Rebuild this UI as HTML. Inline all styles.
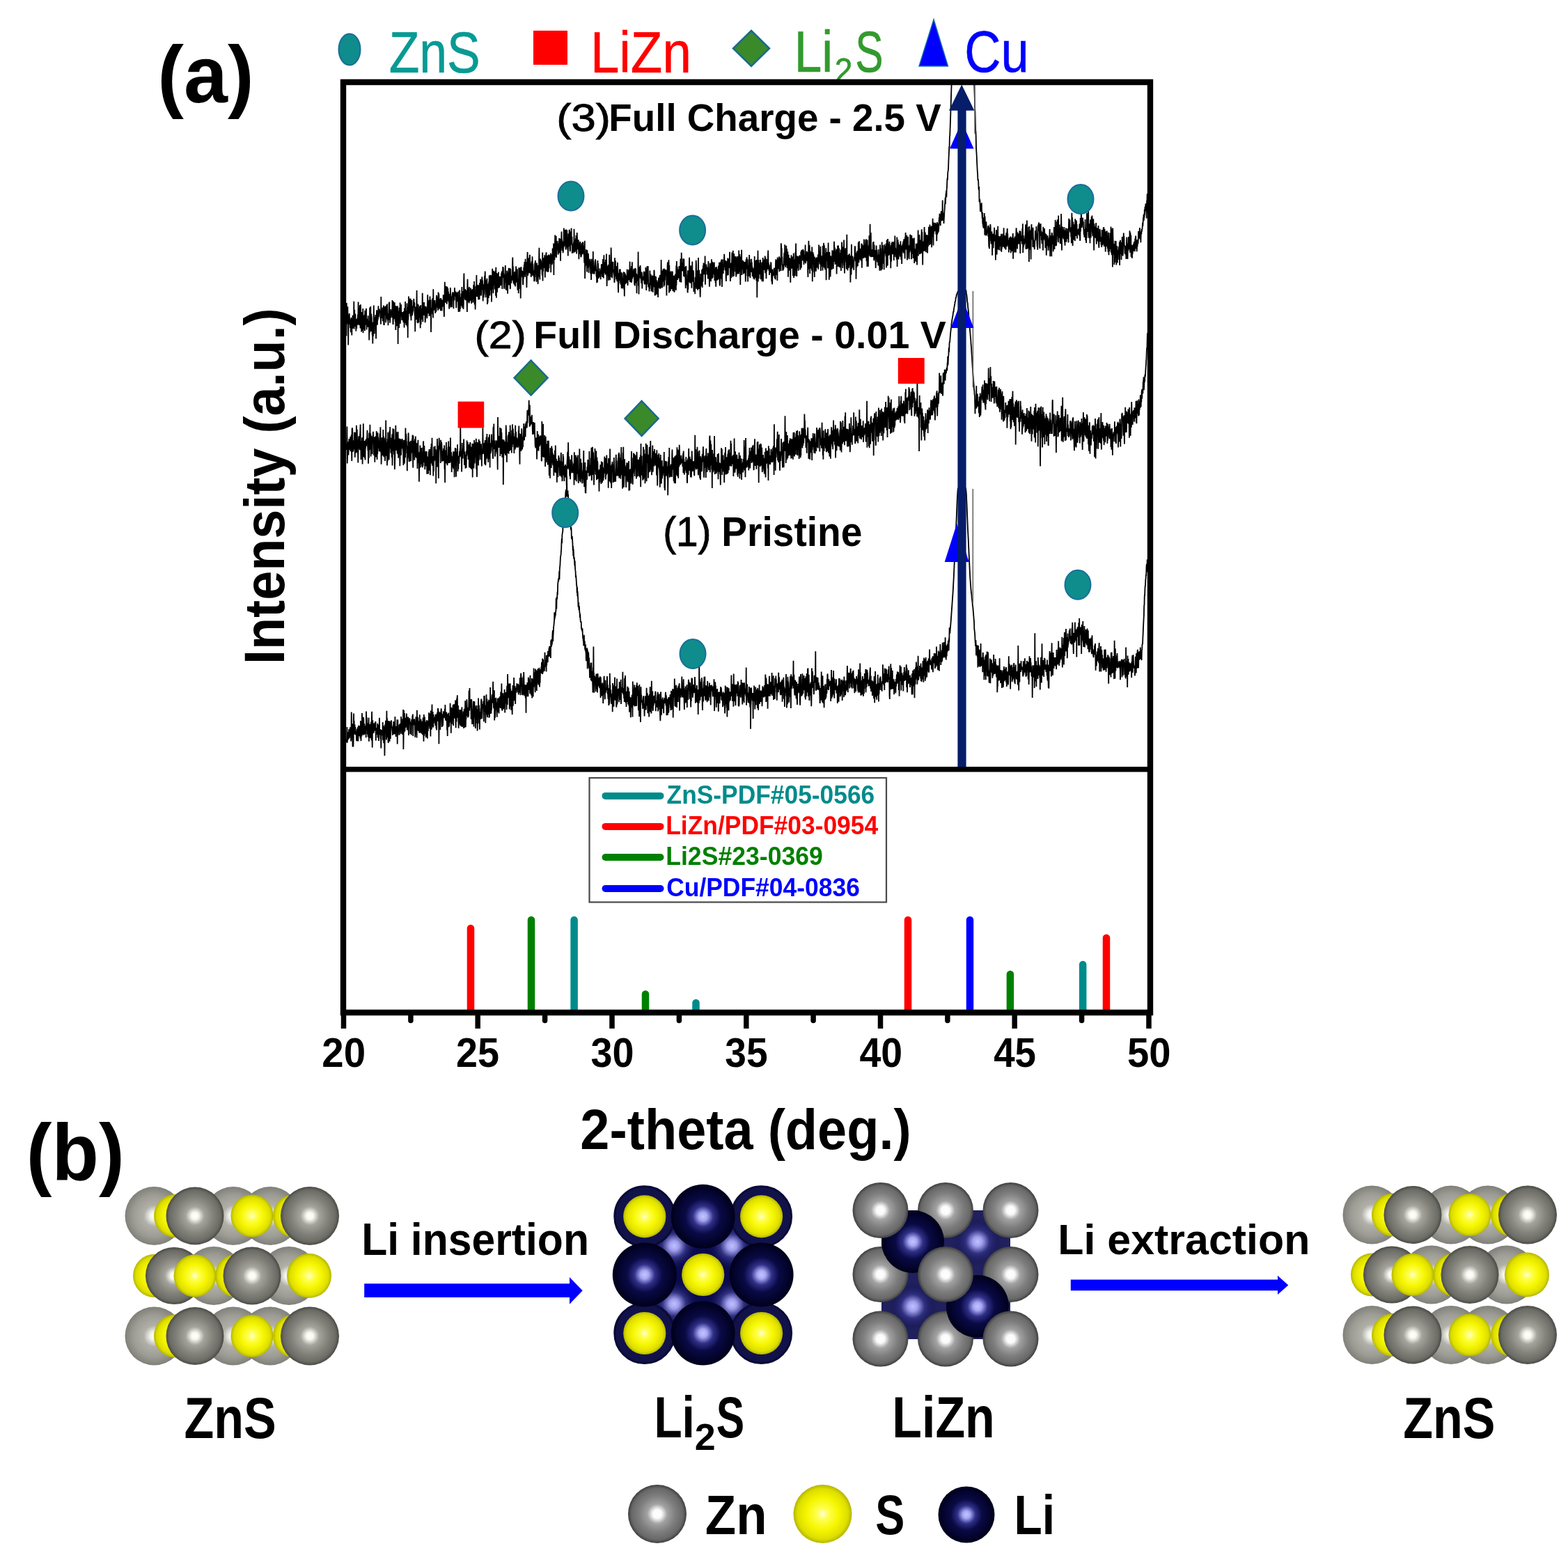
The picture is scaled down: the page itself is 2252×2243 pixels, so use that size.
<!DOCTYPE html>
<html><head><meta charset="utf-8"><title>XRD figure</title>
<style>
html,body{margin:0;padding:0;background:#fff;overflow:hidden;}
svg{display:block;}
text{font-family:'Liberation Sans', Arial, sans-serif;font-kerning:none;}
</style></head>
<body>
<svg width="2252" height="2243" viewBox="0 0 2252 2243">
<rect width="2252" height="2243" fill="#fff"/>

<defs>
 <clipPath id="plotclip"><rect x="497" y="122" width="1151" height="979"/></clipPath>
 <radialGradient id="gZnF" cx="0.5" cy="0.5" r="0.5">
   <stop offset="0" stop-color="#ffffff"/><stop offset="0.12" stop-color="#f8f8f2"/>
   <stop offset="0.32" stop-color="#a4a49c"/><stop offset="0.62" stop-color="#83837c"/><stop offset="0.88" stop-color="#6c6c66"/><stop offset="1" stop-color="#4a4a45"/>
 </radialGradient>
 <radialGradient id="gZnB" cx="0.5" cy="0.5" r="0.5">
   <stop offset="0" stop-color="#ffffff"/><stop offset="0.14" stop-color="#f2f2ec"/>
   <stop offset="0.36" stop-color="#b0b0a9"/><stop offset="0.72" stop-color="#9c9c95"/><stop offset="1" stop-color="#80807a"/>
 </radialGradient>
 <radialGradient id="gS" cx="0.5" cy="0.5" r="0.5">
   <stop offset="0" stop-color="#ffffd8"/><stop offset="0.2" stop-color="#ffff50"/>
   <stop offset="0.55" stop-color="#f6f600"/><stop offset="0.86" stop-color="#dede00"/><stop offset="1" stop-color="#b4b400"/>
 </radialGradient>
 <radialGradient id="gLi" cx="0.5" cy="0.5" r="0.5">
   <stop offset="0" stop-color="#c4c4ff"/><stop offset="0.13" stop-color="#a8a8f4"/>
   <stop offset="0.32" stop-color="#303088"/><stop offset="0.55" stop-color="#0a0a46"/><stop offset="0.85" stop-color="#03032a"/><stop offset="1" stop-color="#00001a"/>
 </radialGradient>
 <radialGradient id="gLiB" cx="0.5" cy="0.5" r="0.5">
   <stop offset="0" stop-color="#c0c0ff"/><stop offset="0.2" stop-color="#a0a0ee"/>
   <stop offset="0.5" stop-color="#303080"/><stop offset="1" stop-color="#0e0e50" stop-opacity="0"/>
 </radialGradient>
 <radialGradient id="gZnL" cx="0.5" cy="0.5" r="0.5">
   <stop offset="0" stop-color="#ffffff"/><stop offset="0.15" stop-color="#fafafa"/>
   <stop offset="0.34" stop-color="#a2a2a2"/><stop offset="0.62" stop-color="#7e7e7e"/><stop offset="0.88" stop-color="#686868"/><stop offset="1" stop-color="#3e3e3e"/>
 </radialGradient>
</defs>

<text x="226.37" y="147.00" font-size="115.00" font-weight="bold" fill="#000" textLength="138.27" lengthAdjust="spacingAndGlyphs">(a)</text>
<ellipse cx="502" cy="71" rx="15.5" ry="22.5" fill="#0f8c8c" stroke="#1a6e9a" stroke-width="2"/>
<text x="558.73" y="104.00" font-size="84.30" font-weight="normal" fill="#089a94" textLength="131.05" lengthAdjust="spacingAndGlyphs" stroke="#089a94" stroke-width="0.6">ZnS</text>
<rect x="766" y="44" width="49" height="49" fill="#ff0000"/>
<text x="847.89" y="104.00" font-size="84.30" font-weight="normal" fill="#ff0000" textLength="144.95" lengthAdjust="spacingAndGlyphs" stroke="#ff0000" stroke-width="0.6">LiZn</text>
<polygon points="1079,44 1105,69.5 1079,95 1053,69.5" fill="#3a8a2a" stroke="#1a6a8a" stroke-width="2.5"/>
<text x="1140.77" y="103.30" font-size="83.14" font-weight="normal" fill="#339a2e" textLength="55.32" lengthAdjust="spacingAndGlyphs" stroke="#339a2e" stroke-width="0.6">Li</text>
<text x="1198.87" y="119.00" font-size="50.87" font-weight="normal" fill="#339a2e" textLength="25.76" lengthAdjust="spacingAndGlyphs" stroke="#339a2e" stroke-width="0.6">2</text>
<text x="1228.25" y="103.30" font-size="83.14" font-weight="normal" fill="#339a2e" textLength="40.32" lengthAdjust="spacingAndGlyphs" stroke="#339a2e" stroke-width="0.6">S</text>
<polygon points="1341,28 1361.5,95 1320,95" fill="#0000ff" stroke="#1a6ab0" stroke-width="1.5"/>
<text x="1385.33" y="103.30" font-size="83.58" font-weight="normal" fill="#0000ff" textLength="92.48" lengthAdjust="spacingAndGlyphs" stroke="#0000ff" stroke-width="0.6">Cu</text>
<g clip-path="url(#plotclip)">
<path d="M497.5,482.4 497.8,434.9 498.1,465.5 498.4,455.3 498.7,456.5 499.0,458.9 499.3,440.3 499.6,458.7 499.9,452.2 500.2,495.4 500.5,463.4 500.8,457.4 501.1,458.1 501.4,454.1 501.7,450.1 502.0,457.0 502.3,466.0 502.6,458.6 502.9,471.0 503.2,459.1 503.5,461.4 503.8,477.2 504.1,466.9 504.4,456.1 504.7,459.5 505.0,467.1 505.3,481.5 505.6,458.8 505.9,459.2 506.2,472.1 506.5,452.7 506.8,458.9 507.1,471.1 507.4,468.0 507.7,462.9 508.0,468.9 508.3,432.8 508.6,472.6 508.9,452.1 509.2,444.7 509.5,464.7 509.8,469.0 510.1,457.1 510.4,450.4 510.7,461.7 511.0,460.7 511.3,475.6 511.6,468.7 511.9,462.8 512.2,472.1 512.5,458.3 512.8,458.2 513.1,466.1 513.4,465.9 513.7,457.5 514.0,451.5 514.3,461.8 514.6,433.6 514.9,466.4 515.2,464.3 515.5,442.3 515.8,459.8 516.1,449.3 516.4,467.1 516.7,438.3 517.0,449.9 517.3,466.8 517.6,471.5 517.9,437.3 518.2,454.6 518.5,463.2 518.8,453.6 519.1,476.5 519.4,447.9 519.7,464.0 520.0,449.6 520.3,475.0 520.6,460.3 520.9,456.8 521.2,442.9 521.5,478.1 521.8,468.5 522.1,468.6 522.4,472.6 522.7,464.4 523.0,454.2 523.3,452.6 523.6,452.5 523.9,475.0 524.2,445.7 524.5,454.6 524.8,457.5 525.1,463.1 525.4,466.7 525.7,447.9 526.0,442.9 526.3,460.8 526.6,473.4 526.9,464.0 527.2,463.2 527.5,457.7 527.8,464.1 528.1,458.7 528.4,469.7 528.7,453.2 529.0,462.9 529.3,460.5 529.6,467.4 529.9,464.3 530.2,488.5 530.5,460.7 530.8,478.0 531.1,441.6 531.4,446.1 531.7,456.8 532.0,468.8 532.3,439.9 532.6,475.8 532.9,474.9 533.2,450.6 533.5,454.1 533.8,456.1 534.1,465.0 534.4,471.3 534.7,481.4 535.0,462.7 535.3,493.4 535.6,466.4 535.9,483.0 536.2,472.4 536.5,478.8 536.8,438.5 537.1,462.3 537.4,455.7 537.7,479.5 538.0,470.5 538.3,460.2 538.6,458.4 538.9,467.7 539.2,455.0 539.5,452.2 539.8,466.4 540.1,486.5 540.4,458.0 540.7,454.3 541.0,447.4 541.3,445.2 541.6,463.9 541.9,466.7 542.2,457.5 542.5,460.2 542.8,457.4 543.1,457.1 543.4,439.3 543.7,449.7 544.0,455.0 544.3,445.2 544.6,447.8 544.9,443.6 545.2,448.0 545.5,449.7 545.8,446.1 546.1,448.1 546.4,457.6 546.7,455.3 547.0,465.6 547.3,425.9 547.6,455.9 547.9,441.6 548.2,447.6 548.5,454.5 548.8,456.7 549.1,455.9 549.4,446.5 549.7,461.3 550.0,441.6 550.3,442.9 550.6,452.6 550.9,438.6 551.2,466.7 551.5,454.9 551.8,467.0 552.1,444.3 552.4,440.8 552.7,446.8 553.0,452.9 553.3,439.5 553.6,449.8 553.9,446.0 554.2,463.3 554.5,440.1 554.8,458.1 555.1,441.0 555.4,438.1 555.7,441.1 556.0,436.5 556.3,450.6 556.6,460.1 556.9,451.4 557.2,456.5 557.5,467.2 557.8,453.4 558.1,452.9 558.4,448.3 558.7,434.7 559.0,459.4 559.3,433.5 559.6,458.6 559.9,451.9 560.2,463.8 560.5,456.1 560.8,443.9 561.1,456.2 561.4,446.8 561.7,450.8 562.0,453.2 562.3,451.4 562.6,452.5 562.9,444.3 563.2,456.2 563.5,430.9 563.8,451.4 564.1,440.7 564.4,464.6 564.7,466.1 565.0,432.8 565.3,454.5 565.6,451.6 565.9,447.8 566.2,458.3 566.5,447.9 566.8,434.3 567.1,449.7 567.4,450.8 567.7,462.0 568.0,439.2 568.3,473.9 568.6,459.1 568.9,439.5 569.2,444.3 569.5,450.0 569.8,439.9 570.1,468.3 570.4,452.2 570.7,439.3 571.0,441.3 571.3,448.6 571.6,493.9 571.9,446.7 572.2,449.6 572.5,453.3 572.8,447.3 573.1,471.0 573.4,441.8 573.7,454.7 574.0,448.6 574.3,453.2 574.6,434.6 574.9,464.8 575.2,445.4 575.5,447.0 575.8,437.1 576.1,438.7 576.4,452.8 576.7,451.2 577.0,455.1 577.3,460.0 577.6,455.2 577.9,448.4 578.2,457.0 578.5,454.8 578.8,448.0 579.1,456.9 579.4,463.0 579.7,452.5 580.0,446.7 580.3,458.1 580.6,470.5 580.9,442.4 581.2,450.5 581.5,450.2 581.8,464.3 582.1,433.0 582.4,455.7 582.7,464.1 583.0,455.0 583.3,467.1 583.6,457.2 583.9,445.9 584.2,453.5 584.5,435.4 584.8,445.1 585.1,469.3 585.4,441.1 585.7,485.1 586.0,448.8 586.3,459.4 586.6,449.3 586.9,425.6 587.2,442.3 587.5,449.7 587.8,435.6 588.1,433.2 588.4,450.4 588.7,439.6 589.0,428.6 589.3,438.6 589.6,454.2 589.9,429.2 590.2,454.4 590.5,460.3 590.8,444.8 591.1,432.8 591.4,430.9 591.7,443.9 592.0,453.1 592.3,446.9 592.6,449.7 592.9,439.6 593.2,447.4 593.5,439.6 593.8,441.3 594.1,431.5 594.4,428.9 594.7,440.2 595.0,434.1 595.3,435.9 595.6,452.8 595.9,445.1 596.2,476.2 596.5,456.2 596.8,440.5 597.1,455.2 597.4,451.1 597.7,440.6 598.0,459.1 598.3,440.1 598.6,416.9 598.9,456.4 599.2,442.0 599.5,463.5 599.8,441.8 600.1,436.4 600.4,464.2 600.7,437.4 601.0,450.4 601.3,463.1 601.6,449.4 601.9,447.3 602.2,449.0 602.5,456.5 602.8,439.6 603.1,453.9 603.4,453.5 603.7,471.3 604.0,443.9 604.3,438.0 604.6,466.1 604.9,443.1 605.2,450.0 605.5,448.3 605.8,458.8 606.1,446.8 606.4,445.9 606.7,420.8 607.0,437.7 607.3,462.3 607.6,439.7 607.9,439.4 608.2,434.1 608.5,452.3 608.8,448.1 609.1,434.1 609.4,452.9 609.7,448.6 610.0,441.9 610.3,439.7 610.6,463.2 610.9,460.5 611.2,443.9 611.5,439.7 611.8,442.2 612.1,453.3 612.4,441.6 612.7,455.0 613.0,449.7 613.3,457.3 613.6,451.6 613.9,442.4 614.2,423.3 614.5,445.5 614.8,450.1 615.1,443.5 615.4,447.1 615.7,436.4 616.0,436.9 616.3,430.9 616.6,453.9 616.9,441.4 617.2,434.4 617.5,425.5 617.8,437.1 618.1,453.0 618.4,442.7 618.7,430.4 619.0,476.9 619.3,451.7 619.6,446.9 619.9,444.7 620.2,448.3 620.5,441.9 620.8,444.1 621.1,428.2 621.4,451.2 621.7,438.3 622.0,456.5 622.3,415.2 622.6,443.1 622.9,446.0 623.2,432.6 623.5,440.7 623.8,443.9 624.1,442.2 624.4,431.0 624.7,435.1 625.0,447.0 625.3,449.8 625.6,438.0 625.9,437.8 626.2,439.2 626.5,447.8 626.8,426.7 627.1,423.9 627.4,438.7 627.7,426.3 628.0,431.6 628.3,438.5 628.6,442.5 628.9,426.7 629.2,445.7 629.5,419.5 629.8,443.0 630.1,421.4 630.4,424.3 630.7,443.6 631.0,432.9 631.3,428.7 631.6,432.1 631.9,441.1 632.2,435.6 632.5,435.6 632.8,446.3 633.1,428.0 633.4,430.2 633.7,429.3 634.0,446.0 634.3,443.9 634.6,446.4 634.9,432.6 635.2,430.9 635.5,440.7 635.8,432.6 636.1,439.6 636.4,438.1 636.7,423.3 637.0,429.1 637.3,428.3 637.6,446.6 637.9,454.9 638.2,427.4 638.5,428.2 638.8,404.7 639.1,429.6 639.4,422.6 639.7,416.1 640.0,434.7 640.3,410.8 640.6,424.3 640.9,427.7 641.2,413.6 641.5,434.8 641.8,436.7 642.1,412.1 642.4,411.9 642.7,432.1 643.0,425.7 643.3,413.8 643.6,423.0 643.9,418.5 644.2,424.5 644.5,434.2 644.8,421.8 645.1,443.6 645.4,439.6 645.7,432.5 646.0,436.4 646.3,438.7 646.6,432.4 646.9,412.9 647.2,433.6 647.5,440.9 647.8,440.9 648.1,425.5 648.4,429.6 648.7,427.5 649.0,440.9 649.3,425.8 649.6,421.2 649.9,426.9 650.2,419.4 650.5,425.4 650.8,423.7 651.1,426.6 651.4,443.2 651.7,420.0 652.0,424.6 652.3,422.4 652.6,431.4 652.9,413.1 653.2,418.3 653.5,425.2 653.8,421.4 654.1,425.8 654.4,421.7 654.7,418.4 655.0,432.6 655.3,442.3 655.6,431.5 655.9,430.5 656.2,433.4 656.5,419.9 656.8,426.6 657.1,427.3 657.4,433.2 657.7,430.2 658.0,418.6 658.3,442.2 658.6,448.0 658.9,428.6 659.2,435.3 659.5,434.0 659.8,439.2 660.1,416.6 660.4,447.4 660.7,426.5 661.0,443.7 661.3,431.8 661.6,426.9 661.9,429.2 662.2,439.3 662.5,421.5 662.8,426.1 663.1,424.7 663.4,412.1 663.7,441.8 664.0,434.3 664.3,428.0 664.6,436.7 664.9,418.0 665.2,426.4 665.5,444.0 665.8,436.2 666.1,403.9 666.4,392.5 666.7,415.0 667.0,426.6 667.3,420.0 667.6,422.2 667.9,430.2 668.2,415.0 668.5,425.7 668.8,431.3 669.1,427.8 669.4,426.9 669.7,416.8 670.0,427.8 670.3,418.4 670.6,435.5 670.9,448.1 671.2,415.1 671.5,400.8 671.8,418.2 672.1,426.2 672.4,433.0 672.7,433.3 673.0,414.8 673.3,414.8 673.6,435.4 673.9,412.0 674.2,433.8 674.5,420.8 674.8,430.8 675.1,430.3 675.4,431.1 675.7,431.6 676.0,413.6 676.3,426.5 676.6,423.7 676.9,426.6 677.2,435.9 677.5,420.8 677.8,416.4 678.1,416.1 678.4,420.2 678.7,430.6 679.0,414.9 679.3,434.4 679.6,425.6 679.9,420.2 680.2,408.9 680.5,424.5 680.8,428.7 681.1,403.9 681.4,433.2 681.7,437.5 682.0,424.1 682.3,425.4 682.6,444.4 682.9,432.3 683.2,410.7 683.5,419.3 683.8,417.6 684.1,417.5 684.4,395.1 684.7,426.0 685.0,411.8 685.3,423.7 685.6,416.3 685.9,426.1 686.2,414.2 686.5,408.9 686.8,421.9 687.1,430.4 687.4,412.8 687.7,429.4 688.0,418.0 688.3,409.7 688.6,430.1 688.9,406.2 689.2,424.3 689.5,408.8 689.8,418.1 690.1,400.9 690.4,404.5 690.7,423.4 691.0,424.4 691.3,412.5 691.6,407.5 691.9,416.2 692.2,397.4 692.5,400.0 692.8,409.6 693.1,402.6 693.4,421.4 693.7,432.4 694.0,409.3 694.3,408.4 694.6,427.3 694.9,420.7 695.2,422.9 695.5,410.3 695.8,405.5 696.1,395.9 696.4,404.5 696.7,389.6 697.0,404.8 697.3,418.5 697.6,427.2 697.9,420.6 698.2,402.2 698.5,415.9 698.8,403.0 699.1,419.3 699.4,399.8 699.7,419.7 700.0,437.0 700.3,420.2 700.6,434.4 700.9,412.6 701.2,407.4 701.5,424.1 701.8,427.9 702.1,404.7 702.4,410.9 702.7,395.5 703.0,407.8 703.3,418.6 703.6,424.4 703.9,403.5 704.2,394.8 704.5,412.6 704.8,416.8 705.1,414.6 705.4,411.0 705.7,395.3 706.0,433.4 706.3,407.4 706.6,406.4 706.9,415.2 707.2,385.7 707.5,406.9 707.8,406.1 708.1,411.2 708.4,421.1 708.7,412.1 709.0,388.7 709.3,403.8 709.6,409.3 709.9,408.7 710.2,394.2 710.5,390.3 710.8,415.5 711.1,410.5 711.4,406.7 711.7,388.4 712.0,424.8 712.3,383.8 712.6,403.0 712.9,427.8 713.2,392.0 713.5,408.7 713.8,394.2 714.1,419.8 714.4,392.7 714.7,408.3 715.0,406.9 715.3,394.6 715.6,414.1 715.9,390.5 716.2,397.7 716.5,404.1 716.8,399.9 717.1,408.6 717.4,413.0 717.7,400.3 718.0,397.5 718.3,397.4 718.6,398.7 718.9,410.3 719.2,399.5 719.5,398.6 719.8,400.2 720.1,392.3 720.4,409.4 720.7,389.8 721.0,400.1 721.3,414.9 721.6,388.5 721.9,398.8 722.2,383.1 722.5,393.8 722.8,383.7 723.1,395.1 723.4,393.3 723.7,400.0 724.0,414.8 724.3,401.6 724.6,405.5 724.9,398.4 725.2,396.5 725.5,390.7 725.8,381.0 726.1,400.2 726.4,415.6 726.7,404.7 727.0,394.7 727.3,417.1 727.6,396.2 727.9,394.5 728.2,388.7 728.5,391.4 728.8,398.9 729.1,421.8 729.4,399.7 729.7,391.4 730.0,395.9 730.3,399.8 730.6,384.8 730.9,403.5 731.2,409.4 731.5,405.5 731.8,408.3 732.1,389.2 732.4,385.0 732.7,415.1 733.0,413.0 733.3,386.2 733.6,403.7 733.9,401.7 734.2,406.8 734.5,403.2 734.8,395.8 735.1,402.6 735.4,402.0 735.7,399.7 736.0,381.2 736.3,369.4 736.6,391.4 736.9,382.6 737.2,401.3 737.5,405.7 737.8,407.1 738.1,394.3 738.4,398.5 738.7,409.3 739.0,390.0 739.3,406.4 739.6,404.1 739.9,407.9 740.2,411.4 740.5,389.5 740.8,406.2 741.1,382.4 741.4,389.0 741.7,388.4 742.0,405.1 742.3,387.7 742.6,397.9 742.9,386.2 743.2,408.6 743.5,416.6 743.8,400.7 744.1,415.3 744.4,404.7 744.7,421.2 745.0,400.7 745.3,384.2 745.6,415.1 745.9,399.1 746.2,390.1 746.5,394.1 746.8,384.4 747.1,399.0 747.4,389.8 747.7,428.4 748.0,406.9 748.3,383.3 748.6,384.4 748.9,393.4 749.2,388.6 749.5,396.9 749.8,397.0 750.1,389.0 750.4,390.6 750.7,400.3 751.0,408.7 751.3,408.7 751.6,393.2 751.9,400.6 752.2,383.9 752.5,394.6 752.8,380.1 753.1,386.4 753.4,376.0 753.7,378.0 754.0,397.7 754.3,392.1 754.6,371.7 754.9,380.3 755.2,386.6 755.5,387.2 755.8,376.2 756.1,385.3 756.4,413.1 756.7,398.1 757.0,389.5 757.3,370.7 757.6,361.9 757.9,384.9 758.2,395.7 758.5,385.7 758.8,392.8 759.1,379.2 759.4,370.5 759.7,391.7 760.0,385.3 760.3,391.2 760.6,370.7 760.9,365.7 761.2,378.4 761.5,392.8 761.8,379.1 762.1,379.0 762.4,379.3 762.7,397.8 763.0,395.3 763.3,378.0 763.6,375.6 763.9,375.5 764.2,395.9 764.5,368.2 764.8,378.0 765.1,392.9 765.4,379.2 765.7,385.5 766.0,394.9 766.3,394.9 766.6,397.3 766.9,388.2 767.2,404.2 767.5,390.2 767.8,403.5 768.1,377.6 768.4,397.9 768.7,376.3 769.0,374.0 769.3,393.8 769.6,380.8 769.9,393.4 770.2,378.4 770.5,404.8 770.8,388.9 771.1,377.6 771.4,390.4 771.7,397.2 772.0,380.7 772.3,393.2 772.6,408.0 772.9,396.1 773.2,387.1 773.5,381.2 773.8,397.8 774.1,371.1 774.4,355.7 774.7,378.7 775.0,374.1 775.3,401.5 775.6,385.2 775.9,373.7 776.2,371.4 776.5,387.3 776.8,373.7 777.1,375.7 777.4,380.1 777.7,381.4 778.0,381.1 778.3,380.8 778.6,392.1 778.9,395.6 779.2,362.4 779.5,403.5 779.8,379.2 780.1,389.8 780.4,370.2 780.7,380.3 781.0,379.0 781.3,377.8 781.6,384.7 781.9,382.4 782.2,366.3 782.5,374.7 782.8,398.6 783.1,382.1 783.4,372.1 783.7,372.4 784.0,373.5 784.3,364.2 784.6,362.3 784.9,389.7 785.2,370.7 785.5,375.2 785.8,367.0 786.1,386.6 786.4,390.8 786.7,371.7 787.0,378.7 787.3,366.4 787.6,390.4 787.9,382.3 788.2,365.4 788.5,385.2 788.8,376.6 789.1,377.1 789.4,376.5 789.7,366.6 790.0,367.8 790.3,378.6 790.6,372.2 790.9,363.6 791.2,391.3 791.5,370.2 791.8,366.7 792.1,365.3 792.4,377.7 792.7,380.1 793.0,373.1 793.3,378.4 793.6,356.5 793.9,366.3 794.2,365.0 794.5,368.8 794.8,372.7 795.1,349.4 795.4,395.1 795.7,358.8 796.0,369.0 796.3,372.7 796.6,372.2 796.9,351.5 797.2,337.4 797.5,352.9 797.8,368.6 798.1,353.0 798.4,351.1 798.7,338.8 799.0,369.9 799.3,363.0 799.6,349.8 799.9,356.0 800.2,355.7 800.5,346.1 800.8,353.2 801.1,357.4 801.4,359.7 801.7,365.8 802.0,356.2 802.3,349.6 802.6,357.2 802.9,347.7 803.2,341.9 803.5,363.6 803.8,349.6 804.1,354.1 804.4,359.0 804.7,342.7 805.0,374.7 805.3,357.1 805.6,345.9 805.9,356.5 806.2,345.8 806.5,332.4 806.8,349.9 807.1,343.9 807.4,360.0 807.7,354.2 808.0,346.6 808.3,357.3 808.6,363.2 808.9,360.9 809.2,353.5 809.5,355.8 809.8,327.6 810.1,347.6 810.4,353.9 810.7,346.8 811.0,350.4 811.3,336.6 811.6,330.8 811.9,330.1 812.2,341.8 812.5,358.6 812.8,357.0 813.1,335.3 813.4,329.5 813.7,352.7 814.0,349.4 814.3,330.6 814.6,355.5 814.9,346.4 815.2,358.5 815.5,348.3 815.8,367.6 816.1,348.3 816.4,335.3 816.7,342.9 817.0,338.5 817.3,354.1 817.6,329.7 817.9,330.7 818.2,353.2 818.5,358.0 818.8,361.2 819.1,358.0 819.4,332.5 819.7,340.8 820.0,342.6 820.3,348.1 820.6,327.5 820.9,348.8 821.2,351.8 821.5,340.1 821.8,363.8 822.1,361.5 822.4,350.6 822.7,360.6 823.0,360.4 823.3,354.8 823.6,354.7 823.9,347.5 824.2,363.2 824.5,328.7 824.8,344.7 825.1,358.3 825.4,344.6 825.7,355.6 826.0,361.6 826.3,352.5 826.6,352.8 826.9,342.3 827.2,358.9 827.5,338.1 827.8,340.4 828.1,364.4 828.4,356.1 828.7,334.1 829.0,340.9 829.3,353.3 829.6,344.7 829.9,357.7 830.2,354.5 830.5,358.4 830.8,344.2 831.1,360.2 831.4,372.2 831.7,348.4 832.0,359.6 832.3,364.6 832.6,362.0 832.9,356.1 833.2,346.8 833.5,349.7 833.8,364.5 834.1,366.7 834.4,369.3 834.7,367.3 835.0,367.2 835.3,355.6 835.6,349.0 835.9,362.0 836.2,365.1 836.5,361.6 836.8,347.2 837.1,356.8 837.4,348.3 837.7,363.7 838.0,353.1 838.3,361.7 838.6,366.7 838.9,365.5 839.2,377.4 839.5,355.1 839.8,345.7 840.1,400.0 840.4,385.6 840.7,380.9 841.0,370.9 841.3,381.4 841.6,370.7 841.9,358.2 842.2,365.6 842.5,376.1 842.8,366.8 843.1,390.5 843.4,359.1 843.7,370.0 844.0,385.0 844.3,369.6 844.6,365.3 844.9,363.8 845.2,370.2 845.5,391.7 845.8,382.0 846.1,383.5 846.4,374.3 846.7,380.2 847.0,381.1 847.3,371.9 847.6,376.7 847.9,383.3 848.2,392.9 848.5,381.7 848.8,387.3 849.1,402.1 849.4,375.7 849.7,371.8 850.0,393.3 850.3,388.4 850.6,383.5 850.9,387.3 851.2,381.8 851.5,390.2 851.8,361.0 852.1,393.5 852.4,374.6 852.7,378.2 853.0,387.5 853.3,382.0 853.6,393.6 853.9,386.5 854.2,381.8 854.5,389.4 854.8,382.2 855.1,372.2 855.4,376.5 855.7,380.0 856.0,383.4 856.3,389.2 856.6,397.4 856.9,394.0 857.2,406.3 857.5,401.4 857.8,387.0 858.1,405.3 858.4,374.1 858.7,384.6 859.0,378.0 859.3,400.0 859.6,391.6 859.9,399.3 860.2,393.1 860.5,396.1 860.8,389.7 861.1,392.8 861.4,385.3 861.7,395.6 862.0,397.6 862.3,392.1 862.6,401.1 862.9,394.3 863.2,388.2 863.5,393.7 863.8,379.7 864.1,379.8 864.4,384.5 864.7,386.5 865.0,397.6 865.3,378.9 865.6,397.9 865.9,372.0 866.2,379.9 866.5,387.4 866.8,399.4 867.1,381.6 867.4,366.2 867.7,392.0 868.0,387.5 868.3,376.9 868.6,377.3 868.9,380.8 869.2,388.8 869.5,394.5 869.8,372.8 870.1,387.5 870.4,387.3 870.7,383.9 871.0,364.5 871.3,388.6 871.6,411.1 871.9,398.5 872.2,383.6 872.5,395.5 872.8,382.0 873.1,383.5 873.4,393.6 873.7,380.1 874.0,402.8 874.3,385.5 874.6,384.7 874.9,395.6 875.2,365.7 875.5,376.2 875.8,391.7 876.1,402.2 876.4,385.2 876.7,389.3 877.0,379.0 877.3,386.3 877.6,355.5 877.9,365.9 878.2,397.8 878.5,375.4 878.8,377.7 879.1,399.3 879.4,395.9 879.7,379.9 880.0,379.9 880.3,384.7 880.6,375.9 880.9,391.5 881.2,387.5 881.5,387.6 881.8,394.3 882.1,394.2 882.4,406.0 882.7,403.0 883.0,370.3 883.3,397.3 883.6,377.0 883.9,374.2 884.2,396.4 884.5,382.3 884.8,386.6 885.1,401.2 885.4,383.9 885.7,381.9 886.0,394.7 886.3,404.3 886.6,397.6 886.9,376.7 887.2,386.3 887.5,391.8 887.8,413.4 888.1,420.2 888.4,403.2 888.7,407.2 889.0,392.1 889.3,400.5 889.6,401.0 889.9,386.4 890.2,396.6 890.5,402.9 890.8,386.4 891.1,406.1 891.4,405.9 891.7,409.0 892.0,390.8 892.3,400.1 892.6,414.1 892.9,407.6 893.2,391.7 893.5,402.2 893.8,414.6 894.1,399.4 894.4,404.2 894.7,413.0 895.0,400.2 895.3,399.5 895.6,390.3 895.9,393.9 896.2,415.8 896.5,399.2 896.8,425.4 897.1,391.1 897.4,400.6 897.7,408.4 898.0,392.9 898.3,407.8 898.6,395.4 898.9,404.0 899.2,405.6 899.5,406.4 899.8,395.7 900.1,398.2 900.4,405.0 900.7,386.5 901.0,401.3 901.3,404.7 901.6,409.9 901.9,398.7 902.2,397.0 902.5,400.1 902.8,387.6 903.1,396.1 903.4,402.2 903.7,400.7 904.0,386.9 904.3,394.0 904.6,375.5 904.9,405.1 905.2,391.3 905.5,399.0 905.8,385.1 906.1,395.3 906.4,400.6 906.7,406.0 907.0,381.9 907.3,404.4 907.6,394.0 907.9,376.2 908.2,400.4 908.5,392.5 908.8,392.5 909.1,388.4 909.4,397.8 909.7,396.0 910.0,393.8 910.3,385.9 910.6,390.4 910.9,399.8 911.2,408.9 911.5,395.5 911.8,410.4 912.1,395.8 912.4,384.7 912.7,402.4 913.0,386.0 913.3,400.0 913.6,406.8 913.9,392.7 914.2,394.9 914.5,421.2 914.8,398.3 915.1,398.5 915.4,403.8 915.7,394.8 916.0,394.9 916.3,399.8 916.6,361.4 916.9,410.4 917.2,384.9 917.5,422.4 917.8,401.6 918.1,396.4 918.4,383.3 918.7,398.4 919.0,384.6 919.3,389.2 919.6,381.0 919.9,388.1 920.2,400.8 920.5,398.2 920.8,400.2 921.1,406.6 921.4,396.8 921.7,390.6 922.0,394.6 922.3,414.6 922.6,398.1 922.9,401.2 923.2,397.0 923.5,400.6 923.8,402.6 924.1,398.2 924.4,396.8 924.7,390.5 925.0,389.9 925.3,402.9 925.6,406.5 925.9,408.4 926.2,399.6 926.5,390.6 926.8,405.7 927.1,405.7 927.4,383.9 927.7,407.9 928.0,405.7 928.3,417.1 928.6,388.4 928.9,387.0 929.2,408.6 929.5,382.1 929.8,393.3 930.1,389.9 930.4,390.9 930.7,382.0 931.0,399.5 931.3,412.4 931.6,407.1 931.9,407.5 932.2,409.0 932.5,418.5 932.8,409.3 933.1,415.1 933.4,388.4 933.7,408.4 934.0,393.3 934.3,409.0 934.6,407.7 934.9,394.2 935.2,408.0 935.5,418.4 935.8,411.7 936.1,412.9 936.4,397.9 936.7,400.0 937.0,395.6 937.3,408.7 937.6,419.7 937.9,412.0 938.2,407.5 938.5,395.9 938.8,412.1 939.1,405.0 939.4,387.7 939.7,389.5 940.0,403.9 940.3,398.1 940.6,424.6 940.9,407.7 941.2,396.5 941.5,402.2 941.8,423.8 942.1,397.3 942.4,415.1 942.7,411.6 943.0,422.3 943.3,412.4 943.6,402.6 943.9,412.2 944.2,407.3 944.5,423.6 944.8,405.7 945.1,426.9 945.4,405.0 945.7,410.5 946.0,398.8 946.3,406.7 946.6,405.4 946.9,406.5 947.2,413.8 947.5,398.4 947.8,394.8 948.1,414.7 948.4,399.7 948.7,395.2 949.0,413.6 949.3,409.1 949.6,373.0 949.9,395.9 950.2,407.4 950.5,407.3 950.8,392.7 951.1,413.6 951.4,388.6 951.7,393.8 952.0,396.9 952.3,395.0 952.6,386.3 952.9,404.6 953.2,393.1 953.5,411.8 953.8,385.6 954.1,390.2 954.4,409.7 954.7,392.8 955.0,402.5 955.3,386.9 955.6,388.5 955.9,390.1 956.2,390.8 956.5,387.6 956.8,391.3 957.1,398.1 957.4,424.6 957.7,392.7 958.0,398.4 958.3,401.4 958.6,381.3 958.9,376.6 959.2,409.5 959.5,406.9 959.8,394.4 960.1,397.8 960.4,373.3 960.7,381.0 961.0,420.6 961.3,380.9 961.6,405.9 961.9,390.1 962.2,400.5 962.5,417.7 962.8,417.7 963.1,396.2 963.4,410.3 963.7,389.4 964.0,394.3 964.3,404.4 964.6,415.1 964.9,395.6 965.2,407.2 965.5,403.0 965.8,389.5 966.1,401.2 966.4,418.0 966.7,402.0 967.0,408.2 967.3,411.6 967.6,395.8 967.9,415.9 968.2,418.6 968.5,419.6 968.8,416.7 969.1,398.6 969.4,397.2 969.7,395.0 970.0,393.6 970.3,394.5 970.6,412.4 970.9,416.8 971.2,381.4 971.5,409.5 971.8,375.0 972.1,397.1 972.4,389.8 972.7,382.9 973.0,402.0 973.3,399.1 973.6,393.6 973.9,391.8 974.2,386.6 974.5,394.6 974.8,389.2 975.1,399.4 975.4,381.9 975.7,395.7 976.0,398.0 976.3,404.8 976.6,402.3 976.9,393.1 977.2,383.7 977.5,371.6 977.8,389.6 978.1,403.6 978.4,405.6 978.7,362.7 979.0,380.5 979.3,384.4 979.6,377.2 979.9,389.4 980.2,387.8 980.5,382.1 980.8,387.0 981.1,371.3 981.4,377.7 981.7,378.6 982.0,396.9 982.3,371.6 982.6,386.2 982.9,396.5 983.2,388.5 983.5,397.7 983.8,383.3 984.1,394.7 984.4,400.0 984.7,413.9 985.0,399.2 985.3,382.1 985.6,393.0 985.9,394.4 986.2,409.8 986.5,400.3 986.8,409.3 987.1,402.6 987.4,417.4 987.7,420.5 988.0,388.2 988.3,415.9 988.6,401.8 988.9,402.5 989.2,396.8 989.5,405.5 989.8,387.1 990.1,369.8 990.4,391.0 990.7,401.8 991.0,394.2 991.3,406.6 991.6,402.9 991.9,393.2 992.2,381.3 992.5,403.4 992.8,400.7 993.1,402.9 993.4,413.8 993.7,397.3 994.0,397.1 994.3,375.5 994.6,404.8 994.9,398.5 995.2,391.5 995.5,403.0 995.8,388.3 996.1,393.4 996.4,419.0 996.7,406.6 997.0,408.4 997.3,406.6 997.6,405.5 997.9,410.8 998.2,422.3 998.5,398.1 998.8,406.4 999.1,412.3 999.4,395.2 999.7,373.8 1000.0,379.1 1000.3,414.7 1000.6,414.1 1000.9,394.3 1001.2,398.4 1001.5,405.0 1001.8,388.4 1002.1,416.8 1002.4,387.8 1002.7,391.0 1003.0,369.9 1003.3,413.9 1003.6,398.8 1003.9,414.9 1004.2,387.7 1004.5,413.5 1004.8,398.6 1005.1,399.8 1005.4,419.1 1005.7,426.8 1006.0,411.7 1006.3,393.1 1006.6,406.5 1006.9,411.0 1007.2,402.8 1007.5,402.8 1007.8,401.7 1008.1,387.2 1008.4,399.0 1008.7,413.0 1009.0,385.8 1009.3,396.8 1009.6,404.5 1009.9,381.3 1010.2,393.9 1010.5,377.4 1010.8,388.4 1011.1,379.8 1011.4,394.3 1011.7,388.7 1012.0,390.5 1012.3,390.9 1012.6,367.5 1012.9,408.7 1013.2,388.9 1013.5,379.9 1013.8,384.3 1014.1,384.6 1014.4,379.6 1014.7,385.3 1015.0,384.4 1015.3,394.5 1015.6,383.6 1015.9,393.0 1016.2,391.7 1016.5,386.2 1016.8,400.6 1017.1,387.7 1017.4,375.1 1017.7,385.9 1018.0,388.5 1018.3,386.8 1018.6,389.7 1018.9,411.8 1019.2,389.8 1019.5,392.3 1019.8,377.8 1020.1,401.5 1020.4,387.4 1020.7,379.8 1021.0,404.2 1021.3,394.0 1021.6,396.5 1021.9,372.3 1022.2,381.5 1022.5,396.0 1022.8,400.2 1023.1,375.9 1023.4,385.8 1023.7,398.7 1024.0,384.6 1024.3,385.6 1024.6,384.8 1024.9,377.0 1025.2,391.2 1025.5,394.1 1025.8,376.4 1026.1,392.2 1026.4,402.9 1026.7,393.6 1027.0,401.5 1027.3,386.0 1027.6,406.2 1027.9,383.8 1028.2,411.8 1028.5,387.6 1028.8,384.9 1029.1,383.2 1029.4,388.3 1029.7,387.6 1030.0,402.7 1030.3,389.5 1030.6,399.9 1030.9,386.6 1031.2,389.6 1031.5,401.5 1031.8,382.7 1032.1,382.4 1032.4,381.3 1032.7,399.4 1033.0,376.8 1033.3,378.3 1033.6,406.1 1033.9,410.5 1034.2,406.5 1034.5,376.6 1034.8,392.1 1035.1,400.4 1035.4,392.4 1035.7,374.2 1036.0,387.2 1036.3,372.6 1036.6,377.1 1036.9,412.1 1037.2,396.2 1037.5,373.3 1037.8,372.5 1038.1,392.5 1038.4,380.9 1038.7,392.9 1039.0,379.7 1039.3,383.9 1039.6,388.1 1039.9,374.4 1040.2,364.8 1040.5,372.1 1040.8,377.0 1041.1,381.8 1041.4,383.1 1041.7,382.8 1042.0,388.8 1042.3,373.9 1042.6,397.7 1042.9,404.0 1043.2,386.8 1043.5,375.3 1043.8,396.0 1044.1,389.7 1044.4,384.8 1044.7,381.1 1045.0,375.1 1045.3,370.6 1045.6,389.8 1045.9,395.2 1046.2,371.7 1046.5,382.0 1046.8,385.0 1047.1,378.2 1047.4,374.6 1047.7,378.4 1048.0,361.8 1048.3,381.6 1048.6,379.0 1048.9,404.1 1049.2,391.6 1049.5,378.0 1049.8,381.3 1050.1,399.1 1050.4,397.8 1050.7,376.4 1051.0,379.2 1051.3,362.4 1051.6,376.7 1051.9,378.2 1052.2,372.0 1052.5,397.6 1052.8,359.8 1053.1,377.9 1053.4,383.4 1053.7,383.6 1054.0,396.5 1054.3,364.2 1054.6,371.0 1054.9,379.8 1055.2,380.2 1055.5,374.8 1055.8,370.9 1056.1,390.2 1056.4,368.1 1056.7,373.2 1057.0,394.3 1057.3,397.5 1057.6,388.6 1057.9,370.7 1058.2,370.9 1058.5,370.6 1058.8,368.2 1059.1,375.9 1059.4,393.6 1059.7,387.9 1060.0,372.6 1060.3,372.5 1060.6,368.4 1060.9,393.3 1061.2,359.6 1061.5,383.5 1061.8,365.6 1062.1,369.6 1062.4,365.0 1062.7,390.5 1063.0,379.5 1063.3,408.9 1063.6,369.4 1063.9,368.7 1064.2,386.2 1064.5,385.8 1064.8,377.0 1065.1,358.8 1065.4,394.9 1065.7,385.7 1066.0,384.0 1066.3,373.7 1066.6,386.6 1066.9,374.1 1067.2,380.5 1067.5,378.2 1067.8,393.5 1068.1,375.6 1068.4,377.1 1068.7,392.5 1069.0,383.6 1069.3,381.4 1069.6,379.4 1069.9,392.2 1070.2,375.9 1070.5,387.9 1070.8,404.6 1071.1,388.0 1071.4,376.1 1071.7,372.2 1072.0,386.7 1072.3,372.8 1072.6,369.4 1072.9,378.6 1073.2,375.5 1073.5,396.4 1073.8,372.6 1074.1,404.5 1074.4,380.6 1074.7,389.9 1075.0,395.9 1075.3,391.5 1075.6,396.8 1075.9,379.2 1076.2,365.9 1076.5,387.5 1076.8,372.1 1077.1,383.5 1077.4,399.3 1077.7,387.3 1078.0,383.0 1078.3,377.3 1078.6,385.8 1078.9,386.8 1079.2,371.8 1079.5,391.1 1079.8,376.5 1080.1,389.7 1080.4,382.4 1080.7,397.1 1081.0,395.5 1081.3,386.4 1081.6,384.9 1081.9,390.4 1082.2,400.0 1082.5,396.5 1082.8,387.0 1083.1,388.5 1083.4,401.6 1083.7,368.1 1084.0,390.7 1084.3,375.7 1084.6,399.2 1084.9,380.1 1085.2,385.5 1085.5,374.1 1085.8,385.7 1086.1,394.0 1086.4,403.3 1086.7,373.0 1087.0,381.8 1087.3,427.2 1087.6,396.6 1087.9,386.9 1088.2,392.7 1088.5,359.7 1088.8,404.4 1089.1,389.4 1089.4,373.0 1089.7,400.2 1090.0,381.6 1090.3,377.5 1090.6,393.7 1090.9,392.4 1091.2,383.5 1091.5,387.4 1091.8,374.1 1092.1,373.0 1092.4,397.2 1092.7,401.3 1093.0,391.9 1093.3,391.1 1093.6,382.8 1093.9,385.2 1094.2,376.5 1094.5,404.2 1094.8,379.7 1095.1,389.5 1095.4,384.9 1095.7,370.0 1096.0,404.3 1096.3,379.9 1096.6,375.5 1096.9,376.5 1097.2,373.6 1097.5,382.9 1097.8,372.3 1098.1,387.9 1098.4,382.4 1098.7,367.4 1099.0,392.2 1099.3,383.3 1099.6,369.7 1099.9,384.8 1100.2,385.4 1100.5,400.2 1100.8,371.9 1101.1,389.8 1101.4,379.9 1101.7,387.4 1102.0,378.3 1102.3,380.5 1102.6,386.4 1102.9,369.0 1103.2,359.6 1103.5,381.5 1103.8,377.2 1104.1,382.9 1104.4,388.9 1104.7,380.1 1105.0,395.0 1105.3,382.4 1105.6,384.2 1105.9,391.9 1106.2,389.6 1106.5,382.9 1106.8,385.3 1107.1,376.4 1107.4,378.1 1107.7,385.8 1108.0,393.5 1108.3,404.6 1108.6,394.2 1108.9,405.9 1109.2,408.3 1109.5,386.5 1109.8,397.4 1110.1,392.9 1110.4,394.9 1110.7,395.6 1111.0,392.4 1111.3,395.7 1111.6,389.1 1111.9,384.5 1112.2,389.8 1112.5,392.2 1112.8,399.7 1113.1,390.8 1113.4,394.5 1113.7,401.4 1114.0,376.6 1114.3,372.4 1114.6,391.3 1114.9,385.6 1115.2,374.5 1115.5,394.9 1115.8,383.4 1116.1,373.3 1116.4,402.9 1116.7,369.4 1117.0,382.0 1117.3,374.7 1117.6,382.3 1117.9,386.5 1118.2,371.6 1118.5,378.5 1118.8,377.8 1119.1,368.3 1119.4,390.3 1119.7,379.6 1120.0,374.4 1120.3,370.1 1120.6,373.2 1120.9,377.9 1121.2,371.3 1121.5,388.9 1121.8,349.3 1122.1,353.3 1122.4,372.8 1122.7,356.2 1123.0,374.5 1123.3,368.4 1123.6,381.2 1123.9,379.5 1124.2,388.7 1124.5,384.8 1124.8,388.3 1125.1,380.9 1125.4,386.5 1125.7,380.8 1126.0,369.6 1126.3,362.8 1126.6,363.3 1126.9,380.9 1127.2,351.3 1127.5,377.9 1127.8,368.3 1128.1,383.7 1128.4,378.3 1128.7,368.5 1129.0,376.4 1129.3,352.8 1129.6,379.0 1129.9,381.0 1130.2,357.2 1130.5,385.0 1130.8,374.8 1131.1,377.8 1131.4,361.3 1131.7,382.2 1132.0,397.7 1132.3,375.8 1132.6,365.8 1132.9,383.8 1133.2,388.8 1133.5,380.2 1133.8,386.4 1134.1,370.2 1134.4,377.9 1134.7,380.3 1135.0,378.1 1135.3,405.7 1135.6,381.2 1135.9,371.2 1136.2,385.7 1136.5,366.2 1136.8,381.3 1137.1,385.6 1137.4,372.7 1137.7,374.6 1138.0,368.4 1138.3,379.4 1138.6,371.2 1138.9,396.0 1139.2,384.8 1139.5,375.8 1139.8,363.5 1140.1,398.9 1140.4,391.3 1140.7,382.6 1141.0,379.6 1141.3,379.2 1141.6,372.4 1141.9,396.3 1142.2,371.0 1142.5,361.8 1142.8,369.6 1143.1,349.6 1143.4,382.7 1143.7,383.6 1144.0,393.8 1144.3,397.0 1144.6,367.3 1144.9,379.9 1145.2,385.4 1145.5,383.2 1145.8,369.7 1146.1,368.1 1146.4,379.9 1146.7,388.8 1147.0,374.4 1147.3,372.2 1147.6,369.4 1147.9,370.7 1148.2,366.6 1148.5,370.8 1148.8,379.3 1149.1,378.7 1149.4,387.4 1149.7,384.9 1150.0,379.8 1150.3,361.3 1150.6,378.8 1150.9,384.6 1151.2,358.9 1151.5,360.6 1151.8,361.9 1152.1,360.7 1152.4,368.1 1152.7,361.2 1153.0,374.5 1153.3,357.8 1153.6,368.7 1153.9,364.6 1154.2,359.7 1154.5,380.1 1154.8,369.7 1155.1,374.9 1155.4,365.9 1155.7,376.6 1156.0,375.7 1156.3,367.9 1156.6,351.4 1156.9,378.2 1157.2,377.1 1157.5,372.0 1157.8,372.9 1158.1,371.9 1158.4,372.9 1158.7,360.8 1159.0,370.8 1159.3,374.9 1159.6,365.6 1159.9,362.2 1160.2,391.4 1160.5,397.9 1160.8,369.6 1161.1,367.8 1161.4,345.8 1161.7,358.5 1162.0,370.6 1162.3,386.5 1162.6,352.1 1162.9,366.1 1163.2,392.9 1163.5,360.0 1163.8,363.6 1164.1,385.4 1164.4,371.8 1164.7,371.1 1165.0,380.2 1165.3,381.6 1165.6,361.7 1165.9,388.4 1166.2,354.6 1166.5,365.4 1166.8,404.2 1167.1,367.2 1167.4,379.3 1167.7,362.3 1168.0,369.4 1168.3,365.4 1168.6,368.8 1168.9,379.8 1169.2,391.3 1169.5,382.5 1169.8,398.0 1170.1,368.7 1170.4,389.4 1170.7,380.3 1171.0,389.0 1171.3,370.8 1171.6,373.0 1171.9,389.8 1172.2,382.2 1172.5,377.2 1172.8,369.3 1173.1,375.5 1173.4,381.7 1173.7,384.3 1174.0,371.2 1174.3,373.5 1174.6,381.5 1174.9,365.6 1175.2,386.7 1175.5,376.8 1175.8,375.4 1176.1,351.6 1176.4,359.9 1176.7,365.5 1177.0,370.0 1177.3,364.5 1177.6,379.4 1177.9,376.7 1178.2,372.3 1178.5,353.8 1178.8,389.1 1179.1,371.5 1179.4,380.3 1179.7,367.0 1180.0,373.7 1180.3,380.7 1180.6,375.7 1180.9,383.0 1181.2,371.0 1181.5,388.6 1181.8,352.9 1182.1,366.7 1182.4,382.5 1182.7,369.6 1183.0,348.9 1183.3,353.6 1183.6,384.4 1183.9,352.2 1184.2,377.3 1184.5,374.0 1184.8,381.2 1185.1,387.3 1185.4,364.9 1185.7,363.9 1186.0,369.2 1186.3,356.3 1186.6,402.2 1186.9,368.9 1187.2,374.9 1187.5,361.7 1187.8,373.8 1188.1,367.4 1188.4,373.3 1188.7,363.0 1189.0,385.2 1189.3,368.0 1189.6,348.4 1189.9,381.9 1190.2,372.2 1190.5,366.3 1190.8,401.8 1191.1,375.2 1191.4,361.9 1191.7,369.5 1192.0,379.8 1192.3,373.5 1192.6,397.5 1192.9,386.8 1193.2,367.4 1193.5,375.9 1193.8,382.0 1194.1,370.8 1194.4,370.0 1194.7,387.3 1195.0,378.9 1195.3,359.2 1195.6,367.8 1195.9,368.8 1196.2,371.5 1196.5,364.8 1196.8,385.9 1197.1,361.4 1197.4,359.7 1197.7,372.8 1198.0,346.7 1198.3,359.1 1198.6,376.0 1198.9,355.2 1199.2,359.9 1199.5,379.8 1199.8,373.0 1200.1,368.6 1200.4,378.8 1200.7,360.5 1201.0,370.7 1201.3,357.4 1201.6,393.4 1201.9,372.8 1202.2,363.6 1202.5,366.5 1202.8,367.6 1203.1,352.6 1203.4,358.4 1203.7,383.0 1204.0,352.4 1204.3,375.0 1204.6,377.7 1204.9,382.8 1205.2,356.4 1205.5,382.3 1205.8,363.2 1206.1,384.3 1206.4,372.1 1206.7,363.9 1207.0,374.5 1207.3,372.6 1207.6,358.6 1207.9,389.1 1208.2,363.0 1208.5,378.1 1208.8,361.5 1209.1,347.5 1209.4,354.8 1209.7,365.6 1210.0,373.8 1210.3,385.1 1210.6,367.7 1210.9,364.0 1211.2,354.2 1211.5,366.8 1211.8,370.6 1212.1,344.6 1212.4,381.6 1212.7,380.2 1213.0,392.4 1213.3,359.4 1213.6,369.7 1213.9,369.8 1214.2,356.2 1214.5,361.6 1214.8,360.6 1215.1,376.8 1215.4,376.4 1215.7,386.5 1216.0,368.6 1216.3,336.7 1216.6,378.4 1216.9,378.2 1217.2,381.8 1217.5,388.4 1217.8,369.7 1218.1,384.6 1218.4,366.2 1218.7,366.4 1219.0,384.8 1219.3,376.8 1219.6,380.7 1219.9,364.2 1220.2,372.3 1220.5,380.9 1220.8,367.0 1221.1,370.9 1221.4,405.4 1221.7,382.8 1222.0,371.5 1222.3,369.4 1222.6,394.6 1222.9,350.7 1223.2,376.1 1223.5,385.9 1223.8,373.2 1224.1,384.3 1224.4,367.5 1224.7,378.0 1225.0,378.3 1225.3,377.6 1225.6,378.6 1225.9,377.7 1226.2,387.9 1226.5,373.0 1226.8,369.1 1227.1,371.8 1227.4,371.1 1227.7,357.8 1228.0,353.3 1228.3,358.6 1228.6,375.2 1228.9,364.8 1229.2,367.0 1229.5,400.8 1229.8,382.1 1230.1,367.8 1230.4,362.9 1230.7,383.5 1231.0,360.5 1231.3,381.2 1231.6,374.1 1231.9,382.1 1232.2,359.7 1232.5,376.4 1232.8,347.7 1233.1,364.5 1233.4,377.3 1233.7,373.1 1234.0,346.3 1234.3,372.4 1234.6,369.7 1234.9,364.0 1235.2,356.9 1235.5,361.2 1235.8,358.0 1236.1,373.6 1236.4,368.3 1236.7,374.4 1237.0,370.2 1237.3,349.4 1237.6,364.0 1237.9,384.7 1238.2,350.6 1238.5,364.9 1238.8,353.6 1239.1,352.2 1239.4,363.5 1239.7,370.7 1240.0,370.4 1240.3,365.6 1240.6,370.5 1240.9,343.5 1241.2,368.9 1241.5,364.4 1241.8,358.2 1242.1,359.9 1242.4,351.0 1242.7,370.3 1243.0,351.8 1243.3,344.2 1243.6,359.5 1243.9,353.4 1244.2,343.4 1244.5,375.1 1244.8,357.9 1245.1,360.6 1245.4,382.9 1245.7,344.6 1246.0,363.1 1246.3,371.4 1246.6,375.1 1246.9,382.7 1247.2,352.5 1247.5,365.8 1247.8,358.5 1248.1,358.9 1248.4,338.3 1248.7,344.6 1249.0,363.4 1249.3,368.0 1249.6,321.8 1249.9,368.4 1250.2,354.9 1250.5,350.4 1250.8,333.9 1251.1,364.3 1251.4,369.1 1251.7,358.7 1252.0,358.2 1252.3,368.5 1252.6,368.1 1252.9,362.4 1253.2,368.9 1253.5,365.4 1253.8,349.1 1254.1,347.8 1254.4,368.6 1254.7,346.9 1255.0,367.5 1255.3,374.3 1255.6,351.7 1255.9,372.2 1256.2,365.8 1256.5,371.0 1256.8,359.0 1257.1,365.5 1257.4,370.2 1257.7,384.9 1258.0,373.6 1258.3,371.2 1258.6,352.6 1258.9,369.6 1259.2,359.2 1259.5,365.6 1259.8,369.2 1260.1,376.5 1260.4,372.8 1260.7,368.7 1261.0,366.3 1261.3,381.1 1261.6,358.0 1261.9,367.7 1262.2,381.8 1262.5,365.7 1262.8,376.5 1263.1,377.3 1263.4,388.7 1263.7,380.1 1264.0,351.5 1264.3,368.7 1264.6,371.8 1264.9,377.5 1265.2,373.0 1265.5,388.5 1265.8,380.4 1266.1,356.8 1266.4,362.4 1266.7,347.5 1267.0,386.7 1267.3,367.3 1267.6,367.0 1267.9,351.9 1268.2,363.5 1268.5,372.2 1268.8,363.3 1269.1,378.9 1269.4,360.6 1269.7,387.2 1270.0,360.8 1270.3,351.1 1270.6,360.5 1270.9,361.4 1271.2,364.4 1271.5,362.5 1271.8,353.2 1272.1,362.5 1272.4,368.3 1272.7,349.6 1273.0,384.4 1273.3,381.3 1273.6,344.6 1273.9,373.9 1274.2,381.8 1274.5,376.6 1274.8,381.0 1275.1,343.0 1275.4,350.4 1275.7,356.4 1276.0,367.1 1276.3,350.0 1276.6,365.4 1276.9,365.3 1277.2,358.0 1277.5,346.7 1277.8,361.8 1278.1,360.3 1278.4,354.9 1278.7,372.5 1279.0,355.7 1279.3,385.2 1279.6,352.0 1279.9,375.7 1280.2,372.9 1280.5,349.1 1280.8,360.9 1281.1,360.5 1281.4,347.0 1281.7,365.2 1282.0,363.1 1282.3,347.8 1282.6,357.9 1282.9,362.8 1283.2,355.2 1283.5,349.4 1283.8,374.0 1284.1,346.8 1284.4,360.7 1284.7,369.0 1285.0,365.7 1285.3,338.6 1285.6,354.5 1285.9,356.8 1286.2,356.2 1286.5,365.2 1286.8,364.5 1287.1,370.3 1287.4,362.2 1287.7,357.9 1288.0,372.9 1288.3,340.5 1288.6,383.0 1288.9,354.8 1289.2,368.9 1289.5,344.0 1289.8,355.6 1290.1,348.0 1290.4,372.3 1290.7,370.3 1291.0,361.1 1291.3,359.2 1291.6,364.9 1291.9,351.0 1292.2,354.2 1292.5,352.4 1292.8,368.6 1293.1,360.1 1293.4,346.3 1293.7,362.8 1294.0,364.4 1294.3,373.0 1294.6,352.4 1294.9,362.0 1295.2,379.0 1295.5,353.6 1295.8,352.8 1296.1,361.5 1296.4,350.6 1296.7,355.4 1297.0,349.8 1297.3,346.5 1297.6,363.5 1297.9,350.2 1298.2,343.4 1298.5,350.6 1298.8,351.9 1299.1,356.3 1299.4,362.8 1299.7,371.4 1300.0,340.2 1300.3,350.3 1300.6,334.0 1300.9,355.2 1301.2,358.3 1301.5,346.2 1301.8,343.6 1302.1,342.9 1302.4,337.8 1302.7,360.0 1303.0,373.4 1303.3,342.0 1303.6,370.8 1303.9,352.9 1304.2,339.9 1304.5,360.3 1304.8,362.5 1305.1,358.9 1305.4,352.3 1305.7,372.3 1306.0,352.3 1306.3,361.9 1306.6,362.2 1306.9,352.4 1307.2,336.7 1307.5,338.0 1307.8,351.9 1308.1,359.8 1308.4,337.8 1308.7,348.8 1309.0,372.2 1309.3,338.0 1309.6,361.4 1309.9,360.3 1310.2,364.9 1310.5,341.8 1310.8,360.5 1311.1,342.8 1311.4,370.9 1311.7,348.3 1312.0,361.2 1312.3,369.2 1312.6,358.7 1312.9,341.5 1313.2,378.1 1313.5,363.4 1313.8,357.1 1314.1,373.7 1314.4,360.8 1314.7,365.0 1315.0,362.0 1315.3,375.8 1315.6,349.7 1315.9,353.5 1316.2,353.5 1316.5,362.1 1316.8,358.2 1317.1,380.6 1317.4,358.0 1317.7,349.4 1318.0,353.7 1318.3,358.5 1318.6,330.4 1318.9,367.5 1319.2,347.3 1319.5,349.1 1319.8,355.1 1320.1,349.5 1320.4,337.0 1320.7,349.1 1321.0,365.1 1321.3,361.3 1321.6,362.9 1321.9,344.6 1322.2,347.7 1322.5,360.2 1322.8,364.3 1323.1,349.4 1323.4,339.1 1323.7,329.2 1324.0,362.7 1324.3,333.0 1324.6,352.4 1324.9,356.9 1325.2,380.5 1325.5,349.6 1325.8,346.5 1326.1,352.1 1326.4,352.5 1326.7,360.7 1327.0,354.0 1327.3,339.4 1327.6,325.9 1327.9,349.8 1328.2,340.0 1328.5,360.6 1328.8,333.4 1329.1,348.3 1329.4,338.9 1329.7,337.2 1330.0,362.3 1330.3,347.2 1330.6,343.6 1330.9,352.4 1331.2,337.1 1331.5,340.9 1331.8,338.0 1332.1,363.5 1332.4,346.9 1332.7,349.6 1333.0,354.0 1333.3,340.8 1333.6,340.8 1333.9,325.8 1334.2,346.2 1334.5,343.6 1334.8,336.6 1335.1,352.0 1335.4,322.4 1335.7,343.4 1336.0,325.5 1336.3,327.3 1336.6,335.9 1336.9,350.5 1337.2,325.6 1337.5,327.0 1337.8,324.5 1338.1,355.3 1338.4,340.5 1338.7,338.9 1339.0,337.1 1339.3,336.7 1339.6,313.7 1339.9,328.8 1340.2,321.9 1340.5,352.5 1340.8,319.4 1341.1,335.5 1341.4,327.5 1341.7,328.0 1342.0,332.2 1342.3,330.5 1342.6,325.1 1342.9,319.8 1343.2,325.0 1343.5,321.1 1343.8,322.1 1344.1,331.3 1344.4,336.8 1344.7,334.0 1345.0,327.1 1345.3,346.3 1345.6,321.9 1345.9,319.1 1346.2,336.8 1346.5,320.9 1346.8,327.7 1347.1,334.7 1347.4,324.7 1347.7,321.8 1348.0,332.8 1348.3,326.6 1348.6,318.4 1348.9,312.0 1349.2,318.4 1349.5,306.7 1349.8,312.7 1350.1,310.1 1350.4,321.1 1350.7,324.2 1351.0,311.5 1351.3,312.5 1351.6,306.2 1351.9,303.0 1352.2,310.0 1352.5,317.2 1352.8,315.4 1353.1,315.3 1353.4,307.5 1353.7,287.4 1354.0,314.7 1354.3,316.5 1354.6,312.2 1354.9,310.9 1355.2,305.6 1355.5,321.0 1355.8,315.2 1356.1,309.9 1356.4,303.1 1356.7,300.7 1357.0,293.6 1357.3,290.6 1357.6,283.9 1357.9,293.0 1358.2,285.6 1358.5,278.6 1358.8,278.6 1359.1,273.7 1359.4,283.3 1359.7,271.3 1360.0,268.8 1360.3,259.2 1360.6,255.6 1360.9,258.7 1361.2,249.0 1361.5,245.5 1361.8,245.8 1362.1,241.1 1362.4,230.6 1362.7,224.3 1363.0,217.7 1363.3,210.1 1363.6,211.9 1363.9,195.5 1364.2,195.5 1364.5,187.5 1364.8,179.3 1365.1,170.3 1365.4,160.4 1365.7,150.3 1366.0,140.2 1366.3,130.4 1366.6,121.6 1366.9,113.9 1367.2,108.0 1367.5,103.5 1367.8,100.1 1368.1,98.2 1368.4,97.5 1368.7,99.1 1369.0,98.5 1369.3,97.1 1369.6,100.6 1369.9,98.8 1370.2,98.4 1370.5,97.7 1370.8,97.8 1371.1,100.1 1371.4,97.7 1371.7,99.1 1372.0,99.9 1372.3,99.7 1372.6,99.9 1372.9,99.1 1373.2,98.6 1373.5,100.3 1373.8,100.6 1374.1,98.7 1374.4,100.1 1374.7,99.2 1375.0,97.3 1375.3,98.1 1375.6,100.5 1375.9,101.4 1376.2,100.4 1376.5,99.3 1376.8,98.7 1377.1,100.3 1377.4,100.1 1377.7,97.6 1378.0,100.6 1378.3,98.9 1378.6,100.7 1378.9,100.6 1379.2,100.9 1379.5,101.4 1379.8,101.0 1380.1,98.7 1380.4,98.8 1380.7,101.6 1381.0,100.9 1381.3,98.2 1381.6,97.7 1381.9,101.6 1382.2,103.4 1382.5,101.6 1382.8,100.3 1383.1,101.0 1383.4,97.1 1383.7,99.4 1384.0,102.1 1384.3,102.0 1384.6,92.9 1384.9,102.5 1385.2,101.7 1385.5,102.2 1385.8,100.8 1386.1,101.1 1386.4,99.7 1386.7,101.5 1387.0,102.3 1387.3,99.9 1387.6,101.7 1387.9,100.5 1388.2,102.6 1388.5,102.5 1388.8,98.2 1389.1,101.8 1389.4,102.6 1389.7,100.5 1390.0,101.0 1390.3,101.1 1390.6,99.8 1390.9,99.7 1391.2,103.3 1391.5,101.9 1391.8,103.2 1392.1,102.5 1392.4,102.8 1392.7,101.3 1393.0,102.2 1393.3,103.8 1393.6,103.1 1393.9,101.5 1394.2,100.2 1394.5,99.9 1394.8,101.4 1395.1,101.6 1395.4,98.6 1395.7,101.3 1396.0,101.4 1396.3,101.3 1396.6,100.2 1396.9,103.9 1397.2,102.0 1397.5,99.1 1397.8,99.9 1398.1,101.4 1398.4,103.3 1398.7,108.2 1399.0,116.5 1399.3,124.8 1399.6,134.2 1399.9,143.5 1400.2,157.4 1400.5,160.1 1400.8,173.8 1401.1,186.7 1401.4,189.0 1401.7,195.6 1402.0,211.6 1402.3,217.1 1402.6,221.4 1402.9,227.3 1403.2,235.0 1403.5,240.7 1403.8,246.5 1404.1,249.3 1404.4,258.7 1404.7,258.6 1405.0,257.5 1405.3,263.5 1405.6,272.8 1405.9,271.7 1406.2,268.1 1406.5,290.3 1406.8,288.4 1407.1,285.9 1407.4,287.9 1407.7,296.3 1408.0,304.0 1408.3,292.4 1408.6,301.0 1408.9,295.4 1409.2,303.6 1409.5,294.8 1409.8,291.2 1410.1,306.3 1410.4,306.6 1410.7,313.8 1411.0,304.8 1411.3,321.4 1411.6,313.1 1411.9,325.5 1412.2,312.2 1412.5,327.8 1412.8,316.6 1413.1,319.4 1413.4,327.0 1413.7,306.1 1414.0,312.7 1414.3,337.4 1414.6,310.8 1414.9,320.0 1415.2,329.5 1415.5,338.1 1415.8,322.2 1416.1,328.4 1416.4,318.3 1416.7,325.4 1417.0,338.3 1417.3,332.9 1417.6,330.3 1417.9,335.0 1418.2,333.0 1418.5,333.9 1418.8,329.7 1419.1,324.5 1419.4,340.0 1419.7,323.8 1420.0,344.1 1420.3,354.6 1420.6,349.4 1420.9,357.2 1421.2,326.8 1421.5,339.0 1421.8,329.5 1422.1,330.6 1422.4,322.0 1422.7,326.9 1423.0,346.3 1423.3,345.2 1423.6,350.1 1423.9,349.7 1424.2,346.8 1424.5,332.4 1424.8,339.0 1425.1,366.8 1425.4,352.1 1425.7,337.2 1426.0,336.3 1426.3,337.1 1426.6,356.3 1426.9,346.9 1427.2,338.8 1427.5,334.8 1427.8,346.4 1428.1,326.7 1428.4,340.7 1428.7,337.8 1429.0,337.9 1429.3,345.7 1429.6,348.1 1429.9,373.5 1430.2,345.8 1430.5,351.9 1430.8,337.8 1431.1,330.0 1431.4,357.3 1431.7,365.6 1432.0,337.3 1432.3,346.6 1432.6,358.5 1432.9,348.8 1433.2,324.7 1433.5,358.2 1433.8,347.0 1434.1,355.8 1434.4,339.0 1434.7,357.6 1435.0,359.2 1435.3,341.5 1435.6,353.7 1435.9,342.1 1436.2,343.4 1436.5,339.1 1436.8,343.8 1437.1,341.1 1437.4,360.0 1437.7,345.3 1438.0,335.7 1438.3,361.7 1438.6,352.8 1438.9,357.4 1439.2,346.0 1439.5,354.0 1439.8,345.3 1440.1,335.9 1440.4,347.2 1440.7,347.5 1441.0,347.3 1441.3,354.8 1441.6,327.3 1441.9,348.9 1442.2,337.3 1442.5,342.7 1442.8,350.4 1443.1,356.8 1443.4,338.6 1443.7,353.6 1444.0,345.1 1444.3,355.5 1444.6,358.6 1444.9,342.0 1445.2,334.3 1445.5,346.3 1445.8,354.1 1446.1,349.0 1446.4,333.5 1446.7,328.1 1447.0,338.0 1447.3,335.7 1447.6,351.9 1447.9,346.1 1448.2,354.4 1448.5,344.5 1448.8,362.6 1449.1,345.5 1449.4,351.1 1449.7,341.2 1450.0,350.0 1450.3,356.6 1450.6,353.5 1450.9,358.7 1451.2,339.4 1451.5,350.4 1451.8,363.3 1452.1,348.5 1452.4,344.3 1452.7,343.7 1453.0,340.8 1453.3,347.8 1453.6,360.7 1453.9,351.2 1454.2,346.4 1454.5,338.5 1454.8,335.1 1455.1,371.7 1455.4,342.2 1455.7,348.1 1456.0,342.1 1456.3,348.9 1456.6,342.8 1456.9,348.3 1457.2,362.4 1457.5,339.5 1457.8,352.7 1458.1,346.4 1458.4,354.6 1458.7,339.8 1459.0,362.6 1459.3,336.3 1459.6,327.2 1459.9,332.4 1460.2,336.2 1460.5,334.2 1460.8,342.5 1461.1,357.6 1461.4,333.6 1461.7,350.4 1462.0,347.1 1462.3,337.9 1462.6,335.4 1462.9,349.8 1463.2,350.3 1463.5,341.5 1463.8,343.6 1464.1,345.1 1464.4,331.2 1464.7,346.3 1465.0,348.4 1465.3,363.9 1465.6,331.8 1465.9,336.1 1466.2,346.2 1466.5,339.2 1466.8,338.5 1467.1,345.5 1467.4,342.3 1467.7,345.0 1468.0,350.0 1468.3,328.1 1468.6,351.1 1468.9,321.2 1469.2,362.9 1469.5,354.5 1469.8,338.1 1470.1,355.1 1470.4,342.5 1470.7,348.3 1471.0,351.5 1471.3,346.9 1471.6,342.9 1471.9,349.1 1472.2,340.2 1472.5,338.0 1472.8,331.6 1473.1,322.2 1473.4,357.7 1473.7,348.9 1474.0,325.6 1474.3,344.2 1474.6,357.9 1474.9,316.4 1475.2,330.5 1475.5,338.0 1475.8,357.0 1476.1,350.3 1476.4,351.8 1476.7,341.8 1477.0,348.9 1477.3,325.9 1477.6,344.7 1477.9,376.0 1478.2,324.8 1478.5,340.7 1478.8,354.1 1479.1,358.4 1479.4,353.1 1479.7,330.8 1480.0,337.4 1480.3,333.0 1480.6,372.5 1480.9,329.9 1481.2,327.9 1481.5,322.1 1481.8,341.4 1482.1,344.2 1482.4,333.5 1482.7,332.1 1483.0,326.8 1483.3,354.8 1483.6,326.8 1483.9,340.8 1484.2,343.7 1484.5,345.7 1484.8,355.3 1485.1,351.1 1485.4,345.5 1485.7,358.2 1486.0,355.0 1486.3,346.2 1486.6,345.8 1486.9,330.9 1487.2,344.8 1487.5,335.2 1487.8,331.5 1488.1,340.5 1488.4,325.1 1488.7,333.8 1489.0,337.6 1489.3,346.3 1489.6,354.2 1489.9,346.4 1490.2,358.7 1490.5,350.4 1490.8,329.3 1491.1,322.5 1491.4,331.2 1491.7,331.2 1492.0,319.4 1492.3,321.9 1492.6,321.6 1492.9,333.1 1493.2,354.2 1493.5,356.9 1493.8,328.0 1494.1,333.7 1494.4,324.0 1494.7,321.2 1495.0,337.5 1495.3,338.7 1495.6,331.5 1495.9,344.9 1496.2,334.8 1496.5,349.9 1496.8,333.3 1497.1,347.7 1497.4,336.9 1497.7,340.6 1498.0,359.5 1498.3,325.8 1498.6,332.4 1498.9,339.8 1499.2,337.9 1499.5,344.0 1499.8,333.1 1500.1,328.1 1500.4,341.3 1500.7,345.8 1501.0,334.7 1501.3,356.1 1501.6,351.0 1501.9,352.9 1502.2,352.6 1502.5,336.0 1502.8,366.8 1503.1,338.1 1503.4,349.5 1503.7,353.3 1504.0,349.5 1504.3,348.2 1504.6,338.2 1504.9,342.5 1505.2,347.0 1505.5,359.8 1505.8,357.3 1506.1,353.6 1506.4,351.0 1506.7,346.3 1507.0,341.0 1507.3,345.0 1507.6,329.0 1507.9,347.1 1508.2,368.3 1508.5,340.6 1508.8,350.8 1509.1,348.5 1509.4,337.9 1509.7,353.2 1510.0,345.8 1510.3,368.3 1510.6,333.9 1510.9,335.8 1511.2,337.3 1511.5,345.7 1511.8,350.9 1512.1,343.7 1512.4,338.6 1512.7,361.2 1513.0,352.2 1513.3,339.0 1513.6,340.4 1513.9,326.0 1514.2,341.4 1514.5,357.9 1514.8,328.8 1515.1,326.0 1515.4,341.3 1515.7,315.7 1516.0,353.3 1516.3,323.9 1516.6,331.5 1516.9,353.1 1517.2,350.3 1517.5,341.8 1517.8,318.3 1518.1,320.1 1518.4,339.0 1518.7,315.3 1519.0,333.3 1519.3,327.6 1519.6,344.1 1519.9,348.0 1520.2,309.6 1520.5,339.7 1520.8,341.8 1521.1,327.2 1521.4,328.8 1521.7,322.6 1522.0,331.4 1522.3,339.2 1522.6,348.9 1522.9,350.0 1523.2,332.2 1523.5,326.7 1523.8,345.9 1524.1,307.0 1524.4,321.3 1524.7,342.7 1525.0,359.4 1525.3,328.4 1525.6,337.8 1525.9,325.4 1526.2,336.5 1526.5,336.7 1526.8,329.8 1527.1,342.0 1527.4,336.3 1527.7,343.5 1528.0,336.3 1528.3,326.0 1528.6,340.1 1528.9,347.6 1529.2,330.5 1529.5,352.6 1529.8,343.3 1530.1,334.7 1530.4,338.6 1530.7,333.7 1531.0,327.4 1531.3,347.2 1531.6,346.7 1531.9,332.3 1532.2,334.7 1532.5,334.1 1532.8,343.1 1533.1,330.4 1533.4,328.1 1533.7,337.8 1534.0,334.0 1534.3,339.6 1534.6,348.4 1534.9,323.9 1535.2,313.8 1535.5,330.5 1535.8,315.3 1536.1,330.8 1536.4,315.4 1536.7,328.2 1537.0,333.5 1537.3,332.9 1537.6,326.2 1537.9,330.4 1538.2,340.1 1538.5,327.0 1538.8,349.3 1539.1,333.7 1539.4,305.8 1539.7,339.2 1540.0,311.9 1540.3,333.4 1540.6,353.0 1540.9,340.9 1541.2,318.4 1541.5,321.6 1541.8,330.0 1542.1,344.4 1542.4,322.3 1542.7,340.7 1543.0,332.6 1543.3,328.4 1543.6,327.7 1543.9,346.0 1544.2,314.3 1544.5,317.9 1544.8,337.9 1545.1,338.7 1545.4,316.0 1545.7,319.7 1546.0,317.3 1546.3,334.0 1546.6,322.1 1546.9,342.6 1547.2,336.1 1547.5,331.1 1547.8,333.6 1548.1,333.8 1548.4,336.9 1548.7,328.7 1549.0,331.1 1549.3,336.5 1549.6,328.0 1549.9,338.7 1550.2,327.5 1550.5,321.3 1550.8,330.9 1551.1,345.7 1551.4,344.2 1551.7,313.1 1552.0,332.4 1552.3,324.3 1552.6,326.0 1552.9,296.3 1553.2,327.0 1553.5,324.1 1553.8,326.6 1554.1,322.9 1554.4,317.0 1554.7,316.7 1555.0,312.5 1555.3,317.8 1555.6,322.1 1555.9,318.2 1556.2,328.9 1556.5,330.5 1556.8,337.2 1557.1,330.1 1557.4,340.7 1557.7,329.3 1558.0,332.4 1558.3,337.6 1558.6,315.1 1558.9,333.8 1559.2,345.2 1559.5,331.0 1559.8,327.3 1560.1,348.9 1560.4,330.7 1560.7,342.0 1561.0,305.7 1561.3,330.4 1561.6,311.0 1561.9,333.0 1562.2,318.1 1562.5,327.5 1562.8,326.7 1563.1,300.8 1563.4,336.6 1563.7,341.8 1564.0,330.1 1564.3,323.9 1564.6,321.0 1564.9,338.8 1565.2,335.0 1565.5,349.2 1565.8,323.2 1566.1,315.4 1566.4,333.7 1566.7,341.5 1567.0,324.6 1567.3,329.3 1567.6,311.3 1567.9,317.2 1568.2,322.5 1568.5,309.6 1568.8,332.8 1569.1,334.8 1569.4,339.2 1569.7,322.5 1570.0,324.5 1570.3,314.4 1570.6,323.8 1570.9,340.1 1571.2,359.4 1571.5,321.2 1571.8,327.9 1572.1,341.2 1572.4,325.3 1572.7,338.1 1573.0,329.6 1573.3,329.9 1573.6,341.9 1573.9,330.9 1574.2,320.1 1574.5,341.9 1574.8,350.6 1575.1,329.2 1575.4,327.1 1575.7,340.8 1576.0,328.6 1576.3,337.0 1576.6,345.7 1576.9,335.4 1577.2,347.2 1577.5,323.9 1577.8,343.2 1578.1,353.5 1578.4,355.8 1578.7,338.4 1579.0,347.0 1579.3,337.2 1579.6,328.8 1579.9,330.8 1580.2,338.6 1580.5,347.0 1580.8,342.4 1581.1,340.4 1581.4,348.7 1581.7,352.1 1582.0,342.6 1582.3,354.9 1582.6,330.1 1582.9,336.5 1583.2,344.3 1583.5,352.2 1583.8,346.6 1584.1,334.7 1584.4,340.4 1584.7,326.7 1585.0,350.5 1585.3,325.9 1585.6,345.4 1585.9,353.9 1586.2,352.6 1586.5,328.7 1586.8,346.6 1587.1,341.5 1587.4,342.3 1587.7,361.5 1588.0,348.7 1588.3,332.3 1588.6,336.1 1588.9,353.9 1589.2,349.5 1589.5,336.5 1589.8,331.4 1590.1,342.8 1590.4,344.2 1590.7,357.0 1591.0,343.1 1591.3,356.1 1591.6,361.9 1591.9,333.8 1592.2,344.3 1592.5,366.2 1592.8,346.1 1593.1,350.7 1593.4,361.0 1593.7,343.4 1594.0,347.1 1594.3,334.4 1594.6,357.6 1594.9,346.9 1595.2,348.3 1595.5,325.4 1595.8,362.8 1596.1,360.2 1596.4,344.8 1596.7,366.3 1597.0,328.0 1597.3,353.3 1597.6,336.7 1597.9,383.4 1598.2,327.6 1598.5,342.6 1598.8,347.8 1599.1,364.6 1599.4,365.2 1599.7,360.9 1600.0,354.5 1600.3,380.0 1600.6,350.3 1600.9,361.5 1601.2,376.9 1601.5,345.8 1601.8,350.5 1602.1,370.9 1602.4,364.3 1602.7,345.9 1603.0,360.3 1603.3,380.4 1603.6,357.6 1603.9,368.9 1604.2,361.8 1604.5,353.2 1604.8,377.5 1605.1,370.7 1605.4,373.1 1605.7,358.8 1606.0,361.3 1606.3,362.4 1606.6,364.6 1606.9,356.1 1607.2,354.1 1607.5,373.0 1607.8,347.3 1608.1,380.9 1608.4,354.2 1608.7,352.4 1609.0,344.7 1609.3,349.0 1609.6,365.1 1609.9,352.5 1610.2,348.1 1610.5,373.1 1610.8,356.8 1611.1,365.8 1611.4,358.3 1611.7,340.1 1612.0,349.9 1612.3,349.9 1612.6,367.4 1612.9,363.3 1613.2,350.6 1613.5,341.2 1613.8,334.5 1614.1,351.8 1614.4,338.9 1614.7,351.9 1615.0,351.7 1615.3,357.9 1615.6,364.6 1615.9,355.4 1616.2,359.4 1616.5,352.8 1616.8,365.7 1617.1,363.5 1617.4,371.9 1617.7,369.8 1618.0,347.9 1618.3,340.5 1618.6,362.6 1618.9,368.0 1619.2,349.2 1619.5,372.0 1619.8,356.7 1620.1,355.8 1620.4,360.6 1620.7,342.5 1621.0,340.1 1621.3,353.7 1621.6,344.4 1621.9,357.3 1622.2,357.5 1622.5,331.2 1622.8,349.4 1623.1,363.1 1623.4,333.8 1623.7,354.2 1624.0,343.8 1624.3,337.5 1624.6,368.8 1624.9,368.3 1625.2,352.8 1625.5,351.9 1625.8,370.8 1626.1,368.6 1626.4,356.0 1626.7,364.6 1627.0,356.5 1627.3,351.9 1627.6,360.9 1627.9,349.9 1628.2,359.8 1628.5,350.9 1628.8,348.4 1629.1,346.8 1629.4,356.7 1629.7,361.1 1630.0,355.5 1630.3,342.2 1630.6,356.7 1630.9,341.1 1631.2,338.5 1631.5,347.5 1631.8,357.2 1632.1,355.7 1632.4,354.0 1632.7,361.2 1633.0,355.8 1633.3,344.2 1633.6,353.9 1633.9,344.1 1634.2,349.3 1634.5,350.3 1634.8,344.2 1635.1,332.0 1635.4,342.2 1635.7,340.2 1636.0,340.9 1636.3,337.7 1636.6,331.5 1636.9,327.0 1637.2,343.2 1637.5,343.0 1637.8,338.9 1638.1,334.7 1638.4,348.2 1638.7,337.6 1639.0,331.8 1639.3,336.4 1639.6,328.7 1639.9,333.0 1640.2,328.8 1640.5,329.3 1640.8,324.7 1641.1,319.8 1641.4,324.8 1641.7,318.1 1642.0,312.4 1642.3,312.8 1642.6,307.5 1642.9,316.8 1643.2,308.3 1643.5,312.7 1643.8,300.8 1644.1,308.7 1644.4,298.1 1644.7,297.1 1645.0,302.9 1645.3,294.9 1645.6,292.3 1645.9,302.7 1646.2,294.4 1646.5,303.9 1646.8,313.6 1647.1,287.9 1647.4,288.9 1647.7,278.4 1648.0,280.5 1648.3,306.1" fill="none" stroke="#000" stroke-width="1.8" stroke-linejoin="bevel"/>
<path d="M497.5,646.0 497.8,636.9 498.1,638.1 498.4,612.6 498.7,665.4 499.0,657.0 499.3,638.4 499.6,651.8 499.9,645.3 500.2,634.6 500.5,653.4 500.8,637.0 501.1,636.4 501.4,630.3 501.7,645.5 502.0,638.2 502.3,645.9 502.6,631.2 502.9,640.0 503.2,627.0 503.5,648.3 503.8,639.9 504.1,641.4 504.4,642.1 504.7,624.2 505.0,646.3 505.3,661.9 505.6,615.7 505.9,614.4 506.2,617.0 506.5,646.0 506.8,637.0 507.1,648.6 507.4,644.1 507.7,637.6 508.0,633.2 508.3,632.6 508.6,645.4 508.9,620.5 509.2,629.2 509.5,637.4 509.8,656.7 510.1,624.7 510.4,620.8 510.7,627.1 511.0,646.1 511.3,631.1 511.6,650.5 511.9,610.8 512.2,648.1 512.5,647.0 512.8,616.6 513.1,636.2 513.4,649.5 513.7,635.7 514.0,647.2 514.3,664.5 514.6,638.7 514.9,632.1 515.2,626.3 515.5,644.3 515.8,634.2 516.1,634.9 516.4,636.3 516.7,646.1 517.0,625.3 517.3,620.1 517.6,609.5 517.9,646.1 518.2,641.7 518.5,660.0 518.8,641.7 519.1,633.2 519.4,648.8 519.7,642.4 520.0,628.2 520.3,633.2 520.6,666.4 520.9,649.1 521.2,650.1 521.5,641.7 521.8,608.2 522.1,656.2 522.4,643.8 522.7,635.6 523.0,643.1 523.3,633.3 523.6,646.5 523.9,657.8 524.2,633.0 524.5,660.6 524.8,634.1 525.1,643.7 525.4,630.9 525.7,637.9 526.0,640.7 526.3,634.1 526.6,630.2 526.9,629.9 527.2,627.6 527.5,617.8 527.8,633.5 528.1,641.3 528.4,647.2 528.7,643.6 529.0,665.7 529.3,638.9 529.6,629.1 529.9,657.8 530.2,621.4 530.5,646.3 530.8,622.4 531.1,638.6 531.4,609.7 531.7,645.4 532.0,632.3 532.3,622.4 532.6,655.4 532.9,644.2 533.2,635.4 533.5,625.8 533.8,634.7 534.1,633.5 534.4,644.7 534.7,652.3 535.0,627.8 535.3,629.5 535.6,629.9 535.9,619.9 536.2,629.6 536.5,636.0 536.8,637.2 537.1,653.9 537.4,627.5 537.7,644.6 538.0,632.3 538.3,663.8 538.6,637.4 538.9,644.4 539.2,626.5 539.5,628.2 539.8,656.6 540.1,633.6 540.4,642.7 540.7,618.9 541.0,646.6 541.3,627.2 541.6,659.9 541.9,634.9 542.2,652.2 542.5,621.2 542.8,643.9 543.1,627.6 543.4,632.6 543.7,639.1 544.0,634.9 544.3,642.2 544.6,648.3 544.9,647.2 545.2,638.1 545.5,622.4 545.8,629.5 546.1,637.2 546.4,613.3 546.7,649.3 547.0,637.1 547.3,637.0 547.6,666.7 547.9,648.8 548.2,643.4 548.5,628.3 548.8,641.1 549.1,645.4 549.4,630.2 549.7,654.3 550.0,647.8 550.3,617.1 550.6,643.3 550.9,626.2 551.2,656.2 551.5,652.2 551.8,628.6 552.1,631.5 552.4,643.9 552.7,639.8 553.0,661.9 553.3,652.3 553.6,639.7 553.9,650.6 554.2,603.5 554.5,647.5 554.8,654.6 555.1,641.6 555.4,635.1 555.7,651.1 556.0,668.5 556.3,646.7 556.6,630.3 556.9,662.2 557.2,620.8 557.5,650.4 557.8,636.9 558.1,655.6 558.4,633.3 558.7,660.2 559.0,647.3 559.3,621.9 559.6,618.6 559.9,639.0 560.2,613.0 560.5,644.0 560.8,643.0 561.1,638.9 561.4,650.7 561.7,646.0 562.0,644.5 562.3,628.4 562.6,655.2 562.9,657.1 563.2,623.6 563.5,668.4 563.8,648.5 564.1,633.2 564.4,615.3 564.7,647.2 565.0,645.8 565.3,631.3 565.6,616.3 565.9,652.7 566.2,631.3 566.5,632.7 566.8,674.1 567.1,665.3 567.4,650.7 567.7,633.2 568.0,647.1 568.3,610.7 568.6,640.7 568.9,630.1 569.2,623.7 569.5,620.2 569.8,646.8 570.1,641.6 570.4,642.8 570.7,651.7 571.0,631.0 571.3,626.5 571.6,620.1 571.9,638.5 572.2,657.8 572.5,641.7 572.8,652.0 573.1,629.6 573.4,639.0 573.7,635.7 574.0,630.2 574.3,669.2 574.6,657.1 574.9,637.5 575.2,637.9 575.5,647.0 575.8,630.3 576.1,653.7 576.4,632.8 576.7,644.4 577.0,636.6 577.3,643.4 577.6,633.6 577.9,630.3 578.2,637.8 578.5,640.5 578.8,645.9 579.1,650.3 579.4,667.9 579.7,659.0 580.0,632.0 580.3,657.6 580.6,640.2 580.9,665.8 581.2,654.6 581.5,631.4 581.8,656.5 582.1,656.9 582.4,614.5 582.7,637.5 583.0,640.5 583.3,622.8 583.6,632.9 583.9,634.1 584.2,651.3 584.5,648.6 584.8,676.2 585.1,639.9 585.4,658.3 585.7,645.3 586.0,647.6 586.3,630.4 586.6,621.4 586.9,635.1 587.2,653.3 587.5,663.0 587.8,651.4 588.1,650.2 588.4,634.3 588.7,662.6 589.0,660.3 589.3,638.1 589.6,644.0 589.9,632.7 590.2,662.0 590.5,649.5 590.8,643.6 591.1,649.6 591.4,650.1 591.7,640.1 592.0,630.3 592.3,629.9 592.6,624.6 592.9,650.8 593.2,671.7 593.5,625.4 593.8,647.3 594.1,650.7 594.4,634.3 594.7,648.5 595.0,633.3 595.3,660.7 595.6,639.6 595.9,630.5 596.2,655.3 596.5,642.3 596.8,626.4 597.1,641.6 597.4,657.3 597.7,647.5 598.0,651.5 598.3,636.2 598.6,651.0 598.9,658.3 599.2,650.3 599.5,673.0 599.8,648.0 600.1,638.4 600.4,631.8 600.7,665.1 601.0,650.9 601.3,663.9 601.6,657.7 601.9,691.8 602.2,667.8 602.5,648.7 602.8,656.7 603.1,666.5 603.4,639.5 603.7,671.4 604.0,649.8 604.3,666.5 604.6,653.0 604.9,659.2 605.2,642.9 605.5,656.9 605.8,649.7 606.1,670.2 606.4,651.4 606.7,660.7 607.0,671.4 607.3,642.7 607.6,669.0 607.9,635.2 608.2,633.4 608.5,657.4 608.8,659.1 609.1,664.3 609.4,640.0 609.7,658.6 610.0,660.9 610.3,674.2 610.6,658.4 610.9,665.8 611.2,648.2 611.5,657.4 611.8,654.4 612.1,669.5 612.4,648.0 612.7,649.8 613.0,666.4 613.3,680.8 613.6,664.1 613.9,663.2 614.2,655.5 614.5,672.6 614.8,666.1 615.1,680.4 615.4,663.7 615.7,648.5 616.0,653.1 616.3,648.1 616.6,645.0 616.9,675.6 617.2,670.2 617.5,645.4 617.8,682.3 618.1,663.7 618.4,649.0 618.7,665.7 619.0,642.0 619.3,651.5 619.6,636.9 619.9,661.6 620.2,664.7 620.5,628.8 620.8,667.9 621.1,668.6 621.4,654.9 621.7,662.0 622.0,657.0 622.3,683.6 622.6,655.6 622.9,676.7 623.2,641.4 623.5,662.2 623.8,661.2 624.1,649.8 624.4,652.8 624.7,640.4 625.0,646.9 625.3,657.4 625.6,660.9 625.9,645.2 626.2,694.2 626.5,648.5 626.8,656.9 627.1,652.1 627.4,649.6 627.7,670.6 628.0,629.9 628.3,670.4 628.6,667.8 628.9,640.2 629.2,666.0 629.5,644.8 629.8,687.0 630.1,647.9 630.4,640.9 630.7,628.7 631.0,636.4 631.3,645.3 631.6,640.1 631.9,637.3 632.2,644.1 632.5,650.3 632.8,664.9 633.1,631.8 633.4,646.3 633.7,641.4 634.0,634.5 634.3,637.7 634.6,642.3 634.9,662.7 635.2,651.5 635.5,647.3 635.8,661.7 636.1,657.7 636.4,651.5 636.7,659.2 637.0,644.1 637.3,662.3 637.6,660.4 637.9,649.5 638.2,639.4 638.5,673.7 638.8,655.9 639.1,692.9 639.4,646.6 639.7,665.5 640.0,649.4 640.3,658.1 640.6,665.4 640.9,635.0 641.2,653.8 641.5,657.3 641.8,656.6 642.1,662.7 642.4,668.2 642.7,665.9 643.0,658.9 643.3,651.4 643.6,641.8 643.9,646.9 644.2,633.5 644.5,665.0 644.8,652.2 645.1,641.4 645.4,665.0 645.7,647.5 646.0,648.2 646.3,655.2 646.6,664.3 646.9,628.5 647.2,644.9 647.5,661.5 647.8,655.1 648.1,649.1 648.4,653.5 648.7,677.9 649.0,655.2 649.3,670.0 649.6,671.3 649.9,656.0 650.2,667.4 650.5,656.4 650.8,654.6 651.1,648.3 651.4,673.4 651.7,657.6 652.0,655.7 652.3,648.5 652.6,685.2 652.9,671.9 653.2,660.8 653.5,653.7 653.8,643.1 654.1,665.7 654.4,665.4 654.7,644.0 655.0,684.8 655.3,670.7 655.6,648.6 655.9,653.4 656.2,654.6 656.5,661.6 656.8,657.4 657.1,638.3 657.4,676.9 657.7,662.0 658.0,673.5 658.3,673.1 658.6,654.4 658.9,661.0 659.2,665.6 659.5,665.7 659.8,653.7 660.1,647.8 660.4,655.7 660.7,645.0 661.0,643.2 661.3,609.0 661.6,655.6 661.9,651.3 662.2,647.3 662.5,653.5 662.8,657.9 663.1,677.5 663.4,656.4 663.7,636.1 664.0,655.3 664.3,646.2 664.6,658.5 664.9,644.9 665.2,644.5 665.5,646.9 665.8,645.4 666.1,630.4 666.4,644.8 666.7,652.9 667.0,668.0 667.3,649.4 667.6,648.4 667.9,660.1 668.2,659.6 668.5,672.8 668.8,660.2 669.1,652.7 669.4,669.5 669.7,671.9 670.0,647.2 670.3,655.1 670.6,632.5 670.9,648.8 671.2,642.5 671.5,650.8 671.8,635.0 672.1,651.6 672.4,652.5 672.7,659.9 673.0,656.8 673.3,647.1 673.6,638.3 673.9,669.2 674.2,671.5 674.5,648.7 674.8,661.1 675.1,635.7 675.4,635.3 675.7,651.0 676.0,672.2 676.3,641.5 676.6,644.1 676.9,673.7 677.2,661.2 677.5,661.9 677.8,659.9 678.1,651.5 678.4,636.7 678.7,685.6 679.0,640.1 679.3,649.9 679.6,650.8 679.9,645.2 680.2,637.3 680.5,672.6 680.8,655.9 681.1,631.9 681.4,651.0 681.7,665.5 682.0,657.6 682.3,635.2 682.6,651.3 682.9,655.4 683.2,656.8 683.5,656.6 683.8,629.7 684.1,673.6 684.4,653.7 684.7,672.5 685.0,684.9 685.3,648.3 685.6,635.1 685.9,660.0 686.2,647.1 686.5,643.5 686.8,636.2 687.1,668.5 687.4,642.6 687.7,630.8 688.0,660.8 688.3,633.0 688.6,648.5 688.9,641.3 689.2,633.4 689.5,653.0 689.8,637.9 690.1,654.1 690.4,660.3 690.7,640.7 691.0,637.2 691.3,647.2 691.6,655.4 691.9,669.6 692.2,646.4 692.5,644.4 692.8,648.4 693.1,652.3 693.4,614.4 693.7,639.0 694.0,645.4 694.3,637.0 694.6,646.7 694.9,651.6 695.2,645.0 695.5,638.1 695.8,636.0 696.1,666.5 696.4,656.1 696.7,632.1 697.0,635.5 697.3,668.2 697.6,663.9 697.9,647.2 698.2,659.6 698.5,627.6 698.8,645.5 699.1,654.4 699.4,622.9 699.7,635.8 700.0,654.5 700.3,658.6 700.6,637.6 700.9,648.1 701.2,663.7 701.5,639.5 701.8,627.8 702.1,642.9 702.4,638.7 702.7,658.9 703.0,623.8 703.3,633.0 703.6,671.4 703.9,636.1 704.2,647.6 704.5,649.8 704.8,650.9 705.1,643.2 705.4,648.0 705.7,639.9 706.0,623.4 706.3,637.8 706.6,637.9 706.9,638.0 707.2,641.7 707.5,632.4 707.8,655.9 708.1,658.8 708.4,613.3 708.7,640.0 709.0,631.3 709.3,608.5 709.6,645.0 709.9,632.7 710.2,635.7 710.5,632.5 710.8,653.6 711.1,655.6 711.4,644.1 711.7,649.3 712.0,639.7 712.3,642.9 712.6,632.4 712.9,641.9 713.2,633.0 713.5,646.3 713.8,651.9 714.1,645.8 714.4,656.4 714.7,674.6 715.0,599.0 715.3,642.5 715.6,635.5 715.9,636.9 716.2,626.0 716.5,643.0 716.8,639.3 717.1,634.7 717.4,639.3 717.7,635.1 718.0,614.0 718.3,655.0 718.6,638.3 718.9,630.4 719.2,640.3 719.5,633.6 719.8,615.3 720.1,651.9 720.4,620.9 720.7,638.3 721.0,642.2 721.3,656.8 721.6,654.7 721.9,642.2 722.2,630.9 722.5,634.9 722.8,695.9 723.1,661.0 723.4,646.0 723.7,631.6 724.0,651.5 724.3,634.6 724.6,634.1 724.9,635.5 725.2,645.8 725.5,641.9 725.8,650.4 726.1,654.0 726.4,644.5 726.7,610.5 727.0,618.0 727.3,640.1 727.6,626.2 727.9,663.8 728.2,637.6 728.5,636.1 728.8,649.0 729.1,650.4 729.4,634.8 729.7,643.1 730.0,623.9 730.3,626.0 730.6,651.8 730.9,620.2 731.2,647.8 731.5,644.7 731.8,645.6 732.1,647.2 732.4,642.9 732.7,610.6 733.0,623.9 733.3,628.5 733.6,646.3 733.9,636.6 734.2,626.8 734.5,630.7 734.8,650.5 735.1,617.7 735.4,618.6 735.7,641.9 736.0,609.3 736.3,638.2 736.6,628.8 736.9,615.5 737.2,626.3 737.5,622.1 737.8,635.7 738.1,637.9 738.4,651.1 738.7,633.4 739.0,634.6 739.3,626.6 739.6,633.0 739.9,645.5 740.2,610.7 740.5,640.8 740.8,626.9 741.1,620.0 741.4,636.8 741.7,642.8 742.0,635.7 742.3,628.3 742.6,636.4 742.9,632.9 743.2,630.4 743.5,635.1 743.8,642.8 744.1,634.3 744.4,634.5 744.7,618.0 745.0,631.3 745.3,611.5 745.6,641.0 745.9,622.0 746.2,647.5 746.5,666.8 746.8,628.2 747.1,647.8 747.4,637.2 747.7,626.4 748.0,623.1 748.3,638.7 748.6,647.7 748.9,635.9 749.2,615.3 749.5,620.2 749.8,628.8 750.1,645.5 750.4,633.5 750.7,633.6 751.0,642.3 751.3,627.0 751.6,633.0 751.9,626.1 752.2,609.6 752.5,608.2 752.8,628.7 753.1,632.3 753.4,612.4 753.7,614.4 754.0,627.2 754.3,620.7 754.6,627.4 754.9,608.4 755.2,615.0 755.5,606.8 755.8,612.8 756.1,605.1 756.4,611.6 756.7,614.5 757.0,609.8 757.3,589.3 757.6,607.6 757.9,591.3 758.2,589.6 758.5,588.7 758.8,593.4 759.1,596.7 759.4,587.4 759.7,574.7 760.0,595.8 760.3,593.0 760.6,612.8 760.9,581.6 761.2,611.9 761.5,607.1 761.8,598.6 762.1,610.0 762.4,601.0 762.7,609.6 763.0,598.2 763.3,606.0 763.6,598.7 763.9,595.8 764.2,607.4 764.5,605.9 764.8,617.0 765.1,624.0 765.4,614.1 765.7,617.4 766.0,617.3 766.3,605.9 766.6,623.3 766.9,622.4 767.2,623.1 767.5,614.6 767.8,606.9 768.1,624.0 768.4,630.2 768.7,640.9 769.0,639.6 769.3,643.5 769.6,633.2 769.9,641.7 770.2,628.4 770.5,637.3 770.8,640.9 771.1,659.4 771.4,634.5 771.7,618.9 772.0,646.9 772.3,624.3 772.6,632.2 772.9,629.9 773.2,623.5 773.5,647.6 773.8,639.9 774.1,627.1 774.4,634.6 774.7,629.3 775.0,640.8 775.3,630.2 775.6,626.2 775.9,625.6 776.2,630.3 776.5,638.4 776.8,625.6 777.1,634.9 777.4,641.0 777.7,661.9 778.0,661.8 778.3,605.1 778.6,632.3 778.9,634.0 779.2,642.2 779.5,656.3 779.8,647.7 780.1,608.8 780.4,643.9 780.7,642.2 781.0,646.0 781.3,656.9 781.6,630.4 781.9,655.0 782.2,625.1 782.5,644.4 782.8,648.4 783.1,670.0 783.4,637.3 783.7,626.7 784.0,653.5 784.3,639.0 784.6,664.1 784.9,639.2 785.2,637.6 785.5,661.6 785.8,649.0 786.1,659.5 786.4,632.7 786.7,667.4 787.0,642.7 787.3,658.7 787.6,638.0 787.9,632.7 788.2,647.4 788.5,663.0 788.8,683.0 789.1,655.0 789.4,659.4 789.7,659.1 790.0,686.8 790.3,643.3 790.6,666.8 790.9,651.6 791.2,656.6 791.5,648.0 791.8,671.9 792.1,641.2 792.4,641.0 792.7,654.0 793.0,644.0 793.3,665.4 793.6,657.2 793.9,650.4 794.2,668.3 794.5,652.8 794.8,660.4 795.1,661.6 795.4,683.2 795.7,662.9 796.0,653.4 796.3,653.9 796.6,678.3 796.9,646.7 797.2,660.7 797.5,662.3 797.8,639.6 798.1,662.2 798.4,679.2 798.7,671.0 799.0,658.7 799.3,676.9 799.6,675.3 799.9,692.7 800.2,661.8 800.5,680.5 800.8,671.3 801.1,669.5 801.4,685.1 801.7,670.4 802.0,664.1 802.3,654.0 802.6,666.1 802.9,656.9 803.2,661.0 803.5,667.0 803.8,679.2 804.1,683.4 804.4,662.0 804.7,663.5 805.0,683.4 805.3,673.8 805.6,655.7 805.9,649.9 806.2,681.0 806.5,685.1 806.8,677.8 807.1,662.7 807.4,691.1 807.7,688.3 808.0,674.0 808.3,671.8 808.6,652.1 808.9,682.6 809.2,655.6 809.5,681.4 809.8,681.7 810.1,674.3 810.4,690.9 810.7,669.1 811.0,679.1 811.3,681.3 811.6,674.8 811.9,667.0 812.2,685.5 812.5,676.2 812.8,669.0 813.1,681.4 813.4,679.1 813.7,696.9 814.0,671.9 814.3,667.9 814.6,662.0 814.9,656.6 815.2,648.8 815.5,673.4 815.8,671.1 816.1,635.3 816.4,653.6 816.7,667.3 817.0,665.1 817.3,655.6 817.6,675.0 817.9,673.3 818.2,683.6 818.5,681.0 818.8,666.8 819.1,688.3 819.4,659.8 819.7,670.6 820.0,679.8 820.3,668.9 820.6,676.4 820.9,656.3 821.2,653.4 821.5,669.4 821.8,662.7 822.1,679.1 822.4,672.0 822.7,679.2 823.0,675.4 823.3,673.9 823.6,672.4 823.9,666.6 824.2,665.4 824.5,696.6 824.8,649.3 825.1,669.0 825.4,683.9 825.7,676.8 826.0,689.3 826.3,678.7 826.6,656.3 826.9,653.7 827.2,655.1 827.5,685.2 827.8,691.3 828.1,668.2 828.4,680.8 828.7,669.3 829.0,656.9 829.3,669.8 829.6,656.1 829.9,653.6 830.2,679.4 830.5,690.9 830.8,693.8 831.1,674.0 831.4,681.6 831.7,684.4 832.0,680.8 832.3,644.5 832.6,670.8 832.9,690.8 833.2,667.3 833.5,684.7 833.8,692.4 834.1,658.8 834.4,680.3 834.7,685.9 835.0,683.4 835.3,664.4 835.6,688.0 835.9,676.9 836.2,694.3 836.5,689.5 836.8,687.3 837.1,686.5 837.4,675.7 837.7,675.6 838.0,664.6 838.3,646.9 838.6,694.0 838.9,685.3 839.2,699.2 839.5,674.1 839.8,676.6 840.1,692.0 840.4,663.9 840.7,707.8 841.0,680.9 841.3,708.4 841.6,695.6 841.9,675.4 842.2,689.3 842.5,682.9 842.8,685.0 843.1,688.7 843.4,671.5 843.7,670.2 844.0,672.2 844.3,660.0 844.6,673.2 844.9,678.9 845.2,672.3 845.5,677.4 845.8,669.7 846.1,683.9 846.4,648.1 846.7,668.2 847.0,668.5 847.3,683.3 847.6,679.9 847.9,681.2 848.2,670.9 848.5,682.1 848.8,657.4 849.1,670.3 849.4,642.8 849.7,690.0 850.0,688.2 850.3,660.8 850.6,657.4 850.9,641.8 851.2,648.7 851.5,669.2 851.8,681.9 852.1,649.4 852.4,661.6 852.7,659.7 853.0,696.4 853.3,677.3 853.6,666.1 853.9,670.6 854.2,669.5 854.5,644.1 854.8,672.7 855.1,670.2 855.4,680.9 855.7,649.3 856.0,682.1 856.3,647.4 856.6,677.0 856.9,689.3 857.2,656.5 857.5,659.0 857.8,688.1 858.1,662.1 858.4,664.7 858.7,684.5 859.0,674.8 859.3,687.3 859.6,681.6 859.9,677.8 860.2,690.6 860.5,705.7 860.8,677.4 861.1,673.7 861.4,692.9 861.7,680.2 862.0,684.6 862.3,667.2 862.6,671.2 862.9,668.0 863.2,678.2 863.5,694.9 863.8,662.6 864.1,675.0 864.4,663.7 864.7,676.6 865.0,692.9 865.3,663.4 865.6,688.8 865.9,670.8 866.2,674.0 866.5,690.3 866.8,674.2 867.1,685.9 867.4,678.9 867.7,675.2 868.0,672.7 868.3,655.5 868.6,667.6 868.9,678.7 869.2,679.0 869.5,657.8 869.8,688.5 870.1,683.0 870.4,659.6 870.7,662.7 871.0,681.8 871.3,653.5 871.6,666.0 871.9,674.5 872.2,673.6 872.5,674.4 872.8,680.0 873.1,665.2 873.4,669.2 873.7,700.8 874.0,658.0 874.3,670.0 874.6,677.1 874.9,667.9 875.2,691.3 875.5,677.2 875.8,686.0 876.1,644.4 876.4,691.8 876.7,691.6 877.0,668.2 877.3,694.0 877.6,681.3 877.9,689.7 878.2,700.9 878.5,679.7 878.8,666.0 879.1,678.6 879.4,662.9 879.7,668.8 880.0,669.3 880.3,669.9 880.6,693.1 880.9,688.8 881.2,667.1 881.5,692.1 881.8,656.9 882.1,669.3 882.4,675.4 882.7,691.6 883.0,685.5 883.3,681.7 883.6,691.8 883.9,684.1 884.2,691.7 884.5,664.4 884.8,652.7 885.1,668.1 885.4,683.1 885.7,675.6 886.0,683.4 886.3,680.3 886.6,677.5 886.9,680.9 887.2,661.4 887.5,683.6 887.8,657.2 888.1,668.1 888.4,651.7 888.7,675.5 889.0,649.7 889.3,686.4 889.6,652.2 889.9,672.2 890.2,667.3 890.5,658.2 890.8,684.8 891.1,664.0 891.4,687.8 891.7,657.0 892.0,660.0 892.3,641.9 892.6,677.5 892.9,682.3 893.2,674.1 893.5,669.7 893.8,660.6 894.1,701.7 894.4,682.1 894.7,650.3 895.0,669.9 895.3,641.7 895.6,694.2 895.9,699.6 896.2,693.6 896.5,675.2 896.8,668.9 897.1,659.2 897.4,683.7 897.7,668.1 898.0,673.1 898.3,670.2 898.6,674.6 898.9,689.9 899.2,700.0 899.5,681.1 899.8,679.7 900.1,665.8 900.4,664.5 900.7,666.6 901.0,689.6 901.3,683.2 901.6,692.2 901.9,685.4 902.2,675.1 902.5,664.6 902.8,675.4 903.1,662.1 903.4,704.7 903.7,682.9 904.0,674.8 904.3,704.0 904.6,674.1 904.9,685.5 905.2,676.2 905.5,682.4 905.8,673.0 906.1,683.3 906.4,694.6 906.7,660.5 907.0,648.0 907.3,680.4 907.6,677.0 907.9,685.2 908.2,670.2 908.5,692.6 908.8,695.6 909.1,657.6 909.4,680.2 909.7,663.6 910.0,650.5 910.3,666.4 910.6,676.9 910.9,652.2 911.2,652.9 911.5,684.1 911.8,668.8 912.1,673.2 912.4,653.6 912.7,659.5 913.0,669.2 913.3,673.3 913.6,669.4 913.9,687.6 914.2,669.8 914.5,648.7 914.8,657.1 915.1,667.6 915.4,684.6 915.7,660.3 916.0,664.3 916.3,669.3 916.6,661.1 916.9,660.0 917.2,667.8 917.5,683.7 917.8,677.7 918.1,668.3 918.4,677.3 918.7,656.5 919.0,685.5 919.3,682.5 919.6,677.2 919.9,653.1 920.2,699.2 920.5,637.0 920.8,661.2 921.1,662.2 921.4,682.4 921.7,654.6 922.0,676.2 922.3,671.1 922.6,669.0 922.9,683.0 923.2,689.8 923.5,676.4 923.8,667.4 924.1,641.8 924.4,688.3 924.7,665.5 925.0,645.4 925.3,670.2 925.6,685.8 925.9,663.0 926.2,651.7 926.5,694.2 926.8,673.1 927.1,669.2 927.4,677.2 927.7,636.7 928.0,662.7 928.3,661.1 928.6,691.3 928.9,655.4 929.2,655.3 929.5,638.7 929.8,651.5 930.1,659.1 930.4,664.9 930.7,659.0 931.0,686.6 931.3,652.7 931.6,669.3 931.9,678.4 932.2,669.2 932.5,654.6 932.8,641.7 933.1,665.6 933.4,650.6 933.7,677.6 934.0,651.4 934.3,632.9 934.6,661.5 934.9,674.4 935.2,658.2 935.5,663.0 935.8,662.6 936.1,682.2 936.4,664.2 936.7,659.8 937.0,652.4 937.3,639.4 937.6,677.7 937.9,674.4 938.2,647.9 938.5,667.5 938.8,664.0 939.1,655.1 939.4,656.0 939.7,669.5 940.0,645.0 940.3,653.8 940.6,659.6 940.9,660.7 941.2,658.4 941.5,664.1 941.8,668.4 942.1,650.8 942.4,663.6 942.7,656.3 943.0,682.4 943.3,646.2 943.6,661.5 943.9,673.8 944.2,697.5 944.5,661.8 944.8,659.8 945.1,671.1 945.4,653.0 945.7,667.2 946.0,667.5 946.3,650.9 946.6,673.3 946.9,664.5 947.2,674.8 947.5,682.2 947.8,699.8 948.1,657.4 948.4,676.7 948.7,653.0 949.0,663.9 949.3,694.8 949.6,674.3 949.9,694.0 950.2,672.5 950.5,675.1 950.8,661.2 951.1,687.2 951.4,673.0 951.7,683.4 952.0,681.1 952.3,669.5 952.6,679.8 952.9,675.3 953.2,675.7 953.5,667.0 953.8,648.9 954.1,681.5 954.4,701.3 954.7,688.7 955.0,704.2 955.3,680.9 955.6,662.6 955.9,662.1 956.2,683.6 956.5,678.3 956.8,671.8 957.1,682.9 957.4,662.5 957.7,679.8 958.0,669.5 958.3,674.8 958.6,687.5 958.9,670.8 959.2,711.2 959.5,688.8 959.8,662.6 960.1,678.8 960.4,656.3 960.7,679.1 961.0,680.8 961.3,643.1 961.6,684.3 961.9,685.6 962.2,669.9 962.5,674.7 962.8,673.9 963.1,668.6 963.4,684.5 963.7,666.5 964.0,670.6 964.3,675.7 964.6,681.7 964.9,684.8 965.2,652.6 965.5,645.6 965.8,669.2 966.1,670.2 966.4,657.3 966.7,674.5 967.0,666.1 967.3,675.2 967.6,690.8 967.9,657.2 968.2,670.2 968.5,693.7 968.8,677.9 969.1,655.2 969.4,671.4 969.7,683.3 970.0,694.3 970.3,676.2 970.6,682.2 970.9,653.5 971.2,663.9 971.5,681.6 971.8,654.3 972.1,665.2 972.4,642.3 972.7,683.8 973.0,663.4 973.3,671.8 973.6,645.7 973.9,647.8 974.2,686.7 974.5,659.5 974.8,656.8 975.1,669.9 975.4,670.3 975.7,638.8 976.0,651.1 976.3,663.9 976.6,663.3 976.9,667.7 977.2,658.1 977.5,660.0 977.8,666.4 978.1,655.3 978.4,653.7 978.7,657.5 979.0,664.7 979.3,663.0 979.6,659.2 979.9,662.3 980.2,665.2 980.5,670.1 980.8,666.6 981.1,650.7 981.4,679.2 981.7,647.4 982.0,674.5 982.3,659.1 982.6,675.4 982.9,681.6 983.2,664.3 983.5,676.2 983.8,672.2 984.1,663.2 984.4,673.8 984.7,662.9 985.0,670.6 985.3,656.0 985.6,678.9 985.9,676.5 986.2,678.4 986.5,661.0 986.8,692.0 987.1,693.7 987.4,668.0 987.7,663.9 988.0,658.3 988.3,677.7 988.6,682.0 988.9,659.9 989.2,644.0 989.5,675.0 989.8,668.9 990.1,671.6 990.4,676.0 990.7,655.8 991.0,670.5 991.3,666.1 991.6,674.5 991.9,685.1 992.2,670.0 992.5,659.3 992.8,685.6 993.1,679.0 993.4,674.3 993.7,647.6 994.0,659.2 994.3,671.9 994.6,676.9 994.9,663.5 995.2,675.4 995.5,662.0 995.8,664.6 996.1,676.4 996.4,666.3 996.7,671.2 997.0,680.3 997.3,683.3 997.6,661.7 997.9,665.8 998.2,624.7 998.5,661.5 998.8,672.1 999.1,661.7 999.4,644.9 999.7,674.4 1000.0,657.1 1000.3,663.5 1000.6,672.4 1000.9,671.9 1001.2,666.0 1001.5,641.7 1001.8,673.4 1002.1,671.8 1002.4,648.3 1002.7,679.7 1003.0,682.3 1003.3,667.4 1003.6,666.9 1003.9,673.0 1004.2,664.4 1004.5,646.8 1004.8,673.7 1005.1,686.8 1005.4,671.7 1005.7,684.4 1006.0,689.0 1006.3,655.2 1006.6,659.7 1006.9,676.4 1007.2,667.6 1007.5,668.1 1007.8,677.2 1008.1,674.8 1008.4,660.1 1008.7,652.0 1009.0,653.9 1009.3,663.4 1009.6,652.0 1009.9,641.3 1010.2,659.7 1010.5,658.6 1010.8,677.2 1011.1,685.7 1011.4,666.3 1011.7,671.8 1012.0,657.9 1012.3,654.2 1012.6,662.1 1012.9,662.0 1013.2,669.1 1013.5,666.7 1013.8,685.9 1014.1,650.3 1014.4,644.1 1014.7,666.0 1015.0,656.0 1015.3,666.5 1015.6,677.7 1015.9,655.3 1016.2,662.1 1016.5,669.2 1016.8,650.6 1017.1,664.8 1017.4,668.7 1017.7,671.7 1018.0,675.1 1018.3,668.1 1018.6,665.8 1018.9,643.4 1019.2,627.1 1019.5,625.6 1019.8,678.3 1020.1,662.0 1020.4,632.4 1020.7,655.3 1021.0,665.2 1021.3,637.8 1021.6,668.3 1021.9,647.0 1022.2,674.6 1022.5,662.3 1022.8,701.0 1023.1,646.1 1023.4,666.6 1023.7,656.8 1024.0,678.3 1024.3,666.0 1024.6,676.4 1024.9,666.6 1025.2,651.2 1025.5,658.1 1025.8,651.2 1026.1,626.1 1026.4,669.2 1026.7,681.1 1027.0,678.8 1027.3,674.8 1027.6,661.6 1027.9,656.3 1028.2,658.4 1028.5,671.8 1028.8,679.9 1029.1,667.2 1029.4,663.7 1029.7,664.3 1030.0,677.3 1030.3,674.2 1030.6,651.9 1030.9,664.4 1031.2,656.3 1031.5,688.2 1031.8,669.5 1032.1,650.9 1032.4,672.5 1032.7,678.0 1033.0,673.6 1033.3,664.3 1033.6,670.5 1033.9,672.0 1034.2,680.9 1034.5,672.8 1034.8,696.4 1035.1,665.3 1035.4,672.9 1035.7,668.0 1036.0,643.3 1036.3,652.9 1036.6,644.7 1036.9,645.9 1037.2,682.1 1037.5,658.9 1037.8,674.5 1038.1,655.8 1038.4,666.6 1038.7,653.5 1039.0,677.3 1039.3,663.2 1039.6,660.7 1039.9,664.1 1040.2,693.1 1040.5,671.5 1040.8,676.1 1041.1,650.1 1041.4,657.4 1041.7,669.0 1042.0,642.0 1042.3,681.6 1042.6,668.1 1042.9,664.3 1043.2,656.4 1043.5,661.2 1043.8,657.6 1044.1,681.0 1044.4,672.0 1044.7,678.7 1045.0,659.3 1045.3,651.9 1045.6,679.5 1045.9,647.3 1046.2,654.6 1046.5,673.1 1046.8,675.3 1047.1,645.3 1047.4,665.7 1047.7,661.6 1048.0,659.5 1048.3,650.3 1048.6,669.3 1048.9,654.3 1049.2,657.9 1049.5,632.8 1049.8,659.5 1050.1,636.7 1050.4,669.7 1050.7,667.2 1051.0,654.9 1051.3,663.4 1051.6,662.9 1051.9,659.9 1052.2,666.5 1052.5,660.7 1052.8,656.6 1053.1,653.0 1053.4,684.0 1053.7,669.4 1054.0,663.7 1054.3,673.3 1054.6,629.6 1054.9,660.3 1055.2,673.7 1055.5,678.6 1055.8,674.6 1056.1,648.3 1056.4,667.8 1056.7,667.2 1057.0,673.5 1057.3,657.3 1057.6,655.6 1057.9,667.6 1058.2,652.7 1058.5,656.6 1058.8,669.3 1059.1,681.9 1059.4,672.4 1059.7,684.8 1060.0,658.9 1060.3,680.2 1060.6,671.5 1060.9,660.9 1061.2,666.7 1061.5,649.7 1061.8,669.3 1062.1,662.7 1062.4,687.3 1062.7,667.3 1063.0,654.1 1063.3,668.9 1063.6,675.8 1063.9,666.8 1064.2,680.9 1064.5,658.8 1064.8,659.1 1065.1,688.9 1065.4,668.6 1065.7,674.7 1066.0,673.6 1066.3,674.0 1066.6,667.0 1066.9,663.6 1067.2,678.6 1067.5,659.0 1067.8,665.8 1068.1,672.3 1068.4,658.8 1068.7,632.1 1069.0,668.4 1069.3,675.5 1069.6,665.3 1069.9,641.8 1070.2,669.5 1070.5,685.3 1070.8,643.0 1071.1,629.0 1071.4,658.5 1071.7,662.4 1072.0,670.9 1072.3,671.4 1072.6,662.8 1072.9,668.3 1073.2,665.9 1073.5,663.5 1073.8,661.4 1074.1,660.4 1074.4,670.6 1074.7,667.1 1075.0,657.7 1075.3,675.4 1075.6,653.8 1075.9,659.7 1076.2,662.0 1076.5,643.1 1076.8,657.8 1077.1,672.2 1077.4,671.6 1077.7,647.8 1078.0,652.0 1078.3,648.9 1078.6,658.7 1078.9,660.6 1079.2,642.4 1079.5,664.8 1079.8,661.8 1080.1,659.9 1080.4,652.8 1080.7,658.4 1081.0,639.6 1081.3,663.2 1081.6,662.9 1081.9,659.1 1082.2,646.5 1082.5,675.2 1082.8,673.5 1083.1,638.4 1083.4,665.2 1083.7,662.1 1084.0,630.3 1084.3,666.4 1084.6,668.0 1084.9,668.8 1085.2,656.4 1085.5,652.7 1085.8,654.3 1086.1,666.2 1086.4,673.8 1086.7,654.4 1087.0,656.8 1087.3,668.1 1087.6,634.8 1087.9,665.0 1088.2,657.0 1088.5,634.0 1088.8,668.4 1089.1,648.7 1089.4,655.4 1089.7,693.2 1090.0,644.5 1090.3,645.0 1090.6,658.7 1090.9,638.4 1091.2,667.1 1091.5,660.7 1091.8,669.9 1092.1,637.1 1092.4,660.7 1092.7,663.7 1093.0,637.4 1093.3,668.6 1093.6,642.2 1093.9,660.3 1094.2,642.9 1094.5,667.4 1094.8,678.0 1095.1,658.9 1095.4,658.6 1095.7,673.3 1096.0,653.0 1096.3,658.8 1096.6,667.7 1096.9,663.1 1097.2,676.4 1097.5,672.1 1097.8,680.5 1098.1,658.0 1098.4,671.2 1098.7,648.7 1099.0,668.7 1099.3,678.5 1099.6,685.4 1099.9,643.6 1100.2,656.1 1100.5,666.3 1100.8,647.8 1101.1,664.4 1101.4,664.2 1101.7,652.3 1102.0,651.6 1102.3,647.1 1102.6,661.4 1102.9,672.5 1103.2,661.1 1103.5,689.9 1103.8,640.3 1104.1,650.7 1104.4,665.2 1104.7,643.9 1105.0,661.1 1105.3,666.4 1105.6,658.8 1105.9,653.9 1106.2,667.2 1106.5,660.8 1106.8,664.1 1107.1,661.7 1107.4,647.1 1107.7,644.9 1108.0,649.7 1108.3,655.8 1108.6,651.0 1108.9,663.9 1109.2,655.4 1109.5,663.3 1109.8,652.9 1110.1,642.7 1110.4,660.6 1110.7,656.2 1111.0,640.1 1111.3,644.8 1111.6,682.1 1111.9,609.2 1112.2,662.0 1112.5,649.2 1112.8,647.5 1113.1,644.6 1113.4,648.0 1113.7,675.8 1114.0,642.6 1114.3,644.2 1114.6,657.3 1114.9,652.4 1115.2,645.8 1115.5,644.6 1115.8,632.4 1116.1,630.5 1116.4,635.9 1116.7,619.8 1117.0,661.3 1117.3,658.0 1117.6,653.3 1117.9,643.3 1118.2,663.9 1118.5,637.0 1118.8,624.0 1119.1,652.3 1119.4,660.2 1119.7,658.2 1120.0,675.8 1120.3,661.0 1120.6,648.5 1120.9,649.0 1121.2,662.0 1121.5,650.6 1121.8,649.7 1122.1,630.0 1122.4,647.4 1122.7,635.4 1123.0,653.7 1123.3,652.2 1123.6,658.9 1123.9,671.6 1124.2,647.6 1124.5,666.8 1124.8,635.3 1125.1,650.4 1125.4,659.6 1125.7,671.3 1126.0,633.9 1126.3,643.7 1126.6,648.0 1126.9,644.7 1127.2,633.9 1127.5,597.3 1127.8,629.8 1128.1,643.2 1128.4,627.6 1128.7,665.0 1129.0,658.1 1129.3,619.9 1129.6,636.8 1129.9,658.7 1130.2,660.0 1130.5,655.9 1130.8,624.9 1131.1,637.8 1131.4,657.8 1131.7,643.5 1132.0,636.8 1132.3,648.6 1132.6,654.5 1132.9,644.4 1133.2,645.8 1133.5,654.0 1133.8,636.4 1134.1,632.3 1134.4,652.9 1134.7,629.2 1135.0,650.0 1135.3,635.3 1135.6,654.6 1135.9,630.1 1136.2,658.5 1136.5,648.3 1136.8,631.1 1137.1,634.5 1137.4,643.2 1137.7,633.8 1138.0,630.4 1138.3,658.1 1138.6,652.2 1138.9,659.8 1139.2,628.1 1139.5,620.7 1139.8,624.9 1140.1,651.9 1140.4,653.5 1140.7,620.7 1141.0,655.5 1141.3,637.3 1141.6,627.7 1141.9,640.9 1142.2,648.4 1142.5,638.4 1142.8,652.7 1143.1,629.9 1143.4,622.4 1143.7,634.7 1144.0,619.0 1144.3,645.8 1144.6,627.6 1144.9,653.6 1145.2,617.9 1145.5,654.0 1145.8,625.7 1146.1,625.2 1146.4,639.4 1146.7,646.5 1147.0,634.7 1147.3,630.4 1147.6,658.9 1147.9,640.4 1148.2,619.2 1148.5,630.4 1148.8,654.0 1149.1,637.0 1149.4,642.8 1149.7,657.3 1150.0,624.9 1150.3,654.3 1150.6,623.5 1150.9,631.4 1151.2,637.8 1151.5,614.7 1151.8,632.6 1152.1,632.4 1152.4,643.4 1152.7,623.0 1153.0,614.5 1153.3,640.1 1153.6,616.1 1153.9,631.9 1154.2,636.6 1154.5,618.8 1154.8,628.0 1155.1,616.7 1155.4,594.6 1155.7,611.6 1156.0,603.8 1156.3,629.6 1156.6,616.4 1156.9,627.8 1157.2,629.1 1157.5,642.9 1157.8,625.8 1158.1,625.4 1158.4,636.8 1158.7,650.7 1159.0,630.3 1159.3,635.7 1159.6,629.6 1159.9,623.7 1160.2,613.8 1160.5,632.2 1160.8,630.3 1161.1,631.0 1161.4,658.8 1161.7,630.9 1162.0,639.5 1162.3,631.6 1162.6,650.7 1162.9,633.1 1163.2,659.8 1163.5,634.1 1163.8,647.2 1164.1,650.4 1164.4,635.3 1164.7,648.9 1165.0,639.4 1165.3,629.4 1165.6,630.6 1165.9,643.0 1166.2,660.9 1166.5,633.1 1166.8,645.7 1167.1,629.2 1167.4,642.1 1167.7,622.0 1168.0,629.2 1168.3,628.6 1168.6,629.4 1168.9,635.1 1169.2,650.6 1169.5,640.4 1169.8,629.1 1170.1,622.5 1170.4,630.9 1170.7,651.2 1171.0,635.8 1171.3,634.7 1171.6,645.0 1171.9,646.1 1172.2,647.9 1172.5,630.8 1172.8,623.7 1173.1,614.1 1173.4,625.8 1173.7,629.2 1174.0,642.4 1174.3,637.1 1174.6,625.9 1174.9,643.4 1175.2,617.0 1175.5,619.3 1175.8,617.7 1176.1,618.6 1176.4,628.8 1176.7,614.5 1177.0,622.7 1177.3,648.4 1177.6,614.3 1177.9,619.8 1178.2,629.7 1178.5,638.3 1178.8,639.1 1179.1,630.3 1179.4,629.4 1179.7,631.0 1180.0,643.7 1180.3,623.8 1180.6,606.8 1180.9,638.1 1181.2,621.9 1181.5,635.8 1181.8,653.8 1182.1,638.3 1182.4,659.8 1182.7,618.2 1183.0,640.6 1183.3,642.6 1183.6,648.0 1183.9,629.0 1184.2,639.9 1184.5,639.3 1184.8,638.8 1185.1,620.8 1185.4,616.3 1185.7,643.8 1186.0,641.1 1186.3,637.1 1186.6,644.1 1186.9,649.2 1187.2,621.5 1187.5,644.8 1187.8,647.8 1188.1,647.0 1188.4,641.4 1188.7,642.4 1189.0,615.9 1189.3,627.1 1189.6,645.3 1189.9,650.5 1190.2,637.7 1190.5,626.2 1190.8,629.8 1191.1,641.6 1191.4,655.5 1191.7,653.5 1192.0,623.9 1192.3,637.7 1192.6,635.0 1192.9,658.8 1193.2,636.5 1193.5,629.3 1193.8,627.7 1194.1,613.3 1194.4,615.2 1194.7,637.9 1195.0,617.7 1195.3,629.7 1195.6,641.6 1195.9,638.4 1196.2,645.2 1196.5,628.3 1196.8,623.9 1197.1,603.4 1197.4,630.5 1197.7,633.8 1198.0,616.2 1198.3,620.7 1198.6,616.8 1198.9,638.2 1199.2,635.0 1199.5,640.0 1199.8,610.3 1200.1,657.5 1200.4,614.6 1200.7,617.8 1201.0,627.3 1201.3,618.2 1201.6,647.3 1201.9,620.1 1202.2,616.8 1202.5,637.2 1202.8,640.2 1203.1,615.1 1203.4,619.6 1203.7,621.1 1204.0,623.6 1204.3,638.9 1204.6,641.1 1204.9,638.9 1205.2,641.5 1205.5,626.3 1205.8,636.8 1206.1,625.3 1206.4,617.1 1206.7,646.8 1207.0,605.1 1207.3,626.7 1207.6,619.7 1207.9,606.5 1208.2,622.2 1208.5,649.6 1208.8,632.8 1209.1,617.1 1209.4,636.5 1209.7,631.2 1210.0,637.4 1210.3,604.1 1210.6,622.1 1210.9,620.2 1211.2,634.8 1211.5,618.7 1211.8,621.5 1212.1,613.8 1212.4,613.1 1212.7,616.2 1213.0,639.3 1213.3,614.4 1213.6,597.5 1213.9,630.6 1214.2,592.2 1214.5,633.3 1214.8,632.9 1215.1,622.3 1215.4,620.8 1215.7,618.9 1216.0,617.9 1216.3,615.7 1216.6,627.3 1216.9,641.6 1217.2,616.4 1217.5,616.7 1217.8,616.4 1218.1,631.5 1218.4,631.9 1218.7,641.3 1219.0,632.5 1219.3,625.3 1219.6,629.3 1219.9,607.9 1220.2,630.7 1220.5,623.6 1220.8,649.2 1221.1,640.8 1221.4,614.1 1221.7,617.3 1222.0,635.0 1222.3,599.2 1222.6,613.3 1222.9,629.0 1223.2,632.4 1223.5,626.9 1223.8,638.8 1224.1,623.0 1224.4,625.8 1224.7,622.3 1225.0,611.3 1225.3,625.0 1225.6,617.7 1225.9,625.2 1226.2,592.3 1226.5,625.1 1226.8,617.0 1227.1,615.8 1227.4,623.6 1227.7,617.0 1228.0,633.6 1228.3,637.1 1228.6,632.3 1228.9,598.4 1229.2,625.1 1229.5,620.7 1229.8,604.3 1230.1,615.0 1230.4,633.7 1230.7,627.8 1231.0,612.2 1231.3,619.1 1231.6,630.2 1231.9,618.1 1232.2,636.4 1232.5,607.3 1232.8,625.8 1233.1,624.4 1233.4,617.9 1233.7,619.4 1234.0,622.2 1234.3,588.2 1234.6,621.3 1234.9,629.5 1235.2,620.5 1235.5,629.6 1235.8,601.7 1236.1,615.3 1236.4,620.3 1236.7,613.3 1237.0,631.1 1237.3,622.8 1237.6,611.0 1237.9,627.3 1238.2,627.7 1238.5,612.8 1238.8,626.0 1239.1,623.2 1239.4,623.3 1239.7,604.2 1240.0,634.9 1240.3,627.7 1240.6,619.8 1240.9,624.6 1241.2,624.7 1241.5,617.3 1241.8,614.2 1242.1,622.6 1242.4,614.5 1242.7,616.0 1243.0,608.1 1243.3,618.9 1243.6,634.5 1243.9,625.1 1244.2,623.2 1244.5,618.9 1244.8,617.7 1245.1,575.8 1245.4,642.7 1245.7,614.1 1246.0,604.8 1246.3,627.6 1246.6,625.7 1246.9,616.3 1247.2,604.7 1247.5,605.7 1247.8,640.7 1248.1,620.3 1248.4,613.6 1248.7,643.3 1249.0,614.2 1249.3,609.3 1249.6,626.4 1249.9,623.9 1250.2,637.7 1250.5,600.0 1250.8,621.5 1251.1,597.4 1251.4,610.8 1251.7,608.7 1252.0,610.5 1252.3,606.7 1252.6,624.9 1252.9,633.7 1253.2,613.0 1253.5,610.6 1253.8,607.3 1254.1,619.1 1254.4,600.4 1254.7,654.3 1255.0,609.4 1255.3,632.2 1255.6,613.6 1255.9,595.6 1256.2,593.3 1256.5,606.8 1256.8,603.3 1257.1,609.0 1257.4,598.4 1257.7,639.8 1258.0,637.3 1258.3,591.0 1258.6,618.1 1258.9,626.7 1259.2,608.7 1259.5,610.1 1259.8,625.6 1260.1,619.2 1260.4,598.6 1260.7,627.3 1261.0,607.1 1261.3,634.6 1261.6,601.3 1261.9,585.5 1262.2,613.4 1262.5,626.3 1262.8,617.8 1263.1,613.3 1263.4,600.4 1263.7,621.7 1264.0,588.8 1264.3,619.6 1264.6,595.7 1264.9,602.5 1265.2,593.7 1265.5,598.1 1265.8,626.0 1266.1,586.7 1266.4,610.1 1266.7,595.8 1267.0,619.2 1267.3,590.9 1267.6,606.6 1267.9,616.9 1268.2,632.5 1268.5,591.7 1268.8,595.0 1269.1,604.4 1269.4,622.2 1269.7,592.4 1270.0,613.8 1270.3,596.5 1270.6,591.4 1270.9,584.5 1271.2,604.5 1271.5,614.2 1271.8,601.2 1272.1,577.1 1272.4,595.2 1272.7,612.9 1273.0,611.5 1273.3,590.8 1273.6,618.1 1273.9,585.4 1274.2,585.6 1274.5,628.1 1274.8,607.6 1275.1,597.1 1275.4,593.5 1275.7,568.6 1276.0,589.5 1276.3,574.3 1276.6,571.1 1276.9,597.8 1277.2,616.1 1277.5,593.5 1277.8,602.5 1278.1,592.9 1278.4,602.6 1278.7,578.1 1279.0,622.7 1279.3,586.3 1279.6,604.4 1279.9,573.4 1280.2,618.7 1280.5,602.8 1280.8,621.4 1281.1,589.8 1281.4,609.9 1281.7,595.4 1282.0,608.6 1282.3,612.9 1282.6,586.6 1282.9,606.2 1283.2,620.5 1283.5,618.1 1283.8,609.9 1284.1,601.1 1284.4,585.6 1284.7,614.2 1285.0,592.9 1285.3,611.3 1285.6,593.0 1285.9,597.0 1286.2,596.8 1286.5,604.0 1286.8,591.5 1287.1,598.7 1287.4,590.3 1287.7,602.6 1288.0,599.6 1288.3,601.1 1288.6,585.9 1288.9,599.6 1289.2,596.0 1289.5,602.2 1289.8,595.6 1290.1,583.4 1290.4,603.0 1290.7,586.3 1291.0,597.1 1291.3,568.9 1291.6,598.9 1291.9,600.4 1292.2,581.6 1292.5,598.6 1292.8,587.1 1293.1,607.0 1293.4,598.2 1293.7,575.6 1294.0,587.2 1294.3,568.8 1294.6,585.0 1294.9,594.5 1295.2,597.3 1295.5,586.2 1295.8,584.2 1296.1,588.4 1296.4,579.4 1296.7,589.4 1297.0,597.8 1297.3,587.1 1297.6,594.1 1297.9,575.6 1298.2,578.5 1298.5,587.2 1298.8,605.3 1299.1,593.9 1299.4,608.1 1299.7,582.8 1300.0,595.3 1300.3,563.3 1300.6,586.9 1300.9,558.4 1301.2,593.9 1301.5,585.5 1301.8,592.5 1302.1,584.0 1302.4,574.0 1302.7,571.0 1303.0,580.7 1303.3,594.4 1303.6,588.6 1303.9,571.9 1304.2,571.3 1304.5,569.5 1304.8,574.2 1305.1,575.0 1305.4,555.9 1305.7,574.8 1306.0,558.4 1306.3,589.1 1306.6,575.3 1306.9,587.6 1307.2,574.6 1307.5,569.1 1307.8,571.5 1308.1,572.4 1308.4,562.5 1308.7,573.6 1309.0,590.5 1309.3,597.2 1309.6,562.3 1309.9,575.0 1310.2,558.2 1310.5,585.1 1310.8,557.3 1311.1,578.9 1311.4,569.7 1311.7,570.2 1312.0,562.0 1312.3,568.3 1312.6,564.0 1312.9,563.7 1313.2,577.3 1313.5,597.7 1313.8,571.0 1314.1,584.5 1314.4,575.6 1314.7,594.5 1315.0,590.1 1315.3,584.0 1315.6,589.7 1315.9,580.2 1316.2,581.1 1316.5,572.3 1316.8,578.5 1317.1,598.2 1317.4,533.6 1317.7,587.3 1318.0,598.6 1318.3,593.1 1318.6,594.8 1318.9,584.8 1319.2,599.3 1319.5,600.7 1319.8,590.0 1320.1,648.1 1320.4,601.8 1320.7,567.8 1321.0,594.3 1321.3,594.2 1321.6,587.0 1321.9,592.1 1322.2,592.1 1322.5,578.1 1322.8,614.1 1323.1,600.8 1323.4,632.5 1323.7,602.2 1324.0,607.8 1324.3,586.4 1324.6,616.6 1324.9,592.7 1325.2,612.4 1325.5,617.7 1325.8,616.4 1326.1,598.1 1326.4,599.0 1326.7,618.0 1327.0,623.6 1327.3,627.2 1327.6,609.8 1327.9,609.2 1328.2,632.5 1328.5,603.6 1328.8,620.3 1329.1,607.1 1329.4,593.3 1329.7,597.0 1330.0,616.4 1330.3,613.0 1330.6,615.5 1330.9,604.8 1331.2,602.4 1331.5,610.7 1331.8,604.6 1332.1,588.2 1332.4,600.2 1332.7,622.1 1333.0,589.8 1333.3,607.8 1333.6,600.3 1333.9,608.3 1334.2,590.3 1334.5,585.3 1334.8,601.7 1335.1,589.2 1335.4,594.9 1335.7,591.2 1336.0,602.8 1336.3,594.9 1336.6,592.8 1336.9,580.9 1337.2,574.2 1337.5,580.5 1337.8,596.3 1338.1,594.1 1338.4,592.3 1338.7,581.8 1339.0,574.7 1339.3,596.3 1339.6,585.9 1339.9,589.0 1340.2,573.1 1340.5,575.3 1340.8,588.8 1341.1,589.4 1341.4,570.6 1341.7,583.8 1342.0,567.9 1342.3,592.9 1342.6,586.7 1342.9,603.4 1343.2,594.9 1343.5,571.4 1343.8,580.1 1344.1,572.5 1344.4,578.7 1344.7,585.1 1345.0,563.5 1345.3,576.4 1345.6,561.0 1345.9,580.8 1346.2,597.6 1346.5,580.0 1346.8,583.7 1347.1,571.6 1347.4,578.6 1347.7,564.3 1348.0,579.6 1348.3,568.8 1348.6,562.1 1348.9,565.0 1349.2,535.4 1349.5,559.1 1349.8,560.4 1350.1,564.1 1350.4,562.1 1350.7,555.7 1351.0,559.4 1351.3,539.2 1351.6,560.4 1351.9,564.1 1352.2,565.5 1352.5,562.4 1352.8,554.2 1353.1,554.6 1353.4,550.0 1353.7,549.2 1354.0,568.4 1354.3,564.5 1354.6,535.6 1354.9,545.8 1355.2,552.0 1355.5,539.6 1355.8,551.3 1356.1,534.6 1356.4,542.7 1356.7,530.4 1357.0,545.9 1357.3,535.9 1357.6,546.5 1357.9,537.6 1358.2,531.0 1358.5,533.8 1358.8,536.4 1359.1,533.7 1359.4,530.2 1359.7,527.8 1360.0,528.5 1360.3,532.4 1360.6,520.7 1360.9,525.5 1361.2,511.8 1361.5,524.3 1361.8,518.5 1362.1,511.8 1362.4,509.5 1362.7,499.2 1363.0,505.7 1363.3,500.6 1363.6,491.3 1363.9,492.4 1364.2,490.5 1364.5,486.5 1364.8,482.9 1365.1,478.9 1365.4,476.5 1365.7,472.9 1366.0,470.9 1366.3,469.6 1366.6,464.0 1366.9,462.9 1367.2,461.0 1367.5,458.2 1367.8,457.5 1368.1,454.4 1368.4,454.0 1368.7,451.2 1369.0,449.1 1369.3,446.9 1369.6,448.1 1369.9,443.9 1370.2,442.7 1370.5,440.5 1370.8,439.5 1371.1,437.5 1371.4,435.9 1371.7,432.7 1372.0,432.9 1372.3,431.9 1372.6,429.0 1372.9,427.3 1373.2,426.9 1373.5,426.1 1373.8,422.5 1374.1,423.5 1374.4,423.1 1374.7,420.8 1375.0,420.5 1375.3,420.2 1375.6,418.3 1375.9,419.9 1376.2,419.7 1376.5,417.1 1376.8,419.7 1377.1,420.2 1377.4,417.3 1377.7,420.1 1378.0,415.3 1378.3,416.8 1378.6,417.2 1378.9,417.4 1379.2,419.5 1379.5,418.0 1379.8,414.7 1380.1,416.7 1380.4,418.6 1380.7,416.7 1381.0,417.5 1381.3,419.4 1381.6,419.4 1381.9,417.6 1382.2,418.3 1382.5,419.1 1382.8,418.3 1383.1,420.0 1383.4,420.2 1383.7,418.0 1384.0,416.3 1384.3,417.8 1384.6,420.0 1384.9,419.6 1385.2,419.6 1385.5,419.4 1385.8,416.9 1386.1,418.0 1386.4,419.2 1386.7,417.9 1387.0,418.7 1387.3,416.6 1387.6,417.5 1387.9,422.0 1388.2,422.6 1388.5,424.7 1388.8,427.9 1389.1,431.2 1389.4,434.6 1389.7,434.3 1390.0,439.3 1390.3,443.0 1390.6,444.2 1390.9,447.4 1391.2,451.4 1391.5,456.0 1391.8,458.7 1392.1,462.9 1392.4,465.3 1392.7,469.6 1393.0,473.7 1393.3,477.0 1393.6,480.7 1393.9,484.8 1394.2,486.8 1394.5,493.2 1394.8,496.1 1395.1,500.1 1395.4,506.1 1395.7,510.5 1396.0,514.1 1396.3,520.2 1396.6,525.2 1396.9,529.7 1397.2,534.6 1397.5,538.9 1397.8,541.7 1398.1,546.3 1398.4,550.1 1398.7,553.6 1399.0,559.8 1399.3,560.0 1399.6,567.5 1399.9,566.6 1400.2,581.4 1400.5,594.3 1400.8,574.0 1401.1,581.6 1401.4,582.1 1401.7,587.0 1402.0,579.3 1402.3,554.0 1402.6,585.7 1402.9,579.7 1403.2,568.1 1403.5,578.6 1403.8,565.5 1404.1,583.6 1404.4,576.7 1404.7,577.0 1405.0,581.4 1405.3,582.8 1405.6,579.7 1405.9,593.3 1406.2,581.8 1406.5,569.4 1406.8,598.9 1407.1,579.4 1407.4,596.2 1407.7,564.6 1408.0,583.5 1408.3,596.8 1408.6,591.1 1408.9,576.8 1409.2,568.4 1409.5,567.8 1409.8,572.4 1410.1,562.7 1410.4,555.3 1410.7,561.9 1411.0,561.5 1411.3,575.0 1411.6,552.2 1411.9,573.2 1412.2,578.4 1412.5,560.1 1412.8,559.9 1413.1,569.6 1413.4,568.3 1413.7,578.5 1414.0,546.3 1414.3,566.4 1414.6,581.7 1414.9,567.0 1415.2,584.6 1415.5,588.5 1415.8,549.9 1416.1,580.1 1416.4,569.0 1416.7,562.6 1417.0,559.1 1417.3,559.2 1417.6,550.8 1417.9,558.6 1418.2,570.8 1418.5,574.2 1418.8,554.5 1419.1,564.8 1419.4,563.8 1419.7,528.5 1420.0,566.1 1420.3,557.9 1420.6,543.0 1420.9,566.6 1421.2,576.2 1421.5,543.9 1421.8,546.7 1422.1,546.2 1422.4,527.0 1422.7,553.0 1423.0,548.5 1423.3,540.3 1423.6,577.0 1423.9,553.2 1424.2,550.9 1424.5,568.7 1424.8,556.0 1425.1,571.5 1425.4,568.9 1425.7,571.6 1426.0,557.8 1426.3,569.1 1426.6,547.0 1426.9,549.3 1427.2,564.9 1427.5,561.5 1427.8,579.5 1428.1,563.0 1428.4,547.6 1428.7,567.6 1429.0,558.7 1429.3,570.0 1429.6,555.5 1429.9,560.2 1430.2,570.1 1430.5,578.2 1430.8,575.0 1431.1,579.4 1431.4,555.0 1431.7,569.5 1432.0,575.0 1432.3,584.0 1432.6,576.6 1432.9,571.5 1433.2,573.4 1433.5,574.2 1433.8,559.6 1434.1,576.7 1434.4,586.1 1434.7,585.5 1435.0,556.7 1435.3,578.4 1435.6,561.7 1435.9,591.8 1436.2,585.9 1436.5,588.3 1436.8,572.9 1437.1,558.8 1437.4,569.4 1437.7,577.6 1438.0,565.3 1438.3,573.3 1438.6,602.8 1438.9,567.7 1439.2,589.5 1439.5,562.0 1439.8,586.6 1440.1,593.6 1440.4,589.3 1440.7,598.3 1441.0,605.4 1441.3,568.8 1441.6,588.1 1441.9,591.3 1442.2,590.4 1442.5,604.1 1442.8,589.1 1443.1,600.1 1443.4,599.7 1443.7,588.2 1444.0,593.0 1444.3,577.9 1444.6,590.7 1444.9,587.5 1445.2,585.6 1445.5,582.1 1445.8,599.1 1446.1,586.6 1446.4,614.7 1446.7,603.5 1447.0,597.2 1447.3,581.5 1447.6,599.1 1447.9,590.2 1448.2,589.6 1448.5,575.7 1448.8,595.5 1449.1,591.6 1449.4,583.3 1449.7,580.8 1450.0,585.5 1450.3,573.1 1450.6,582.2 1450.9,605.1 1451.2,581.1 1451.5,616.2 1451.8,572.9 1452.1,601.8 1452.4,613.7 1452.7,602.7 1453.0,595.8 1453.3,570.0 1453.6,602.8 1453.9,602.0 1454.2,573.9 1454.5,561.4 1454.8,602.5 1455.1,578.8 1455.4,586.8 1455.7,605.1 1456.0,606.4 1456.3,595.4 1456.6,584.4 1456.9,611.7 1457.2,605.4 1457.5,590.1 1457.8,580.7 1458.1,595.9 1458.4,576.6 1458.7,638.5 1459.0,599.5 1459.3,589.5 1459.6,599.0 1459.9,574.3 1460.2,593.9 1460.5,587.3 1460.8,576.2 1461.1,587.9 1461.4,600.0 1461.7,578.9 1462.0,594.0 1462.3,579.1 1462.6,599.3 1462.9,575.8 1463.2,605.9 1463.5,605.5 1463.8,607.7 1464.1,619.7 1464.4,600.1 1464.7,599.7 1465.0,605.7 1465.3,592.9 1465.6,575.7 1465.9,583.9 1466.2,584.1 1466.5,601.3 1466.8,591.3 1467.1,594.4 1467.4,606.1 1467.7,601.7 1468.0,623.7 1468.3,599.0 1468.6,588.3 1468.9,615.2 1469.2,594.9 1469.5,599.2 1469.8,612.3 1470.1,602.5 1470.4,609.0 1470.7,593.1 1471.0,597.2 1471.3,608.7 1471.6,606.4 1471.9,597.4 1472.2,601.0 1472.5,621.0 1472.8,619.7 1473.1,604.8 1473.4,603.0 1473.7,593.9 1474.0,619.0 1474.3,607.7 1474.6,614.3 1474.9,586.0 1475.2,612.9 1475.5,605.2 1475.8,612.6 1476.1,616.2 1476.4,603.9 1476.7,599.4 1477.0,612.4 1477.3,589.5 1477.6,621.5 1477.9,608.5 1478.2,591.0 1478.5,620.2 1478.8,616.3 1479.1,623.3 1479.4,617.0 1479.7,610.9 1480.0,604.5 1480.3,583.9 1480.6,614.1 1480.9,612.2 1481.2,599.9 1481.5,633.7 1481.8,594.2 1482.1,617.8 1482.4,606.7 1482.7,623.4 1483.0,595.9 1483.3,616.1 1483.6,606.5 1483.9,597.4 1484.2,609.0 1484.5,601.7 1484.8,616.7 1485.1,603.0 1485.4,590.0 1485.7,628.4 1486.0,585.0 1486.3,609.8 1486.6,598.8 1486.9,606.3 1487.2,635.6 1487.5,579.8 1487.8,610.6 1488.1,604.7 1488.4,609.9 1488.7,594.8 1489.0,593.0 1489.3,621.4 1489.6,611.2 1489.9,590.8 1490.2,605.7 1490.5,589.7 1490.8,641.2 1491.1,611.3 1491.4,585.2 1491.7,618.7 1492.0,615.5 1492.3,612.1 1492.6,610.8 1492.9,602.3 1493.2,607.1 1493.5,585.2 1493.8,626.0 1494.1,669.5 1494.4,616.8 1494.7,618.5 1495.0,594.7 1495.3,583.6 1495.6,594.4 1495.9,595.9 1496.2,618.5 1496.5,629.3 1496.8,611.3 1497.1,642.4 1497.4,622.2 1497.7,584.7 1498.0,607.3 1498.3,628.1 1498.6,614.1 1498.9,624.8 1499.2,591.6 1499.5,627.6 1499.8,597.7 1500.1,616.2 1500.4,637.9 1500.7,613.0 1501.0,609.3 1501.3,621.5 1501.6,602.1 1501.9,600.7 1502.2,624.3 1502.5,594.3 1502.8,611.0 1503.1,634.0 1503.4,597.5 1503.7,618.2 1504.0,626.4 1504.3,612.2 1504.6,600.1 1504.9,623.1 1505.2,601.8 1505.5,638.8 1505.8,640.1 1506.1,606.3 1506.4,620.2 1506.7,604.5 1507.0,617.6 1507.3,623.1 1507.6,600.9 1507.9,619.0 1508.2,592.6 1508.5,616.3 1508.8,610.5 1509.1,602.8 1509.4,623.1 1509.7,612.5 1510.0,607.7 1510.3,609.8 1510.6,609.0 1510.9,622.9 1511.2,608.0 1511.5,576.5 1511.8,573.9 1512.1,598.5 1512.4,596.0 1512.7,607.8 1513.0,605.4 1513.3,609.2 1513.6,626.7 1513.9,594.6 1514.2,620.8 1514.5,609.0 1514.8,625.9 1515.1,620.9 1515.4,610.8 1515.7,622.8 1516.0,612.5 1516.3,596.2 1516.6,615.4 1516.9,649.9 1517.2,607.8 1517.5,612.2 1517.8,603.8 1518.1,612.8 1518.4,605.5 1518.7,590.6 1519.0,605.4 1519.3,627.5 1519.6,618.4 1519.9,626.4 1520.2,608.5 1520.5,603.7 1520.8,595.9 1521.1,610.4 1521.4,620.9 1521.7,618.6 1522.0,617.8 1522.3,605.1 1522.6,610.5 1522.9,600.1 1523.2,619.2 1523.5,616.6 1523.8,602.0 1524.1,611.2 1524.4,582.8 1524.7,633.6 1525.0,600.2 1525.3,605.6 1525.6,617.3 1525.9,618.3 1526.2,570.4 1526.5,629.4 1526.8,634.6 1527.1,627.9 1527.4,626.3 1527.7,611.4 1528.0,627.5 1528.3,600.5 1528.6,597.8 1528.9,613.2 1529.2,614.5 1529.5,601.3 1529.8,633.1 1530.1,595.2 1530.4,587.3 1530.7,607.5 1531.0,632.2 1531.3,621.7 1531.6,617.1 1531.9,614.8 1532.2,620.2 1532.5,617.5 1532.8,615.1 1533.1,612.6 1533.4,595.0 1533.7,626.2 1534.0,609.6 1534.3,619.5 1534.6,621.2 1534.9,628.0 1535.2,617.8 1535.5,625.9 1535.8,626.5 1536.1,615.1 1536.4,616.1 1536.7,618.8 1537.0,604.8 1537.3,612.0 1537.6,604.0 1537.9,632.6 1538.2,608.8 1538.5,605.6 1538.8,620.9 1539.1,622.5 1539.4,615.0 1539.7,608.2 1540.0,625.3 1540.3,630.8 1540.6,600.4 1540.9,625.3 1541.2,599.2 1541.5,629.2 1541.8,615.9 1542.1,618.3 1542.4,630.3 1542.7,639.3 1543.0,647.2 1543.3,638.4 1543.6,629.9 1543.9,605.0 1544.2,616.3 1544.5,622.8 1544.8,641.3 1545.1,628.0 1545.4,617.6 1545.7,642.4 1546.0,617.8 1546.3,604.2 1546.6,613.2 1546.9,610.3 1547.2,627.6 1547.5,635.8 1547.8,630.8 1548.1,622.6 1548.4,609.2 1548.7,603.7 1549.0,607.1 1549.3,617.1 1549.6,612.2 1549.9,619.7 1550.2,628.6 1550.5,616.8 1550.8,636.6 1551.1,605.9 1551.4,623.0 1551.7,614.4 1552.0,627.4 1552.3,614.5 1552.6,608.2 1552.9,613.2 1553.2,607.7 1553.5,601.1 1553.8,624.6 1554.1,607.3 1554.4,636.3 1554.7,645.9 1555.0,610.4 1555.3,625.9 1555.6,614.3 1555.9,592.1 1556.2,614.5 1556.5,634.2 1556.8,601.2 1557.1,614.4 1557.4,614.6 1557.7,599.2 1558.0,621.4 1558.3,616.0 1558.6,625.4 1558.9,619.2 1559.2,601.5 1559.5,621.1 1559.8,627.7 1560.1,617.2 1560.4,627.8 1560.7,628.0 1561.0,595.0 1561.3,629.9 1561.6,597.4 1561.9,606.9 1562.2,621.6 1562.5,611.4 1562.8,613.9 1563.1,638.0 1563.4,611.1 1563.7,639.4 1564.0,647.6 1564.3,642.6 1564.6,611.5 1564.9,606.2 1565.2,626.1 1565.5,651.7 1565.8,622.6 1566.1,618.1 1566.4,623.5 1566.7,634.3 1567.0,639.6 1567.3,624.4 1567.6,622.6 1567.9,630.3 1568.2,624.1 1568.5,618.2 1568.8,611.4 1569.1,624.1 1569.4,614.7 1569.7,619.0 1570.0,617.9 1570.3,610.2 1570.6,627.9 1570.9,634.0 1571.2,626.9 1571.5,611.8 1571.8,621.9 1572.1,656.2 1572.4,617.9 1572.7,627.7 1573.0,601.1 1573.3,615.8 1573.6,658.6 1573.9,630.6 1574.2,616.4 1574.5,619.4 1574.8,644.6 1575.1,631.3 1575.4,608.8 1575.7,621.4 1576.0,611.7 1576.3,610.0 1576.6,602.3 1576.9,621.8 1577.2,644.8 1577.5,627.9 1577.8,601.0 1578.1,623.8 1578.4,599.1 1578.7,620.0 1579.0,630.3 1579.3,635.6 1579.6,618.8 1579.9,621.3 1580.2,617.5 1580.5,615.2 1580.8,636.7 1581.1,605.6 1581.4,593.1 1581.7,639.2 1582.0,645.6 1582.3,615.7 1582.6,629.3 1582.9,627.7 1583.2,612.6 1583.5,606.1 1583.8,620.0 1584.1,614.0 1584.4,628.4 1584.7,610.6 1585.0,633.2 1585.3,611.0 1585.6,639.1 1585.9,630.2 1586.2,633.6 1586.5,615.0 1586.8,617.2 1587.1,619.2 1587.4,635.3 1587.7,612.8 1588.0,611.7 1588.3,618.9 1588.6,626.4 1588.9,621.4 1589.2,621.9 1589.5,606.9 1589.8,615.8 1590.1,610.5 1590.4,636.9 1590.7,623.8 1591.0,632.9 1591.3,608.7 1591.6,624.6 1591.9,622.4 1592.2,612.5 1592.5,617.7 1592.8,619.5 1593.1,627.8 1593.4,629.5 1593.7,608.7 1594.0,630.3 1594.3,628.9 1594.6,629.9 1594.9,615.6 1595.2,625.4 1595.5,642.0 1595.8,635.2 1596.1,618.7 1596.4,645.8 1596.7,621.0 1597.0,615.0 1597.3,639.7 1597.6,629.8 1597.9,653.8 1598.2,622.8 1598.5,627.1 1598.8,634.4 1599.1,628.5 1599.4,620.2 1599.7,624.9 1600.0,624.5 1600.3,624.3 1600.6,623.9 1600.9,605.3 1601.2,634.6 1601.5,615.9 1601.8,620.2 1602.1,613.3 1602.4,620.0 1602.7,633.9 1603.0,637.0 1603.3,625.2 1603.6,622.9 1603.9,611.4 1604.2,616.8 1604.5,622.5 1604.8,617.5 1605.1,607.1 1605.4,619.3 1605.7,605.7 1606.0,642.4 1606.3,621.1 1606.6,610.4 1606.9,622.3 1607.2,607.7 1607.5,613.3 1607.8,634.3 1608.1,630.9 1608.4,601.7 1608.7,602.3 1609.0,609.2 1609.3,641.5 1609.6,615.7 1609.9,617.8 1610.2,608.7 1610.5,630.0 1610.8,625.7 1611.1,594.2 1611.4,604.3 1611.7,592.7 1612.0,600.4 1612.3,604.2 1612.6,598.0 1612.9,605.9 1613.2,621.0 1613.5,625.8 1613.8,613.7 1614.1,620.5 1614.4,596.2 1614.7,628.5 1615.0,637.6 1615.3,609.2 1615.6,617.0 1615.9,614.2 1616.2,584.8 1616.5,621.0 1616.8,614.4 1617.1,590.0 1617.4,603.3 1617.7,621.0 1618.0,613.9 1618.3,591.2 1618.6,600.0 1618.9,598.3 1619.2,607.6 1619.5,597.4 1619.8,605.7 1620.1,602.8 1620.4,587.6 1620.7,608.8 1621.0,606.8 1621.3,595.8 1621.6,611.6 1621.9,628.7 1622.2,584.9 1622.5,604.9 1622.8,611.5 1623.1,602.2 1623.4,595.2 1623.7,625.8 1624.0,595.6 1624.3,599.5 1624.6,593.5 1624.9,613.8 1625.2,576.9 1625.5,590.3 1625.8,594.9 1626.1,603.1 1626.4,603.2 1626.7,610.0 1627.0,597.7 1627.3,590.9 1627.6,597.9 1627.9,589.0 1628.2,592.3 1628.5,592.7 1628.8,600.6 1629.1,605.8 1629.4,585.2 1629.7,590.1 1630.0,595.6 1630.3,595.6 1630.6,592.4 1630.9,600.5 1631.2,591.8 1631.5,575.7 1631.8,606.4 1632.1,579.7 1632.4,608.3 1632.7,593.8 1633.0,593.8 1633.3,575.2 1633.6,592.0 1633.9,586.6 1634.2,579.6 1634.5,592.7 1634.8,593.9 1635.1,597.4 1635.4,573.4 1635.7,576.9 1636.0,596.4 1636.3,587.5 1636.6,589.1 1636.9,576.2 1637.2,583.0 1637.5,585.9 1637.8,567.3 1638.1,571.0 1638.4,577.6 1638.7,584.4 1639.0,569.7 1639.3,577.2 1639.6,563.9 1639.9,559.8 1640.2,572.5 1640.5,558.4 1640.8,564.9 1641.1,558.9 1641.4,565.2 1641.7,550.5 1642.0,547.8 1642.3,546.1 1642.6,541.2 1642.9,560.1 1643.2,554.6 1643.5,548.0 1643.8,543.3 1644.1,548.5 1644.4,537.8 1644.7,541.2 1645.0,539.6 1645.3,532.5 1645.6,527.5 1645.9,523.9 1646.2,517.7 1646.5,514.5 1646.8,504.6 1647.1,499.2 1647.4,502.3 1647.7,487.2 1648.0,478.3 1648.3,485.4" fill="none" stroke="#000" stroke-width="1.8" stroke-linejoin="bevel"/>
<path d="M497.5,1061.4 497.8,1066.2 498.1,1061.1 498.4,1044.0 498.7,1066.7 499.0,1061.7 499.3,1051.3 499.6,1062.6 499.9,1060.1 500.2,1059.0 500.5,1055.9 500.8,1060.9 501.1,1047.2 501.4,1052.7 501.7,1049.0 502.0,1059.8 502.3,1053.6 502.6,1049.7 502.9,1044.3 503.2,1049.4 503.5,1051.8 503.8,1048.5 504.1,1064.5 504.4,1061.3 504.7,1022.6 505.0,1031.0 505.3,1048.7 505.6,1046.1 505.9,1052.7 506.2,1052.8 506.5,1072.5 506.8,1039.2 507.1,1047.0 507.4,1072.3 507.7,1058.0 508.0,1024.6 508.3,1046.5 508.6,1035.0 508.9,1054.1 509.2,1053.8 509.5,1040.2 509.8,1046.1 510.1,1052.8 510.4,1044.0 510.7,1053.0 511.0,1055.2 511.3,1054.8 511.6,1049.4 511.9,1061.0 512.2,1064.2 512.5,1058.3 512.8,1046.6 513.1,1062.7 513.4,1049.9 513.7,1064.2 514.0,1043.9 514.3,1064.5 514.6,1054.6 514.9,1041.8 515.2,1051.3 515.5,1054.9 515.8,1057.0 516.1,1043.8 516.4,1042.2 516.7,1055.5 517.0,1048.3 517.3,1055.3 517.6,1060.4 517.9,1035.0 518.2,1054.4 518.5,1064.1 518.8,1047.9 519.1,1042.2 519.4,1057.5 519.7,1052.5 520.0,1024.1 520.3,1045.4 520.6,1033.2 520.9,1047.1 521.2,1043.2 521.5,1055.5 521.8,1049.1 522.1,1029.8 522.4,1034.0 522.7,1055.3 523.0,1052.9 523.3,1039.0 523.6,1045.4 523.9,1049.9 524.2,1050.0 524.5,1054.1 524.8,1047.6 525.1,1043.9 525.4,1042.2 525.7,1059.2 526.0,1021.5 526.3,1043.5 526.6,1045.3 526.9,1030.3 527.2,1048.6 527.5,1038.5 527.8,1054.4 528.1,1044.3 528.4,1052.6 528.7,1058.5 529.0,1050.0 529.3,1037.1 529.6,1030.6 529.9,1064.7 530.2,1045.5 530.5,1039.6 530.8,1048.4 531.1,1045.0 531.4,1055.9 531.7,1059.9 532.0,1047.4 532.3,1039.9 532.6,1052.2 532.9,1036.6 533.2,1054.2 533.5,1063.1 533.8,1038.0 534.1,1021.7 534.4,1053.6 534.7,1073.6 535.0,1039.7 535.3,1034.2 535.6,1053.2 535.9,1038.3 536.2,1041.8 536.5,1043.4 536.8,1052.5 537.1,1042.8 537.4,1050.0 537.7,1045.3 538.0,1038.5 538.3,1044.1 538.6,1037.7 538.9,1048.9 539.2,1036.3 539.5,1036.8 539.8,1063.5 540.1,1048.1 540.4,1048.3 540.7,1054.5 541.0,1045.1 541.3,1047.4 541.6,1054.5 541.9,1053.3 542.2,1038.7 542.5,1059.6 542.8,1045.2 543.1,1040.7 543.4,1042.5 543.7,1048.1 544.0,1064.1 544.3,1040.4 544.6,1054.4 544.9,1030.8 545.2,1053.1 545.5,1055.0 545.8,1051.0 546.1,1047.0 546.4,1056.1 546.7,1061.1 547.0,1060.8 547.3,1074.4 547.6,1056.2 547.9,1048.0 548.2,1052.8 548.5,1053.4 548.8,1055.3 549.1,1053.9 549.4,1056.0 549.7,1036.9 550.0,1062.7 550.3,1048.1 550.6,1041.7 550.9,1060.3 551.2,1067.2 551.5,1058.5 551.8,1054.8 552.1,1043.3 552.4,1085.3 552.7,1061.4 553.0,1040.2 553.3,1043.6 553.6,1052.2 553.9,1034.8 554.2,1052.2 554.5,1045.3 554.8,1062.3 555.1,1059.1 555.4,1020.8 555.7,1048.8 556.0,1031.2 556.3,1059.0 556.6,1048.9 556.9,1052.5 557.2,1035.6 557.5,1065.2 557.8,1066.9 558.1,1034.9 558.4,1049.6 558.7,1038.6 559.0,1045.3 559.3,1035.4 559.6,1064.7 559.9,1035.5 560.2,1042.5 560.5,1050.9 560.8,1061.0 561.1,1043.5 561.4,1040.3 561.7,1045.0 562.0,1034.4 562.3,1042.2 562.6,1044.9 562.9,1043.8 563.2,1048.1 563.5,1050.0 563.8,1055.7 564.1,1044.8 564.4,1047.0 564.7,1041.7 565.0,1043.4 565.3,1035.9 565.6,1054.5 565.9,1037.5 566.2,1041.7 566.5,1053.3 566.8,1053.8 567.1,1045.6 567.4,1029.0 567.7,1054.2 568.0,1052.6 568.3,1044.1 568.6,1057.9 568.9,1042.7 569.2,1043.6 569.5,1050.9 569.8,1048.0 570.1,1051.9 570.4,1033.2 570.7,1068.4 571.0,1043.4 571.3,1033.6 571.6,1055.8 571.9,1045.6 572.2,1044.4 572.5,1045.6 572.8,1048.3 573.1,1051.3 573.4,1040.9 573.7,1055.5 574.0,1043.5 574.3,1039.2 574.6,1048.8 574.9,1040.4 575.2,1045.3 575.5,1038.6 575.8,1053.7 576.1,1028.9 576.4,1036.2 576.7,1047.0 577.0,1032.3 577.3,1046.4 577.6,1045.3 577.9,1054.8 578.2,1035.9 578.5,1038.5 578.8,1048.1 579.1,1019.1 579.4,1075.9 579.7,1053.9 580.0,1019.7 580.3,1051.8 580.6,1042.2 580.9,1023.9 581.2,1048.3 581.5,1050.2 581.8,1036.5 582.1,1037.8 582.4,1045.3 582.7,1030.7 583.0,1044.2 583.3,1041.4 583.6,1032.1 583.9,1024.5 584.2,1036.2 584.5,1029.3 584.8,1048.4 585.1,1039.5 585.4,1045.9 585.7,1039.1 586.0,1040.4 586.3,1029.6 586.6,1044.5 586.9,1056.0 587.2,1034.6 587.5,1031.8 587.8,1036.4 588.1,1033.3 588.4,1031.3 588.7,1040.1 589.0,1035.9 589.3,1054.0 589.6,1039.5 589.9,1043.2 590.2,1049.9 590.5,1037.4 590.8,1055.5 591.1,1034.5 591.4,1033.0 591.7,1037.8 592.0,1040.7 592.3,1027.7 592.6,1041.9 592.9,1025.4 593.2,1056.9 593.5,1042.0 593.8,1036.3 594.1,1033.7 594.4,1039.1 594.7,1040.8 595.0,1032.4 595.3,1033.7 595.6,1041.2 595.9,1037.8 596.2,1058.7 596.5,1054.7 596.8,1043.2 597.1,1047.9 597.4,1029.3 597.7,1049.5 598.0,1042.7 598.3,1048.0 598.6,1059.4 598.9,1019.7 599.2,1045.7 599.5,1031.8 599.8,1049.2 600.1,1029.7 600.4,1038.1 600.7,1045.3 601.0,1049.6 601.3,1044.1 601.6,1035.3 601.9,1037.8 602.2,1052.5 602.5,1043.5 602.8,1026.3 603.1,1052.2 603.4,1047.8 603.7,1052.5 604.0,1040.1 604.3,1052.0 604.6,1032.7 604.9,1049.3 605.2,1038.4 605.5,1050.3 605.8,1053.6 606.1,1035.8 606.4,1042.7 606.7,1043.6 607.0,1055.3 607.3,1050.4 607.6,1030.6 607.9,1047.7 608.2,1050.7 608.5,1064.8 608.8,1025.9 609.1,1037.6 609.4,1056.7 609.7,1029.3 610.0,1030.9 610.3,1048.5 610.6,1053.7 610.9,1036.5 611.2,1048.9 611.5,1044.6 611.8,1058.9 612.1,1043.3 612.4,1053.5 612.7,1034.0 613.0,1041.3 613.3,1042.1 613.6,1054.6 613.9,1060.6 614.2,1034.8 614.5,1049.3 614.8,1049.9 615.1,1040.6 615.4,1038.8 615.7,1039.1 616.0,1023.3 616.3,1042.2 616.6,1042.3 616.9,1030.6 617.2,1046.6 617.5,1024.6 617.8,1032.5 618.1,1032.9 618.4,1057.6 618.7,1020.6 619.0,1042.3 619.3,1045.8 619.6,1039.7 619.9,1047.6 620.2,1024.9 620.5,1011.6 620.8,1042.5 621.1,1022.1 621.4,1030.8 621.7,1021.9 622.0,1044.5 622.3,1042.4 622.6,1026.0 622.9,1032.6 623.2,1034.3 623.5,1031.5 623.8,1033.3 624.1,1030.5 624.4,1038.7 624.7,1035.4 625.0,1028.5 625.3,1042.2 625.6,1025.5 625.9,1034.5 626.2,1035.6 626.5,1046.2 626.8,1025.7 627.1,1048.5 627.4,1032.2 627.7,1028.2 628.0,1023.0 628.3,1035.6 628.6,1029.9 628.9,1017.8 629.2,1017.3 629.5,1022.8 629.8,1021.3 630.1,1039.1 630.4,1068.2 630.7,1036.3 631.0,1030.8 631.3,1022.5 631.6,1027.2 631.9,1035.5 632.2,1048.0 632.5,1035.3 632.8,1022.9 633.1,1026.0 633.4,1020.6 633.7,1017.4 634.0,1023.4 634.3,1027.2 634.6,1043.9 634.9,1025.6 635.2,1039.0 635.5,1043.2 635.8,1026.0 636.1,1041.7 636.4,1032.7 636.7,1021.2 637.0,1028.3 637.3,1026.0 637.6,1023.6 637.9,1024.1 638.2,1027.9 638.5,1031.1 638.8,1017.9 639.1,1027.1 639.4,1011.9 639.7,1030.4 640.0,1034.5 640.3,1030.1 640.6,1031.7 640.9,1035.1 641.2,1022.6 641.5,1027.3 641.8,1035.2 642.1,1048.4 642.4,1033.9 642.7,1057.0 643.0,1025.3 643.3,1041.6 643.6,1044.6 643.9,1030.4 644.2,1023.5 644.5,1041.5 644.8,1033.7 645.1,1043.5 645.4,1034.9 645.7,1033.8 646.0,1028.1 646.3,1037.5 646.6,1009.8 646.9,1033.7 647.2,1031.4 647.5,1016.7 647.8,1052.7 648.1,1015.8 648.4,1018.6 648.7,1016.8 649.0,1040.0 649.3,1019.0 649.6,1034.5 649.9,1033.1 650.2,1029.2 650.5,1012.6 650.8,1019.2 651.1,1042.1 651.4,1011.2 651.7,1015.5 652.0,1021.9 652.3,1031.4 652.6,1025.4 652.9,1030.1 653.2,1011.3 653.5,1031.7 653.8,1027.7 654.1,1005.5 654.4,1037.6 654.7,1045.3 655.0,1014.1 655.3,1022.7 655.6,1036.6 655.9,1007.4 656.2,1002.6 656.5,1010.0 656.8,998.2 657.1,1018.2 657.4,1030.8 657.7,1027.9 658.0,1012.9 658.3,1032.0 658.6,1045.8 658.9,1039.4 659.2,1037.8 659.5,1028.3 659.8,1038.7 660.1,1019.1 660.4,1037.1 660.7,1028.8 661.0,1041.6 661.3,1035.1 661.6,1019.3 661.9,1031.9 662.2,1043.2 662.5,1019.2 662.8,1025.1 663.1,1022.9 663.4,1015.4 663.7,1040.4 664.0,1043.8 664.3,1038.3 664.6,1032.4 664.9,1029.1 665.2,1031.8 665.5,1021.6 665.8,1037.9 666.1,1045.9 666.4,1037.5 666.7,1017.8 667.0,1028.0 667.3,1025.1 667.6,1044.7 667.9,1027.8 668.2,1006.3 668.5,1029.2 668.8,1044.0 669.1,1031.3 669.4,1032.9 669.7,1023.9 670.0,1025.1 670.3,1004.2 670.6,1009.6 670.9,1020.6 671.2,1024.8 671.5,1028.3 671.8,1017.5 672.1,1030.5 672.4,1017.6 672.7,1015.8 673.0,1028.7 673.3,1010.5 673.6,991.8 673.9,1008.8 674.2,1020.5 674.5,988.0 674.8,1015.8 675.1,1016.1 675.4,1005.0 675.7,1004.5 676.0,1014.9 676.3,1014.2 676.6,1032.7 676.9,1023.8 677.2,1004.0 677.5,1011.5 677.8,1027.6 678.1,1039.9 678.4,1024.6 678.7,1024.0 679.0,1039.9 679.3,1020.8 679.6,1018.0 679.9,1006.8 680.2,1016.1 680.5,1043.5 680.8,1006.9 681.1,1021.6 681.4,1007.2 681.7,1022.8 682.0,1030.6 682.3,1013.1 682.6,1029.0 682.9,1045.9 683.2,1026.2 683.5,1039.1 683.8,1024.1 684.1,1018.6 684.4,1014.8 684.7,1013.1 685.0,1026.5 685.3,1018.4 685.6,1049.5 685.9,1040.4 686.2,1019.6 686.5,1018.4 686.8,1038.9 687.1,1002.6 687.4,1017.2 687.7,1031.4 688.0,1012.5 688.3,1016.9 688.6,1018.2 688.9,1047.5 689.2,1023.1 689.5,1025.8 689.8,1027.7 690.1,1022.0 690.4,1032.9 690.7,1025.2 691.0,1007.1 691.3,1003.6 691.6,1005.2 691.9,1016.0 692.2,1032.0 692.5,1023.4 692.8,1015.5 693.1,1010.7 693.4,1016.1 693.7,1017.4 694.0,1015.7 694.3,1006.8 694.6,1016.4 694.9,1036.3 695.2,999.1 695.5,1018.5 695.8,999.3 696.1,1022.5 696.4,1013.0 696.7,1013.3 697.0,1021.2 697.3,1038.3 697.6,1020.8 697.9,1026.1 698.2,1018.5 698.5,997.2 698.8,1023.7 699.1,1014.3 699.4,1003.5 699.7,1025.9 700.0,1030.1 700.3,1012.2 700.6,1026.0 700.9,1008.1 701.2,1023.2 701.5,1006.9 701.8,1021.6 702.1,1004.8 702.4,1030.7 702.7,1018.0 703.0,1029.7 703.3,1006.8 703.6,1010.1 703.9,1023.2 704.2,987.1 704.5,1003.8 704.8,1024.9 705.1,1019.1 705.4,1024.2 705.7,1011.2 706.0,1020.0 706.3,1007.0 706.6,1000.6 706.9,997.3 707.2,1008.8 707.5,1008.9 707.8,1001.4 708.1,978.8 708.4,994.4 708.7,1009.1 709.0,1017.3 709.3,1008.6 709.6,1005.5 709.9,991.2 710.2,1034.4 710.5,1003.1 710.8,1030.8 711.1,1029.5 711.4,1016.5 711.7,1007.9 712.0,1014.8 712.3,1001.8 712.6,1015.7 712.9,1013.0 713.2,1018.1 713.5,1022.2 713.8,1029.8 714.1,1008.5 714.4,1022.7 714.7,1004.3 715.0,1003.2 715.3,1010.3 715.6,1002.2 715.9,1021.7 716.2,1021.1 716.5,1024.5 716.8,1011.6 717.1,1014.5 717.4,1005.9 717.7,1000.2 718.0,1016.0 718.3,1014.1 718.6,1000.2 718.9,1016.9 719.2,993.6 719.5,1008.9 719.8,1004.2 720.1,1005.0 720.4,981.6 720.7,1019.1 721.0,1014.9 721.3,1020.7 721.6,1009.8 721.9,995.3 722.2,1004.0 722.5,995.5 722.8,1011.4 723.1,1018.4 723.4,1009.2 723.7,999.6 724.0,1001.5 724.3,1006.8 724.6,990.1 724.9,1005.6 725.2,1023.5 725.5,998.1 725.8,999.1 726.1,1004.7 726.4,994.7 726.7,994.5 727.0,1010.2 727.3,1004.6 727.6,1018.9 727.9,992.5 728.2,984.7 728.5,1011.6 728.8,1011.8 729.1,967.9 729.4,988.0 729.7,1002.2 730.0,985.5 730.3,999.5 730.6,981.5 730.9,1000.8 731.2,982.4 731.5,1001.2 731.8,1018.6 732.1,1001.2 732.4,1011.5 732.7,981.3 733.0,995.2 733.3,989.3 733.6,1014.2 733.9,1003.4 734.2,1019.8 734.5,992.1 734.8,1001.3 735.1,1004.0 735.4,1016.8 735.7,1026.1 736.0,995.8 736.3,990.5 736.6,984.1 736.9,1013.8 737.2,999.3 737.5,993.2 737.8,998.4 738.1,973.1 738.4,980.6 738.7,1006.1 739.0,1000.1 739.3,999.1 739.6,985.1 739.9,1000.0 740.2,1011.1 740.5,993.0 740.8,992.5 741.1,987.6 741.4,994.9 741.7,990.9 742.0,988.8 742.3,981.2 742.6,989.3 742.9,983.0 743.2,987.2 743.5,987.6 743.8,994.3 744.1,981.9 744.4,984.2 744.7,997.6 745.0,984.6 745.3,984.0 745.6,994.8 745.9,988.8 746.2,986.8 746.5,987.8 746.8,973.3 747.1,989.8 747.4,998.1 747.7,990.7 748.0,969.7 748.3,966.7 748.6,975.9 748.9,982.5 749.2,986.0 749.5,973.0 749.8,997.8 750.1,984.1 750.4,992.6 750.7,991.2 751.0,998.2 751.3,996.9 751.6,971.0 751.9,986.0 752.2,965.0 752.5,974.5 752.8,993.1 753.1,995.3 753.4,999.1 753.7,983.0 754.0,989.9 754.3,987.8 754.6,999.3 754.9,1002.5 755.2,983.6 755.5,1023.8 755.8,986.9 756.1,983.3 756.4,992.5 756.7,993.9 757.0,991.7 757.3,979.9 757.6,1000.2 757.9,986.2 758.2,1000.3 758.5,998.6 758.8,972.6 759.1,975.1 759.4,974.6 759.7,990.8 760.0,984.3 760.3,986.0 760.6,975.4 760.9,987.1 761.2,996.2 761.5,969.7 761.8,980.5 762.1,984.5 762.4,980.8 762.7,980.0 763.0,998.6 763.3,993.8 763.6,989.6 763.9,974.1 764.2,1002.5 764.5,984.5 764.8,975.4 765.1,977.5 765.4,975.9 765.7,1000.5 766.0,982.1 766.3,980.6 766.6,959.4 766.9,986.5 767.2,965.5 767.5,968.3 767.8,984.4 768.1,970.3 768.4,986.0 768.7,994.2 769.0,960.6 769.3,975.8 769.6,962.0 769.9,975.8 770.2,984.5 770.5,963.0 770.8,992.1 771.1,972.1 771.4,963.6 771.7,973.1 772.0,981.2 772.3,960.7 772.6,973.1 772.9,960.0 773.2,983.4 773.5,973.3 773.8,967.5 774.1,980.5 774.4,958.7 774.7,966.4 775.0,986.4 775.3,967.9 775.6,980.8 775.9,969.7 776.2,961.2 776.5,964.6 776.8,966.9 777.1,962.0 777.4,957.8 777.7,957.5 778.0,950.8 778.3,964.0 778.6,965.7 778.9,968.1 779.2,945.6 779.5,967.2 779.8,959.5 780.1,947.0 780.4,959.1 780.7,964.5 781.0,961.3 781.3,962.4 781.6,963.5 781.9,962.4 782.2,954.1 782.5,936.7 782.8,946.9 783.1,955.4 783.4,948.1 783.7,956.8 784.0,957.1 784.3,950.4 784.6,964.5 784.9,940.9 785.2,955.6 785.5,943.7 785.8,940.6 786.1,950.8 786.4,940.6 786.7,951.3 787.0,934.8 787.3,943.3 787.6,935.7 787.9,939.5 788.2,937.5 788.5,930.9 788.8,943.1 789.1,928.1 789.4,928.9 789.7,941.2 790.0,940.5 790.3,936.9 790.6,933.2 790.9,945.1 791.2,919.8 791.5,921.5 791.8,918.3 792.1,928.7 792.4,922.9 792.7,926.0 793.0,923.1 793.3,913.9 793.6,908.3 793.9,905.2 794.2,921.3 794.5,911.9 794.8,907.5 795.1,900.0 795.4,898.4 795.7,895.2 796.0,892.9 796.3,879.3 796.6,889.5 796.9,885.3 797.2,886.4 797.5,883.5 797.8,884.2 798.1,877.1 798.4,878.5 798.7,859.0 799.0,863.5 799.3,874.4 799.6,857.2 799.9,858.8 800.2,860.4 800.5,849.9 800.8,854.2 801.1,841.2 801.4,835.8 801.7,835.3 802.0,830.7 802.3,834.7 802.6,830.1 802.9,829.7 803.2,820.4 803.5,832.1 803.8,817.5 804.1,813.7 804.4,811.8 804.7,805.0 805.0,799.3 805.3,797.9 805.6,796.9 805.9,791.7 806.2,788.5 806.5,778.5 806.8,773.5 807.1,780.3 807.4,767.4 807.7,766.4 808.0,763.8 808.3,763.2 808.6,747.6 808.9,748.2 809.2,745.3 809.5,742.7 809.8,730.1 810.1,736.8 810.4,721.2 810.7,731.6 811.0,729.2 811.3,726.3 811.6,714.7 811.9,722.1 812.2,710.2 812.5,705.5 812.8,704.3 813.1,702.9 813.4,708.4 813.7,713.4 814.0,683.9 814.3,701.6 814.6,713.5 814.9,709.6 815.2,713.0 815.5,704.2 815.8,712.7 816.1,710.1 816.4,721.5 816.7,719.1 817.0,735.6 817.3,732.9 817.6,738.0 817.9,734.9 818.2,738.8 818.5,749.5 818.8,747.1 819.1,749.2 819.4,745.6 819.7,756.1 820.0,761.3 820.3,757.1 820.6,761.4 820.9,774.3 821.2,770.4 821.5,771.0 821.8,769.9 822.1,775.2 822.4,779.9 822.7,790.5 823.0,784.0 823.3,798.4 823.6,788.3 823.9,794.0 824.2,802.6 824.5,800.4 824.8,800.5 825.1,806.7 825.4,812.4 825.7,805.3 826.0,815.2 826.3,818.9 826.6,820.7 826.9,829.1 827.2,826.2 827.5,830.2 827.8,835.2 828.1,841.5 828.4,840.2 828.7,851.4 829.0,843.0 829.3,856.3 829.6,849.0 829.9,855.2 830.2,860.6 830.5,871.7 830.8,868.7 831.1,864.7 831.4,875.9 831.7,870.8 832.0,870.4 832.3,879.2 832.6,879.9 832.9,886.9 833.2,881.5 833.5,888.8 833.8,892.5 834.1,893.0 834.4,893.7 834.7,892.3 835.0,903.3 835.3,901.2 835.6,905.3 835.9,902.5 836.2,906.6 836.5,902.2 836.8,910.7 837.1,916.7 837.4,914.3 837.7,920.8 838.0,919.1 838.3,927.5 838.6,919.3 838.9,911.7 839.2,926.6 839.5,924.3 839.8,920.6 840.1,932.8 840.4,931.8 840.7,934.5 841.0,925.3 841.3,935.7 841.6,937.5 841.9,949.3 842.2,933.8 842.5,939.8 842.8,943.7 843.1,930.4 843.4,932.4 843.7,960.5 844.0,933.6 844.3,951.7 844.6,942.6 844.9,944.3 845.2,936.6 845.5,945.7 845.8,959.3 846.1,944.6 846.4,960.4 846.7,959.6 847.0,973.4 847.3,956.2 847.6,970.2 847.9,968.7 848.2,961.0 848.5,951.7 848.8,976.9 849.1,956.0 849.4,951.6 849.7,975.4 850.0,978.3 850.3,963.6 850.6,971.0 850.9,970.0 851.2,982.6 851.5,994.6 851.8,958.6 852.1,982.7 852.4,928.4 852.7,975.9 853.0,966.0 853.3,994.8 853.6,978.4 853.9,970.4 854.2,972.9 854.5,972.5 854.8,979.8 855.1,976.8 855.4,984.7 855.7,993.3 856.0,985.6 856.3,967.7 856.6,971.0 856.9,972.5 857.2,989.8 857.5,976.8 857.8,973.8 858.1,994.4 858.4,967.0 858.7,969.8 859.0,985.8 859.3,978.2 859.6,976.9 859.9,984.6 860.2,976.1 860.5,973.1 860.8,977.7 861.1,988.3 861.4,983.2 861.7,971.2 862.0,980.1 862.3,989.7 862.6,1001.9 862.9,972.6 863.2,987.4 863.5,981.8 863.8,992.7 864.1,989.2 864.4,999.5 864.7,990.4 865.0,999.3 865.3,980.4 865.6,990.0 865.9,990.1 866.2,1010.1 866.5,1003.2 866.8,993.6 867.1,997.3 867.4,973.9 867.7,970.8 868.0,994.9 868.3,993.1 868.6,977.5 868.9,1004.3 869.2,978.4 869.5,976.7 869.8,995.0 870.1,990.8 870.4,987.3 870.7,988.4 871.0,991.5 871.3,988.1 871.6,987.9 871.9,971.0 872.2,976.7 872.5,996.5 872.8,983.6 873.1,996.4 873.4,1003.6 873.7,988.0 874.0,994.7 874.3,1013.1 874.6,999.6 874.9,1011.4 875.2,1008.7 875.5,1001.2 875.8,966.7 876.1,985.9 876.4,983.5 876.7,999.9 877.0,1000.1 877.3,990.5 877.6,1004.5 877.9,1010.7 878.2,1007.6 878.5,997.0 878.8,996.4 879.1,996.9 879.4,996.1 879.7,1022.3 880.0,980.9 880.3,999.1 880.6,1009.9 880.9,1004.5 881.2,987.0 881.5,1014.8 881.8,986.3 882.1,983.8 882.4,1002.7 882.7,982.0 883.0,972.5 883.3,1005.5 883.6,1004.0 883.9,1003.6 884.2,991.0 884.5,997.5 884.8,985.6 885.1,1012.8 885.4,1015.6 885.7,1002.2 886.0,974.5 886.3,1011.6 886.6,1008.9 886.9,1005.8 887.2,1001.2 887.5,992.9 887.8,989.1 888.1,998.4 888.4,995.9 888.7,994.1 889.0,988.3 889.3,1008.2 889.6,979.1 889.9,990.5 890.2,984.7 890.5,1000.9 890.8,1004.8 891.1,1002.8 891.4,997.7 891.7,975.8 892.0,1011.1 892.3,995.2 892.6,988.9 892.9,990.3 893.2,986.7 893.5,994.6 893.8,993.6 894.1,987.0 894.4,964.7 894.7,990.6 895.0,996.1 895.3,996.9 895.6,990.2 895.9,996.7 896.2,1002.9 896.5,988.0 896.8,1008.0 897.1,973.7 897.4,981.2 897.7,985.3 898.0,970.1 898.3,985.3 898.6,1008.6 898.9,1009.1 899.2,998.0 899.5,1015.1 899.8,1000.6 900.1,993.7 900.4,993.0 900.7,998.5 901.0,1007.9 901.3,985.8 901.6,1004.1 901.9,997.5 902.2,1011.4 902.5,987.6 902.8,999.5 903.1,1005.1 903.4,1013.9 903.7,992.7 904.0,1022.4 904.3,1010.7 904.6,1000.7 904.9,1018.7 905.2,1007.5 905.5,1018.4 905.8,1030.3 906.1,1014.6 906.4,1001.4 906.7,1002.4 907.0,1016.3 907.3,1009.4 907.6,997.8 907.9,999.3 908.2,1012.6 908.5,1029.4 908.8,978.5 909.1,1012.3 909.4,1002.5 909.7,1012.2 910.0,1012.7 910.3,1004.1 910.6,992.8 910.9,988.6 911.2,983.4 911.5,1014.5 911.8,999.6 912.1,995.9 912.4,998.3 912.7,987.2 913.0,1003.7 913.3,1013.8 913.6,1011.8 913.9,984.1 914.2,1013.8 914.5,992.0 914.8,980.3 915.1,987.2 915.4,989.9 915.7,999.8 916.0,989.4 916.3,984.7 916.6,997.6 916.9,1020.2 917.2,993.6 917.5,1005.9 917.8,1002.3 918.1,1029.0 918.4,982.9 918.7,1013.9 919.0,990.0 919.3,997.5 919.6,1003.1 919.9,1037.1 920.2,997.2 920.5,986.2 920.8,999.5 921.1,997.9 921.4,1004.4 921.7,1007.1 922.0,1008.8 922.3,1006.5 922.6,1011.3 922.9,1012.9 923.2,1018.0 923.5,1005.2 923.8,1002.2 924.1,999.3 924.4,1016.5 924.7,1010.2 925.0,1016.6 925.3,1016.6 925.6,1028.6 925.9,1013.6 926.2,1019.4 926.5,999.5 926.8,1000.9 927.1,1009.0 927.4,999.8 927.7,1019.6 928.0,1001.4 928.3,1013.6 928.6,987.7 928.9,1001.8 929.2,1009.9 929.5,1011.9 929.8,995.3 930.1,1015.0 930.4,1024.1 930.7,1020.9 931.0,1007.5 931.3,999.0 931.6,1002.3 931.9,1021.1 932.2,1029.5 932.5,1001.5 932.8,997.1 933.1,1016.7 933.4,1021.9 933.7,986.3 934.0,1015.8 934.3,1017.4 934.6,1022.6 934.9,1019.7 935.2,1018.0 935.5,1024.6 935.8,977.7 936.1,1004.4 936.4,1017.2 936.7,1005.6 937.0,1015.2 937.3,992.4 937.6,1019.9 937.9,1020.5 938.2,1011.9 938.5,1012.9 938.8,1011.8 939.1,999.4 939.4,1001.0 939.7,998.9 940.0,1005.6 940.3,999.3 940.6,1009.9 940.9,1002.5 941.2,994.0 941.5,992.7 941.8,1021.3 942.1,1007.8 942.4,1005.9 942.7,1008.3 943.0,1007.0 943.3,1015.6 943.6,1013.4 943.9,1001.1 944.2,998.5 944.5,995.6 944.8,993.7 945.1,1021.4 945.4,996.9 945.7,1019.3 946.0,997.4 946.3,997.8 946.6,1009.5 946.9,996.6 947.2,1011.4 947.5,1009.7 947.8,1018.9 948.1,1028.2 948.4,1035.2 948.7,1019.5 949.0,993.4 949.3,1001.2 949.6,1008.0 949.9,1026.9 950.2,1012.5 950.5,1018.1 950.8,1003.9 951.1,1011.9 951.4,1013.4 951.7,1001.4 952.0,1014.4 952.3,1017.6 952.6,1005.1 952.9,1017.5 953.2,1024.2 953.5,1008.2 953.8,1007.8 954.1,1004.9 954.4,1002.0 954.7,1010.2 955.0,1004.7 955.3,1006.0 955.6,1001.5 955.9,993.9 956.2,1000.3 956.5,1013.5 956.8,998.2 957.1,1003.8 957.4,1027.3 957.7,1022.1 958.0,1003.6 958.3,1016.8 958.6,1004.0 958.9,1027.1 959.2,1004.5 959.5,1011.2 959.8,1023.9 960.1,1001.5 960.4,1023.0 960.7,1001.1 961.0,1011.6 961.3,1005.9 961.6,1007.7 961.9,1009.8 962.2,1007.4 962.5,997.2 962.8,1015.9 963.1,1014.0 963.4,1019.4 963.7,1019.9 964.0,991.9 964.3,1018.1 964.6,1017.9 964.9,999.1 965.2,1008.1 965.5,1018.6 965.8,998.0 966.1,989.2 966.4,999.1 966.7,1030.6 967.0,1004.5 967.3,989.6 967.6,998.9 967.9,991.2 968.2,996.9 968.5,1001.5 968.8,974.5 969.1,1003.6 969.4,1013.9 969.7,997.3 970.0,995.1 970.3,1014.9 970.6,985.6 970.9,985.5 971.2,983.7 971.5,995.8 971.8,1001.1 972.1,1016.0 972.4,994.5 972.7,1004.6 973.0,1001.0 973.3,987.6 973.6,992.8 973.9,1007.9 974.2,984.7 974.5,992.5 974.8,990.7 975.1,993.0 975.4,984.0 975.7,981.2 976.0,1020.4 976.3,1004.3 976.6,987.7 976.9,994.3 977.2,1001.8 977.5,991.7 977.8,1001.5 978.1,989.3 978.4,992.0 978.7,995.0 979.0,991.4 979.3,971.6 979.6,996.6 979.9,999.2 980.2,1001.5 980.5,986.9 980.8,1000.5 981.1,999.3 981.4,979.5 981.7,975.3 982.0,1002.3 982.3,987.9 982.6,1007.6 982.9,1019.0 983.2,991.6 983.5,990.5 983.8,997.2 984.1,1004.0 984.4,985.6 984.7,1009.4 985.0,1006.6 985.3,1003.1 985.6,990.7 985.9,1005.1 986.2,1004.2 986.5,983.2 986.8,1016.0 987.1,991.5 987.4,997.9 987.7,988.6 988.0,997.4 988.3,1004.9 988.6,984.7 988.9,975.8 989.2,987.6 989.5,978.6 989.8,983.9 990.1,990.0 990.4,990.4 990.7,1003.8 991.0,980.3 991.3,993.9 991.6,985.1 991.9,1003.9 992.2,1015.6 992.5,992.9 992.8,1006.8 993.1,984.4 993.4,973.5 993.7,976.8 994.0,973.7 994.3,980.1 994.6,987.5 994.9,1001.7 995.2,997.2 995.5,994.9 995.8,986.0 996.1,983.1 996.4,991.0 996.7,992.2 997.0,988.2 997.3,995.0 997.6,990.2 997.9,972.0 998.2,980.5 998.5,983.7 998.8,1009.8 999.1,988.3 999.4,1000.0 999.7,1008.4 1000.0,997.1 1000.3,989.9 1000.6,991.2 1000.9,984.0 1001.2,998.0 1001.5,1006.8 1001.8,1009.2 1002.1,1008.0 1002.4,1003.4 1002.7,1026.0 1003.0,989.9 1003.3,998.2 1003.6,1004.1 1003.9,1009.8 1004.2,940.4 1004.5,991.6 1004.8,994.8 1005.1,975.3 1005.4,1005.7 1005.7,999.0 1006.0,992.4 1006.3,979.3 1006.6,982.3 1006.9,985.6 1007.2,1000.4 1007.5,982.5 1007.8,973.3 1008.1,979.4 1008.4,988.2 1008.7,1011.6 1009.0,1020.0 1009.3,988.3 1009.6,1003.0 1009.9,1007.5 1010.2,1006.0 1010.5,991.0 1010.8,978.4 1011.1,986.7 1011.4,972.1 1011.7,994.0 1012.0,999.6 1012.3,971.5 1012.6,990.7 1012.9,994.3 1013.2,1004.4 1013.5,1005.7 1013.8,999.8 1014.1,984.3 1014.4,987.7 1014.7,1004.2 1015.0,985.4 1015.3,991.4 1015.6,1008.3 1015.9,993.4 1016.2,977.9 1016.5,989.3 1016.8,999.2 1017.1,990.6 1017.4,1004.8 1017.7,1006.2 1018.0,986.1 1018.3,987.7 1018.6,991.9 1018.9,980.5 1019.2,997.1 1019.5,991.3 1019.8,1001.4 1020.1,986.9 1020.4,984.0 1020.7,1012.4 1021.0,984.0 1021.3,987.0 1021.6,985.5 1021.9,989.9 1022.2,983.5 1022.5,992.6 1022.8,985.7 1023.1,988.7 1023.4,996.9 1023.7,1000.4 1024.0,998.0 1024.3,985.4 1024.6,997.3 1024.9,991.9 1025.2,992.1 1025.5,975.3 1025.8,1000.3 1026.1,1021.0 1026.4,1011.2 1026.7,1000.1 1027.0,981.8 1027.3,979.3 1027.6,995.0 1027.9,984.5 1028.2,1000.8 1028.5,990.6 1028.8,1015.7 1029.1,994.7 1029.4,1009.8 1029.7,1007.9 1030.0,989.3 1030.3,990.8 1030.6,1009.8 1030.9,994.4 1031.2,994.1 1031.5,1007.2 1031.8,1021.7 1032.1,994.6 1032.4,1009.8 1032.7,993.8 1033.0,1009.9 1033.3,993.5 1033.6,1010.2 1033.9,1002.3 1034.2,995.1 1034.5,999.8 1034.8,992.0 1035.1,986.3 1035.4,987.4 1035.7,998.2 1036.0,988.2 1036.3,1004.1 1036.6,1005.4 1036.9,1005.2 1037.2,995.5 1037.5,1001.6 1037.8,1001.0 1038.1,1015.3 1038.4,993.4 1038.7,998.1 1039.0,999.9 1039.3,1001.0 1039.6,994.9 1039.9,996.3 1040.2,1013.5 1040.5,996.4 1040.8,1012.7 1041.1,1024.4 1041.4,1016.5 1041.7,984.4 1042.0,1011.3 1042.3,1008.2 1042.6,1008.9 1042.9,986.2 1043.2,1011.0 1043.5,1010.5 1043.8,1016.5 1044.1,1014.1 1044.4,1029.4 1044.7,998.7 1045.0,986.8 1045.3,1013.4 1045.6,1011.5 1045.9,998.2 1046.2,1016.2 1046.5,1020.2 1046.8,988.3 1047.1,1008.4 1047.4,996.7 1047.7,1000.0 1048.0,1002.9 1048.3,993.4 1048.6,998.3 1048.9,1006.2 1049.2,999.1 1049.5,996.7 1049.8,996.1 1050.1,997.9 1050.4,969.5 1050.7,1000.1 1051.0,987.4 1051.3,998.9 1051.6,982.2 1051.9,1006.8 1052.2,999.4 1052.5,982.6 1052.8,998.9 1053.1,988.2 1053.4,1014.7 1053.7,967.5 1054.0,987.1 1054.3,997.6 1054.6,994.7 1054.9,1007.3 1055.2,998.4 1055.5,999.9 1055.8,982.8 1056.1,1002.6 1056.4,1013.1 1056.7,1000.8 1057.0,993.6 1057.3,995.7 1057.6,984.0 1057.9,995.8 1058.2,982.4 1058.5,994.3 1058.8,989.8 1059.1,994.9 1059.4,999.9 1059.7,978.3 1060.0,993.4 1060.3,980.0 1060.6,1013.0 1060.9,1014.4 1061.2,1002.6 1061.5,1013.5 1061.8,999.8 1062.1,999.2 1062.4,988.9 1062.7,983.9 1063.0,994.5 1063.3,987.4 1063.6,988.3 1063.9,1001.7 1064.2,991.2 1064.5,976.0 1064.8,989.9 1065.1,984.1 1065.4,988.9 1065.7,980.3 1066.0,1004.3 1066.3,1011.6 1066.6,984.8 1066.9,998.4 1067.2,997.9 1067.5,980.4 1067.8,992.8 1068.1,1006.7 1068.4,1000.9 1068.7,1009.2 1069.0,980.2 1069.3,985.0 1069.6,996.1 1069.9,997.1 1070.2,994.0 1070.5,990.1 1070.8,990.2 1071.1,988.5 1071.4,1000.0 1071.7,958.6 1072.0,1012.8 1072.3,991.0 1072.6,982.0 1072.9,993.8 1073.2,983.1 1073.5,1002.2 1073.8,994.3 1074.1,1005.0 1074.4,1007.5 1074.7,1009.1 1075.0,994.7 1075.3,997.2 1075.6,1000.3 1075.9,986.1 1076.2,1007.1 1076.5,1010.2 1076.8,987.5 1077.1,1014.1 1077.4,1015.8 1077.7,988.2 1078.0,1046.7 1078.3,1014.8 1078.6,1010.5 1078.9,991.7 1079.2,987.4 1079.5,1000.5 1079.8,996.5 1080.1,1001.3 1080.4,1000.2 1080.7,1006.5 1081.0,995.1 1081.3,998.9 1081.6,1032.0 1081.9,998.6 1082.2,1007.2 1082.5,1002.3 1082.8,1001.3 1083.1,984.5 1083.4,1003.8 1083.7,997.5 1084.0,1006.1 1084.3,1018.5 1084.6,999.1 1084.9,1004.8 1085.2,986.4 1085.5,997.9 1085.8,1012.5 1086.1,995.9 1086.4,990.0 1086.7,998.6 1087.0,994.6 1087.3,996.4 1087.6,992.8 1087.9,1017.0 1088.2,988.0 1088.5,992.8 1088.8,991.4 1089.1,1019.7 1089.4,994.7 1089.7,1011.0 1090.0,999.5 1090.3,997.7 1090.6,983.2 1090.9,1010.6 1091.2,1003.9 1091.5,1002.5 1091.8,997.2 1092.1,994.2 1092.4,991.6 1092.7,1008.0 1093.0,1001.1 1093.3,994.6 1093.6,991.7 1093.9,999.1 1094.2,996.8 1094.5,1014.2 1094.8,1005.1 1095.1,990.9 1095.4,985.4 1095.7,994.5 1096.0,986.7 1096.3,996.4 1096.6,999.3 1096.9,1001.3 1097.2,998.6 1097.5,992.0 1097.8,999.6 1098.1,984.0 1098.4,991.8 1098.7,1000.4 1099.0,994.5 1099.3,968.6 1099.6,978.9 1099.9,973.7 1100.2,1008.1 1100.5,973.5 1100.8,987.4 1101.1,1007.2 1101.4,999.0 1101.7,997.0 1102.0,982.3 1102.3,994.6 1102.6,1017.8 1102.9,986.1 1103.2,990.4 1103.5,982.8 1103.8,985.7 1104.1,989.5 1104.4,999.8 1104.7,976.3 1105.0,970.8 1105.3,985.6 1105.6,987.4 1105.9,999.7 1106.2,992.6 1106.5,978.9 1106.8,991.1 1107.1,996.7 1107.4,988.2 1107.7,981.8 1108.0,992.2 1108.3,981.7 1108.6,966.1 1108.9,998.9 1109.2,972.0 1109.5,995.3 1109.8,981.9 1110.1,981.7 1110.4,982.2 1110.7,970.2 1111.0,1005.0 1111.3,985.2 1111.6,985.3 1111.9,995.8 1112.2,996.1 1112.5,998.5 1112.8,1003.7 1113.1,974.0 1113.4,981.7 1113.7,986.8 1114.0,984.8 1114.3,970.6 1114.6,978.5 1114.9,975.6 1115.2,993.2 1115.5,995.1 1115.8,1005.8 1116.1,990.9 1116.4,983.7 1116.7,981.6 1117.0,992.9 1117.3,985.4 1117.6,980.3 1117.9,994.3 1118.2,965.7 1118.5,980.4 1118.8,982.2 1119.1,972.3 1119.4,988.9 1119.7,989.9 1120.0,980.9 1120.3,985.4 1120.6,994.3 1120.9,998.3 1121.2,979.3 1121.5,990.7 1121.8,998.0 1122.1,986.7 1122.4,978.9 1122.7,978.8 1123.0,983.4 1123.3,975.8 1123.6,1007.7 1123.9,980.5 1124.2,990.4 1124.5,988.3 1124.8,993.1 1125.1,982.3 1125.4,972.8 1125.7,1003.7 1126.0,985.8 1126.3,987.9 1126.6,989.0 1126.9,1014.9 1127.2,995.4 1127.5,999.8 1127.8,996.3 1128.1,989.6 1128.4,990.9 1128.7,980.6 1129.0,968.1 1129.3,986.4 1129.6,977.8 1129.9,1016.5 1130.2,1005.8 1130.5,1001.8 1130.8,983.8 1131.1,1011.2 1131.4,971.7 1131.7,976.8 1132.0,981.2 1132.3,979.2 1132.6,990.5 1132.9,990.9 1133.2,1008.7 1133.5,998.8 1133.8,1000.9 1134.1,992.2 1134.4,988.7 1134.7,980.0 1135.0,971.1 1135.3,977.5 1135.6,982.4 1135.9,1017.0 1136.2,968.3 1136.5,971.4 1136.8,988.0 1137.1,974.5 1137.4,989.0 1137.7,981.1 1138.0,977.6 1138.3,971.5 1138.6,984.6 1138.9,978.0 1139.2,979.4 1139.5,948.7 1139.8,988.2 1140.1,988.0 1140.4,968.7 1140.7,985.2 1141.0,991.4 1141.3,998.4 1141.6,996.1 1141.9,990.4 1142.2,976.5 1142.5,980.7 1142.8,998.7 1143.1,982.0 1143.4,1000.5 1143.7,1003.3 1144.0,979.1 1144.3,995.1 1144.6,989.5 1144.9,1012.1 1145.2,999.8 1145.5,985.8 1145.8,995.5 1146.1,981.7 1146.4,984.5 1146.7,993.5 1147.0,992.9 1147.3,994.5 1147.6,981.7 1147.9,971.6 1148.2,987.1 1148.5,981.4 1148.8,1003.7 1149.1,1012.8 1149.4,1002.3 1149.7,988.0 1150.0,968.1 1150.3,975.6 1150.6,992.7 1150.9,999.8 1151.2,985.2 1151.5,989.4 1151.8,990.3 1152.1,998.6 1152.4,967.3 1152.7,988.5 1153.0,990.8 1153.3,996.3 1153.6,992.2 1153.9,974.4 1154.2,979.7 1154.5,969.7 1154.8,987.7 1155.1,974.3 1155.4,991.0 1155.7,975.5 1156.0,973.7 1156.3,1001.8 1156.6,987.8 1156.9,1004.4 1157.2,990.8 1157.5,971.0 1157.8,995.0 1158.1,999.7 1158.4,982.2 1158.7,967.0 1159.0,994.4 1159.3,986.2 1159.6,990.8 1159.9,959.9 1160.2,993.0 1160.5,959.5 1160.8,1000.3 1161.1,970.5 1161.4,969.4 1161.7,969.0 1162.0,983.9 1162.3,1005.8 1162.6,1005.4 1162.9,981.9 1163.2,998.6 1163.5,994.0 1163.8,990.4 1164.1,991.1 1164.4,979.4 1164.7,995.1 1165.0,997.5 1165.3,1014.3 1165.6,995.2 1165.9,959.4 1166.2,972.1 1166.5,987.8 1166.8,984.7 1167.1,964.0 1167.4,981.7 1167.7,979.1 1168.0,982.0 1168.3,980.9 1168.6,991.6 1168.9,997.1 1169.2,988.7 1169.5,969.7 1169.8,972.1 1170.1,974.2 1170.4,980.5 1170.7,976.6 1171.0,977.5 1171.3,935.3 1171.6,991.4 1171.9,990.5 1172.2,991.8 1172.5,981.2 1172.8,987.2 1173.1,973.2 1173.4,972.5 1173.7,977.9 1174.0,990.2 1174.3,983.0 1174.6,973.1 1174.9,986.6 1175.2,990.6 1175.5,988.5 1175.8,980.4 1176.1,988.6 1176.4,984.1 1176.7,985.7 1177.0,988.8 1177.3,998.2 1177.6,1010.0 1177.9,1007.7 1178.2,998.4 1178.5,988.1 1178.8,989.4 1179.1,990.2 1179.4,1005.4 1179.7,964.6 1180.0,996.5 1180.3,973.1 1180.6,994.1 1180.9,1008.1 1181.2,987.2 1181.5,970.2 1181.8,1007.6 1182.1,1009.7 1182.4,998.9 1182.7,1006.6 1183.0,984.7 1183.3,1005.2 1183.6,1016.2 1183.9,998.9 1184.2,994.7 1184.5,1004.8 1184.8,1002.8 1185.1,982.6 1185.4,1004.2 1185.7,997.3 1186.0,990.7 1186.3,1002.3 1186.6,997.9 1186.9,995.5 1187.2,982.0 1187.5,995.6 1187.8,974.9 1188.1,984.8 1188.4,968.1 1188.7,967.7 1189.0,989.9 1189.3,984.2 1189.6,985.8 1189.9,990.9 1190.2,988.3 1190.5,975.3 1190.8,985.3 1191.1,983.8 1191.4,979.1 1191.7,983.3 1192.0,980.9 1192.3,978.1 1192.6,981.5 1192.9,987.7 1193.2,1006.9 1193.5,977.1 1193.8,991.3 1194.1,961.9 1194.4,1003.0 1194.7,983.2 1195.0,988.5 1195.3,1000.7 1195.6,998.0 1195.9,972.5 1196.2,994.1 1196.5,986.2 1196.8,995.4 1197.1,963.0 1197.4,997.2 1197.7,992.9 1198.0,988.7 1198.3,1002.7 1198.6,974.6 1198.9,986.4 1199.2,981.2 1199.5,989.9 1199.8,987.2 1200.1,990.3 1200.4,990.3 1200.7,987.3 1201.0,975.2 1201.3,992.0 1201.6,995.7 1201.9,986.3 1202.2,985.7 1202.5,985.8 1202.8,1010.0 1203.1,994.4 1203.4,996.4 1203.7,989.1 1204.0,986.9 1204.3,982.8 1204.6,1007.8 1204.9,973.9 1205.2,994.4 1205.5,990.8 1205.8,988.2 1206.1,974.4 1206.4,977.6 1206.7,1000.4 1207.0,982.8 1207.3,998.9 1207.6,996.6 1207.9,995.4 1208.2,996.3 1208.5,976.6 1208.8,984.1 1209.1,996.0 1209.4,975.8 1209.7,1006.1 1210.0,983.0 1210.3,988.1 1210.6,978.1 1210.9,992.5 1211.2,981.1 1211.5,986.2 1211.8,976.8 1212.1,1000.9 1212.4,971.6 1212.7,993.0 1213.0,990.7 1213.3,992.6 1213.6,977.3 1213.9,998.3 1214.2,997.3 1214.5,988.7 1214.8,989.9 1215.1,984.7 1215.4,992.5 1215.7,976.9 1216.0,990.6 1216.3,988.6 1216.6,969.3 1216.9,956.1 1217.2,981.5 1217.5,980.5 1217.8,994.2 1218.1,981.6 1218.4,975.3 1218.7,965.8 1219.0,978.5 1219.3,972.8 1219.6,967.0 1219.9,976.7 1220.2,988.5 1220.5,978.1 1220.8,966.0 1221.1,978.9 1221.4,964.9 1221.7,959.7 1222.0,980.9 1222.3,970.0 1222.6,987.1 1222.9,978.7 1223.2,967.1 1223.5,977.7 1223.8,988.8 1224.1,973.5 1224.4,964.6 1224.7,968.8 1225.0,967.4 1225.3,963.8 1225.6,962.8 1225.9,980.8 1226.2,988.1 1226.5,973.1 1226.8,985.3 1227.1,986.8 1227.4,995.2 1227.7,976.1 1228.0,974.8 1228.3,983.1 1228.6,980.1 1228.9,982.6 1229.2,993.3 1229.5,975.9 1229.8,982.9 1230.1,970.9 1230.4,979.8 1230.7,974.8 1231.0,974.3 1231.3,980.3 1231.6,978.3 1231.9,987.1 1232.2,991.9 1232.5,968.4 1232.8,994.5 1233.1,961.3 1233.4,987.1 1233.7,992.1 1234.0,978.1 1234.3,982.6 1234.6,977.0 1234.9,994.5 1235.2,952.4 1235.5,975.3 1235.8,965.3 1236.1,987.3 1236.4,998.7 1236.7,997.6 1237.0,992.1 1237.3,987.6 1237.6,977.0 1237.9,997.4 1238.2,991.1 1238.5,975.7 1238.8,971.0 1239.1,977.5 1239.4,994.9 1239.7,996.4 1240.0,999.8 1240.3,974.7 1240.6,978.6 1240.9,996.3 1241.2,983.8 1241.5,989.0 1241.8,966.9 1242.1,976.2 1242.4,979.4 1242.7,975.3 1243.0,974.1 1243.3,960.9 1243.6,994.2 1243.9,978.3 1244.2,961.2 1244.5,986.9 1244.8,964.8 1245.1,982.3 1245.4,961.9 1245.7,966.0 1246.0,965.9 1246.3,977.1 1246.6,981.3 1246.9,978.2 1247.2,979.7 1247.5,985.5 1247.8,976.0 1248.1,983.5 1248.4,984.7 1248.7,976.4 1249.0,972.9 1249.3,969.5 1249.6,961.8 1249.9,958.5 1250.2,988.8 1250.5,975.5 1250.8,970.4 1251.1,993.0 1251.4,987.3 1251.7,978.4 1252.0,988.8 1252.3,977.0 1252.6,983.3 1252.9,999.1 1253.2,991.7 1253.5,978.4 1253.8,989.0 1254.1,994.6 1254.4,981.7 1254.7,979.0 1255.0,1003.3 1255.3,981.2 1255.6,971.0 1255.9,986.6 1256.2,1009.3 1256.5,992.4 1256.8,996.1 1257.1,963.9 1257.4,980.9 1257.7,999.5 1258.0,982.9 1258.3,1000.9 1258.6,992.2 1258.9,991.4 1259.2,1004.7 1259.5,981.9 1259.8,982.2 1260.1,988.0 1260.4,989.0 1260.7,968.8 1261.0,999.0 1261.3,988.3 1261.6,983.8 1261.9,1007.4 1262.2,980.7 1262.5,996.9 1262.8,984.6 1263.1,990.9 1263.4,973.7 1263.7,979.4 1264.0,985.6 1264.3,971.4 1264.6,973.8 1264.9,979.5 1265.2,991.0 1265.5,986.8 1265.8,987.7 1266.1,980.9 1266.4,986.7 1266.7,992.8 1267.0,978.1 1267.3,980.4 1267.6,981.5 1267.9,954.3 1268.2,973.7 1268.5,978.8 1268.8,982.0 1269.1,970.6 1269.4,983.9 1269.7,967.0 1270.0,971.7 1270.3,991.0 1270.6,959.5 1270.9,972.7 1271.2,972.0 1271.5,972.7 1271.8,968.1 1272.1,980.5 1272.4,962.8 1272.7,960.4 1273.0,979.2 1273.3,962.0 1273.6,978.5 1273.9,975.0 1274.2,967.8 1274.5,971.5 1274.8,974.3 1275.1,980.1 1275.4,969.1 1275.7,973.7 1276.0,961.1 1276.3,973.4 1276.6,956.5 1276.9,976.1 1277.2,972.0 1277.5,998.7 1277.8,1003.9 1278.1,975.8 1278.4,987.5 1278.7,980.8 1279.0,966.2 1279.3,953.2 1279.6,990.2 1279.9,983.0 1280.2,958.9 1280.5,986.1 1280.8,989.3 1281.1,973.0 1281.4,988.5 1281.7,962.8 1282.0,978.6 1282.3,981.5 1282.6,989.4 1282.9,985.7 1283.2,984.0 1283.5,987.6 1283.8,975.2 1284.1,997.3 1284.4,978.5 1284.7,990.2 1285.0,981.9 1285.3,979.3 1285.6,987.8 1285.9,986.2 1286.2,995.3 1286.5,992.3 1286.8,975.0 1287.1,985.8 1287.4,981.4 1287.7,971.8 1288.0,968.3 1288.3,982.0 1288.6,973.5 1288.9,964.4 1289.2,977.4 1289.5,980.4 1289.8,979.2 1290.1,965.0 1290.4,971.1 1290.7,991.0 1291.0,968.6 1291.3,972.9 1291.6,999.8 1291.9,979.4 1292.2,970.4 1292.5,955.3 1292.8,978.3 1293.1,960.6 1293.4,974.5 1293.7,965.7 1294.0,957.2 1294.3,991.4 1294.6,973.1 1294.9,983.5 1295.2,981.6 1295.5,966.3 1295.8,974.6 1296.1,969.9 1296.4,983.4 1296.7,977.8 1297.0,969.6 1297.3,992.4 1297.6,978.5 1297.9,977.8 1298.2,965.0 1298.5,977.2 1298.8,957.9 1299.1,977.8 1299.4,963.4 1299.7,974.9 1300.0,970.3 1300.3,975.5 1300.6,976.9 1300.9,972.8 1301.2,972.9 1301.5,958.4 1301.8,954.3 1302.1,987.0 1302.4,980.1 1302.7,959.3 1303.0,994.3 1303.3,967.6 1303.6,980.4 1303.9,979.8 1304.2,976.9 1304.5,982.3 1304.8,962.2 1305.1,976.2 1305.4,974.2 1305.7,978.0 1306.0,974.5 1306.3,981.4 1306.6,970.3 1306.9,987.1 1307.2,969.4 1307.5,982.0 1307.8,982.0 1308.1,977.5 1308.4,982.8 1308.7,984.0 1309.0,973.0 1309.3,981.8 1309.6,997.5 1309.9,967.2 1310.2,974.8 1310.5,969.8 1310.8,997.2 1311.1,962.8 1311.4,976.6 1311.7,985.5 1312.0,967.0 1312.3,973.9 1312.6,967.6 1312.9,960.9 1313.2,973.0 1313.5,1002.2 1313.8,968.7 1314.1,973.7 1314.4,978.2 1314.7,982.7 1315.0,958.3 1315.3,975.9 1315.6,963.3 1315.9,950.5 1316.2,960.9 1316.5,974.4 1316.8,970.7 1317.1,956.6 1317.4,982.7 1317.7,970.6 1318.0,965.8 1318.3,961.0 1318.6,941.7 1318.9,962.2 1319.2,976.8 1319.5,968.8 1319.8,971.6 1320.1,962.7 1320.4,966.3 1320.7,970.8 1321.0,956.0 1321.3,964.8 1321.6,965.7 1321.9,958.5 1322.2,974.6 1322.5,952.4 1322.8,978.0 1323.1,960.7 1323.4,975.6 1323.7,978.8 1324.0,958.3 1324.3,959.6 1324.6,975.6 1324.9,968.4 1325.2,967.3 1325.5,949.1 1325.8,950.8 1326.1,971.4 1326.4,979.8 1326.7,959.3 1327.0,944.4 1327.3,967.6 1327.6,969.7 1327.9,970.3 1328.2,960.5 1328.5,945.9 1328.8,977.7 1329.1,958.8 1329.4,975.0 1329.7,943.9 1330.0,961.5 1330.3,957.0 1330.6,951.1 1330.9,970.0 1331.2,972.5 1331.5,954.4 1331.8,965.5 1332.1,948.8 1332.4,952.7 1332.7,955.7 1333.0,954.3 1333.3,963.2 1333.6,945.4 1333.9,965.4 1334.2,965.0 1334.5,953.5 1334.8,944.1 1335.1,932.5 1335.4,953.9 1335.7,947.4 1336.0,954.8 1336.3,947.6 1336.6,953.3 1336.9,952.4 1337.2,952.9 1337.5,955.3 1337.8,955.2 1338.1,961.4 1338.4,944.7 1338.7,958.7 1339.0,953.3 1339.3,947.8 1339.6,942.2 1339.9,965.3 1340.2,953.7 1340.5,946.5 1340.8,952.0 1341.1,951.3 1341.4,946.3 1341.7,938.1 1342.0,952.5 1342.3,949.4 1342.6,948.1 1342.9,959.9 1343.2,938.2 1343.5,941.4 1343.8,951.6 1344.1,957.7 1344.4,950.7 1344.7,956.3 1345.0,928.6 1345.3,953.6 1345.6,952.6 1345.9,954.8 1346.2,941.7 1346.5,952.6 1346.8,956.9 1347.1,962.2 1347.4,949.4 1347.7,934.4 1348.0,947.0 1348.3,952.2 1348.6,950.7 1348.9,963.5 1349.2,943.7 1349.5,935.9 1349.8,939.2 1350.1,950.3 1350.4,925.1 1350.7,934.8 1351.0,938.3 1351.3,955.0 1351.6,945.8 1351.9,940.3 1352.2,950.8 1352.5,949.0 1352.8,933.6 1353.1,949.7 1353.4,944.0 1353.7,922.7 1354.0,930.3 1354.3,943.0 1354.6,944.7 1354.9,937.3 1355.2,930.5 1355.5,941.4 1355.8,922.1 1356.1,943.5 1356.4,936.6 1356.7,937.4 1357.0,931.3 1357.3,944.4 1357.6,915.3 1357.9,928.2 1358.2,940.8 1358.5,928.8 1358.8,947.5 1359.1,937.8 1359.4,926.9 1359.7,942.5 1360.0,931.5 1360.3,936.5 1360.6,925.8 1360.9,925.2 1361.2,935.1 1361.5,929.2 1361.8,920.8 1362.1,919.9 1362.4,929.4 1362.7,934.2 1363.0,916.2 1363.3,922.5 1363.6,901.2 1363.9,906.6 1364.2,909.7 1364.5,907.1 1364.8,902.9 1365.1,899.6 1365.4,895.8 1365.7,892.3 1366.0,887.4 1366.3,884.1 1366.6,879.5 1366.9,875.4 1367.2,871.3 1367.5,867.0 1367.8,862.5 1368.1,858.4 1368.4,853.6 1368.7,849.6 1369.0,844.0 1369.3,837.9 1369.6,832.8 1369.9,826.6 1370.2,820.0 1370.5,813.2 1370.8,807.0 1371.1,800.5 1371.4,794.2 1371.7,787.1 1372.0,780.4 1372.3,775.3 1372.6,768.4 1372.9,762.0 1373.2,755.4 1373.5,749.0 1373.8,741.6 1374.1,733.8 1374.4,726.3 1374.7,718.9 1375.0,713.0 1375.3,707.2 1375.6,703.5 1375.9,701.4 1376.2,700.9 1376.5,704.1 1376.8,699.6 1377.1,702.0 1377.4,700.4 1377.7,701.0 1378.0,701.8 1378.3,699.7 1378.6,701.4 1378.9,704.4 1379.2,701.4 1379.5,702.1 1379.8,700.5 1380.1,702.1 1380.4,699.6 1380.7,701.7 1381.0,701.2 1381.3,704.1 1381.6,701.2 1381.9,700.9 1382.2,700.6 1382.5,699.8 1382.8,702.2 1383.1,703.1 1383.4,700.8 1383.7,702.1 1384.0,700.8 1384.3,701.7 1384.6,701.8 1384.9,699.4 1385.2,700.3 1385.5,702.4 1385.8,699.4 1386.1,701.3 1386.4,700.9 1386.7,700.1 1387.0,701.5 1387.3,702.9 1387.6,706.2 1387.9,709.5 1388.2,717.2 1388.5,723.3 1388.8,731.3 1389.1,738.6 1389.4,746.1 1389.7,753.4 1390.0,761.0 1390.3,766.5 1390.6,772.1 1390.9,778.8 1391.2,786.1 1391.5,792.2 1391.8,798.7 1392.1,805.1 1392.4,811.2 1392.7,818.0 1393.0,824.0 1393.3,829.9 1393.6,833.8 1393.9,838.8 1394.2,842.5 1394.5,846.7 1394.8,849.3 1395.1,852.3 1395.4,854.2 1395.7,859.5 1396.0,860.7 1396.3,863.9 1396.6,865.5 1396.9,870.1 1397.2,871.0 1397.5,874.7 1397.8,877.9 1398.1,881.8 1398.4,885.3 1398.7,889.6 1399.0,891.5 1399.3,902.9 1399.6,905.6 1399.9,907.8 1400.2,911.6 1400.5,919.4 1400.8,923.2 1401.1,928.0 1401.4,919.0 1401.7,924.9 1402.0,941.2 1402.3,931.0 1402.6,934.6 1402.9,926.2 1403.2,928.7 1403.5,932.5 1403.8,943.6 1404.1,937.0 1404.4,958.6 1404.7,931.0 1405.0,926.9 1405.3,940.6 1405.6,933.6 1405.9,957.1 1406.2,941.2 1406.5,950.0 1406.8,932.8 1407.1,951.9 1407.4,952.0 1407.7,957.8 1408.0,948.8 1408.3,951.9 1408.6,924.0 1408.9,956.4 1409.2,944.4 1409.5,953.7 1409.8,943.8 1410.1,956.1 1410.4,947.3 1410.7,944.2 1411.0,944.4 1411.3,965.2 1411.6,936.9 1411.9,938.1 1412.2,958.7 1412.5,943.5 1412.8,949.0 1413.1,949.2 1413.4,976.3 1413.7,948.3 1414.0,948.1 1414.3,951.7 1414.6,958.1 1414.9,970.4 1415.2,942.2 1415.5,961.2 1415.8,976.2 1416.1,940.0 1416.4,963.4 1416.7,961.3 1417.0,954.9 1417.3,956.5 1417.6,935.5 1417.9,970.7 1418.2,955.9 1418.5,957.2 1418.8,971.5 1419.1,936.4 1419.4,959.0 1419.7,965.7 1420.0,967.1 1420.3,966.1 1420.6,980.4 1420.9,963.0 1421.2,970.4 1421.5,968.0 1421.8,945.6 1422.1,952.7 1422.4,981.2 1422.7,957.7 1423.0,959.7 1423.3,947.2 1423.6,956.9 1423.9,947.2 1424.2,954.3 1424.5,965.9 1424.8,952.0 1425.1,954.2 1425.4,973.7 1425.7,965.1 1426.0,965.5 1426.3,970.3 1426.6,955.0 1426.9,956.6 1427.2,940.1 1427.5,968.0 1427.8,958.7 1428.1,960.8 1428.4,950.2 1428.7,967.3 1429.0,967.5 1429.3,963.3 1429.6,946.0 1429.9,953.5 1430.2,961.7 1430.5,954.0 1430.8,966.2 1431.1,972.5 1431.4,955.5 1431.7,961.3 1432.0,956.6 1432.3,994.2 1432.6,985.0 1432.9,985.5 1433.2,964.3 1433.5,955.4 1433.8,968.7 1434.1,962.7 1434.4,967.0 1434.7,977.5 1435.0,962.8 1435.3,972.9 1435.6,945.3 1435.9,976.6 1436.2,964.3 1436.5,964.3 1436.8,962.0 1437.1,981.0 1437.4,962.3 1437.7,979.9 1438.0,962.6 1438.3,968.3 1438.6,971.5 1438.9,988.1 1439.2,970.7 1439.5,970.7 1439.8,967.8 1440.1,965.5 1440.4,962.6 1440.7,986.8 1441.0,983.5 1441.3,961.9 1441.6,970.5 1441.9,956.9 1442.2,978.4 1442.5,975.8 1442.8,969.9 1443.1,960.5 1443.4,976.6 1443.7,975.1 1444.0,966.8 1444.3,976.3 1444.6,957.7 1444.9,979.7 1445.2,958.6 1445.5,969.7 1445.8,986.0 1446.1,969.0 1446.4,980.4 1446.7,968.2 1447.0,964.3 1447.3,979.1 1447.6,974.3 1447.9,983.4 1448.2,978.8 1448.5,960.3 1448.8,942.3 1449.1,970.1 1449.4,956.6 1449.7,954.2 1450.0,953.5 1450.3,962.1 1450.6,966.6 1450.9,968.7 1451.2,989.6 1451.5,956.1 1451.8,968.3 1452.1,955.5 1452.4,958.0 1452.7,968.7 1453.0,972.2 1453.3,954.6 1453.6,979.3 1453.9,957.9 1454.2,977.0 1454.5,966.5 1454.8,975.2 1455.1,972.5 1455.4,963.6 1455.7,971.2 1456.0,952.4 1456.3,952.7 1456.6,962.2 1456.9,979.7 1457.2,958.0 1457.5,959.4 1457.8,982.3 1458.1,965.7 1458.4,965.2 1458.7,954.5 1459.0,965.7 1459.3,971.1 1459.6,964.5 1459.9,975.0 1460.2,968.4 1460.5,975.8 1460.8,973.5 1461.1,963.7 1461.4,973.9 1461.7,983.5 1462.0,968.2 1462.3,927.1 1462.6,967.0 1462.9,963.0 1463.2,991.4 1463.5,972.6 1463.8,953.6 1464.1,962.8 1464.4,979.5 1464.7,952.6 1465.0,959.3 1465.3,964.2 1465.6,962.5 1465.9,957.7 1466.2,964.9 1466.5,949.0 1466.8,957.2 1467.1,956.8 1467.4,959.6 1467.7,959.4 1468.0,962.2 1468.3,958.4 1468.6,957.5 1468.9,965.3 1469.2,970.7 1469.5,971.2 1469.8,949.3 1470.1,963.6 1470.4,968.6 1470.7,958.1 1471.0,965.7 1471.3,958.6 1471.6,964.7 1471.9,945.2 1472.2,965.7 1472.5,956.0 1472.8,953.5 1473.1,958.1 1473.4,971.4 1473.7,971.1 1474.0,964.1 1474.3,970.6 1474.6,957.6 1474.9,949.1 1475.2,949.8 1475.5,961.9 1475.8,960.9 1476.1,962.9 1476.4,963.4 1476.7,975.4 1477.0,950.4 1477.3,955.0 1477.6,982.9 1477.9,971.1 1478.2,960.1 1478.5,942.2 1478.8,954.6 1479.1,959.7 1479.4,962.6 1479.7,965.5 1480.0,945.1 1480.3,952.5 1480.6,951.3 1480.9,960.6 1481.2,956.5 1481.5,971.5 1481.8,965.3 1482.1,971.5 1482.4,964.1 1482.7,1002.0 1483.0,970.6 1483.3,955.3 1483.6,962.9 1483.9,958.7 1484.2,970.5 1484.5,972.5 1484.8,966.3 1485.1,960.3 1485.4,955.2 1485.7,987.9 1486.0,973.2 1486.3,909.2 1486.6,962.1 1486.9,952.6 1487.2,957.3 1487.5,978.4 1487.8,949.2 1488.1,950.1 1488.4,985.9 1488.7,955.7 1489.0,958.2 1489.3,972.3 1489.6,955.3 1489.9,960.9 1490.2,963.1 1490.5,975.0 1490.8,944.1 1491.1,952.1 1491.4,959.4 1491.7,970.0 1492.0,954.2 1492.3,965.4 1492.6,955.5 1492.9,956.7 1493.2,973.6 1493.5,958.2 1493.8,990.6 1494.1,964.1 1494.4,971.7 1494.7,967.7 1495.0,944.4 1495.3,944.4 1495.6,964.6 1495.9,980.5 1496.2,953.7 1496.5,924.3 1496.8,949.5 1497.1,970.2 1497.4,965.9 1497.7,959.5 1498.0,963.1 1498.3,948.1 1498.6,958.0 1498.9,948.1 1499.2,971.9 1499.5,949.3 1499.8,950.2 1500.1,944.7 1500.4,961.8 1500.7,945.7 1501.0,953.9 1501.3,954.9 1501.6,955.0 1501.9,961.0 1502.2,960.9 1502.5,964.9 1502.8,959.6 1503.1,958.2 1503.4,954.1 1503.7,969.9 1504.0,947.6 1504.3,974.3 1504.6,977.1 1504.9,977.1 1505.2,954.5 1505.5,976.7 1505.8,988.1 1506.1,966.9 1506.4,988.8 1506.7,958.5 1507.0,962.3 1507.3,944.5 1507.6,935.1 1507.9,959.6 1508.2,961.0 1508.5,963.7 1508.8,959.7 1509.1,937.3 1509.4,960.2 1509.7,954.4 1510.0,971.6 1510.3,947.0 1510.6,923.3 1510.9,949.2 1511.2,949.5 1511.5,940.0 1511.8,954.0 1512.1,969.8 1512.4,944.8 1512.7,937.1 1513.0,951.7 1513.3,949.3 1513.6,960.1 1513.9,946.7 1514.2,951.7 1514.5,945.4 1514.8,944.0 1515.1,956.0 1515.4,953.4 1515.7,951.6 1516.0,956.5 1516.3,944.0 1516.6,951.4 1516.9,952.7 1517.2,961.1 1517.5,933.1 1517.8,955.2 1518.1,953.3 1518.4,943.7 1518.7,949.2 1519.0,954.0 1519.3,951.6 1519.6,931.4 1519.9,935.5 1520.2,920.4 1520.5,951.0 1520.8,946.4 1521.1,956.0 1521.4,943.7 1521.7,932.3 1522.0,951.6 1522.3,929.4 1522.6,940.7 1522.9,938.2 1523.2,946.5 1523.5,947.2 1523.8,934.4 1524.1,931.0 1524.4,936.7 1524.7,933.0 1525.0,944.8 1525.3,914.8 1525.6,947.9 1525.9,958.5 1526.2,926.1 1526.5,928.0 1526.8,937.5 1527.1,936.3 1527.4,928.9 1527.7,915.9 1528.0,954.5 1528.3,931.4 1528.6,919.5 1528.9,907.7 1529.2,942.0 1529.5,931.7 1529.8,928.2 1530.1,923.6 1530.4,926.2 1530.7,923.0 1531.0,903.1 1531.3,935.4 1531.6,929.0 1531.9,921.3 1532.2,915.0 1532.5,917.8 1532.8,945.3 1533.1,926.0 1533.4,909.5 1533.7,929.6 1534.0,925.5 1534.3,925.3 1534.6,918.8 1534.9,918.0 1535.2,921.2 1535.5,916.9 1535.8,905.3 1536.1,908.8 1536.4,918.0 1536.7,902.6 1537.0,916.2 1537.3,914.3 1537.6,924.1 1537.9,918.5 1538.2,914.0 1538.5,913.9 1538.8,920.7 1539.1,925.5 1539.4,904.0 1539.7,901.5 1540.0,908.9 1540.3,893.7 1540.6,908.3 1540.9,923.8 1541.2,925.1 1541.5,930.2 1541.8,938.9 1542.1,916.4 1542.4,909.0 1542.7,909.4 1543.0,916.9 1543.3,922.6 1543.6,917.6 1543.9,893.4 1544.2,917.6 1544.5,912.4 1544.8,906.3 1545.1,913.1 1545.4,920.2 1545.7,912.4 1546.0,903.5 1546.3,943.6 1546.6,903.8 1546.9,914.4 1547.2,905.5 1547.5,900.6 1547.8,914.7 1548.1,900.3 1548.4,906.1 1548.7,900.9 1549.0,926.9 1549.3,894.2 1549.6,914.0 1549.9,909.0 1550.2,887.8 1550.5,926.9 1550.8,903.1 1551.1,906.5 1551.4,911.7 1551.7,900.6 1552.0,902.3 1552.3,910.0 1552.6,902.0 1552.9,912.0 1553.2,939.0 1553.5,901.9 1553.8,896.9 1554.1,911.2 1554.4,916.7 1554.7,919.6 1555.0,903.3 1555.3,891.9 1555.6,922.5 1555.9,921.2 1556.2,928.9 1556.5,906.3 1556.8,920.7 1557.1,925.0 1557.4,899.0 1557.7,925.8 1558.0,929.4 1558.3,921.8 1558.6,921.6 1558.9,923.5 1559.2,914.4 1559.5,903.7 1559.8,908.4 1560.1,915.4 1560.4,909.5 1560.7,926.6 1561.0,913.9 1561.3,916.9 1561.6,902.6 1561.9,921.9 1562.2,912.8 1562.5,932.3 1562.8,905.2 1563.1,923.1 1563.4,917.6 1563.7,918.6 1564.0,936.6 1564.3,931.1 1564.6,916.7 1564.9,936.3 1565.2,920.0 1565.5,933.0 1565.8,917.5 1566.1,925.4 1566.4,926.6 1566.7,927.2 1567.0,917.4 1567.3,915.6 1567.6,932.7 1567.9,939.1 1568.2,935.0 1568.5,912.3 1568.8,923.0 1569.1,934.8 1569.4,932.9 1569.7,932.0 1570.0,941.0 1570.3,941.5 1570.6,944.2 1570.9,938.5 1571.2,933.5 1571.5,939.8 1571.8,939.1 1572.1,926.7 1572.4,939.1 1572.7,926.9 1573.0,924.0 1573.3,934.9 1573.6,962.8 1573.9,949.3 1574.2,939.7 1574.5,947.6 1574.8,956.2 1575.1,943.5 1575.4,945.8 1575.7,935.5 1576.0,949.8 1576.3,942.4 1576.6,942.4 1576.9,930.8 1577.2,932.6 1577.5,935.1 1577.8,942.7 1578.1,952.3 1578.4,927.1 1578.7,923.1 1579.0,939.1 1579.3,964.4 1579.6,940.6 1579.9,937.6 1580.2,950.4 1580.5,932.7 1580.8,949.1 1581.1,927.9 1581.4,964.4 1581.7,944.7 1582.0,941.4 1582.3,933.1 1582.6,945.0 1582.9,945.5 1583.2,940.2 1583.5,959.5 1583.8,945.0 1584.1,949.5 1584.4,951.8 1584.7,962.7 1585.0,945.9 1585.3,950.7 1585.6,953.2 1585.9,956.6 1586.2,932.7 1586.5,962.3 1586.8,949.9 1587.1,944.1 1587.4,951.0 1587.7,932.4 1588.0,943.8 1588.3,953.3 1588.6,964.8 1588.9,943.8 1589.2,955.2 1589.5,948.3 1589.8,959.6 1590.1,947.0 1590.4,955.4 1590.7,947.4 1591.0,941.1 1591.3,940.7 1591.6,944.0 1591.9,961.8 1592.2,981.7 1592.5,948.2 1592.8,942.8 1593.1,955.4 1593.4,954.9 1593.7,944.9 1594.0,969.1 1594.3,958.8 1594.6,959.6 1594.9,951.0 1595.2,951.7 1595.5,972.4 1595.8,936.9 1596.1,942.8 1596.4,951.7 1596.7,936.5 1597.0,967.2 1597.3,944.9 1597.6,946.9 1597.9,954.4 1598.2,966.2 1598.5,950.9 1598.8,943.7 1599.1,942.1 1599.4,953.6 1599.7,945.6 1600.0,974.9 1600.3,963.8 1600.6,919.7 1600.9,942.0 1601.2,944.5 1601.5,974.4 1601.8,931.2 1602.1,947.0 1602.4,963.6 1602.7,944.7 1603.0,952.5 1603.3,946.9 1603.6,958.8 1603.9,941.2 1604.2,952.7 1604.5,938.0 1604.8,945.9 1605.1,959.4 1605.4,953.1 1605.7,954.1 1606.0,954.3 1606.3,950.5 1606.6,956.1 1606.9,958.5 1607.2,954.2 1607.5,949.0 1607.8,951.0 1608.1,950.6 1608.4,960.2 1608.7,957.2 1609.0,976.2 1609.3,953.8 1609.6,956.5 1609.9,949.1 1610.2,956.8 1610.5,951.1 1610.8,946.8 1611.1,957.5 1611.4,972.5 1611.7,946.9 1612.0,949.2 1612.3,955.7 1612.6,958.9 1612.9,969.9 1613.2,949.7 1613.5,955.2 1613.8,948.5 1614.1,947.9 1614.4,952.3 1614.7,945.9 1615.0,962.4 1615.3,968.9 1615.6,952.9 1615.9,951.2 1616.2,972.5 1616.5,956.8 1616.8,974.6 1617.1,929.4 1617.4,957.9 1617.7,949.2 1618.0,954.4 1618.3,968.3 1618.6,971.3 1618.9,958.3 1619.2,986.9 1619.5,941.5 1619.8,962.7 1620.1,958.2 1620.4,946.1 1620.7,968.7 1621.0,952.3 1621.3,963.5 1621.6,950.9 1621.9,960.3 1622.2,964.5 1622.5,957.8 1622.8,952.7 1623.1,963.5 1623.4,959.1 1623.7,952.3 1624.0,956.8 1624.3,955.2 1624.6,952.3 1624.9,964.8 1625.2,973.1 1625.5,949.9 1625.8,953.7 1626.1,945.1 1626.4,941.0 1626.7,965.9 1627.0,952.9 1627.3,957.5 1627.6,940.2 1627.9,947.4 1628.2,958.5 1628.5,958.5 1628.8,955.9 1629.1,957.6 1629.4,955.6 1629.7,963.4 1630.0,970.4 1630.3,958.8 1630.6,952.0 1630.9,942.9 1631.2,948.2 1631.5,949.7 1631.8,966.4 1632.1,937.9 1632.4,944.9 1632.7,955.2 1633.0,959.8 1633.3,945.3 1633.6,934.9 1633.9,932.8 1634.2,953.4 1634.5,936.2 1634.8,959.3 1635.1,958.5 1635.4,939.5 1635.7,945.7 1636.0,948.1 1636.3,935.3 1636.6,936.9 1636.9,941.1 1637.2,945.0 1637.5,946.6 1637.8,929.5 1638.1,944.6 1638.4,940.9 1638.7,938.8 1639.0,936.4 1639.3,945.8 1639.6,948.2 1639.9,933.1 1640.2,933.5 1640.5,924.7 1640.8,925.6 1641.1,923.8 1641.4,915.1 1641.7,909.7 1642.0,901.4 1642.3,895.0 1642.6,888.7 1642.9,884.0 1643.2,869.8 1643.5,868.9 1643.8,854.6 1644.1,856.3 1644.4,846.4 1644.7,841.4 1645.0,842.0 1645.3,832.7 1645.6,830.9 1645.9,825.2 1646.2,827.1 1646.5,814.1 1646.8,810.3 1647.1,810.2 1647.4,821.4 1647.7,803.5 1648.0,804.1 1648.3,810.7" fill="none" stroke="#000" stroke-width="1.8" stroke-linejoin="bevel"/>
<line x1="1397.3" y1="702" x2="1397.3" y2="865" stroke="#666" stroke-width="1.6"/><line x1="1400" y1="122" x2="1400" y2="192" stroke="#666" stroke-width="1.6"/>
<line x1="1397.4" y1="418" x2="1397.4" y2="556" stroke="#666" stroke-width="1.6"/>
</g>
<rect x="846.5" y="1117" width="426.5" height="178.5" fill="#fff" stroke="#4a4a4a" stroke-width="2.2"/>
<line x1="869.5" y1="1142.9" x2="948.5" y2="1142.9" stroke="#008b8b" stroke-width="10" stroke-linecap="round"/>
<text x="957.55" y="1154.30" font-size="37.36" font-weight="bold" fill="#008b8b" textLength="298.73" lengthAdjust="spacingAndGlyphs">ZnS-PDF#05-0566</text>
<line x1="869.5" y1="1186.9" x2="948.5" y2="1186.9" stroke="#ff0000" stroke-width="10" stroke-linecap="round"/>
<text x="956.23" y="1198.30" font-size="37.36" font-weight="bold" fill="#ff0000" textLength="304.96" lengthAdjust="spacingAndGlyphs">LiZn/PDF#03-0954</text>
<line x1="869.5" y1="1231.0" x2="948.5" y2="1231.0" stroke="#008000" stroke-width="10" stroke-linecap="round"/>
<text x="956.22" y="1241.90" font-size="37.36" font-weight="bold" fill="#008000" textLength="225.60" lengthAdjust="spacingAndGlyphs">Li2S#23-0369</text>
<line x1="869.5" y1="1276.0" x2="948.5" y2="1276.0" stroke="#0000ff" stroke-width="10" stroke-linecap="round"/>
<text x="957.15" y="1287.00" font-size="37.36" font-weight="bold" fill="#0000ff" textLength="277.73" lengthAdjust="spacingAndGlyphs">Cu/PDF#04-0836</text>
<line x1="676.0" y1="1333.0" x2="676.0" y2="1452" stroke="#ff0000" stroke-width="10.5" stroke-linecap="round"/>
<line x1="763.0" y1="1321.0" x2="763.0" y2="1452" stroke="#008000" stroke-width="10.5" stroke-linecap="round"/>
<line x1="824.6" y1="1321.0" x2="824.6" y2="1452" stroke="#008b8b" stroke-width="10.5" stroke-linecap="round"/>
<line x1="927.0" y1="1427.5" x2="927.0" y2="1452" stroke="#008000" stroke-width="10.5" stroke-linecap="round"/>
<line x1="999.5" y1="1440.0" x2="999.5" y2="1452" stroke="#008b8b" stroke-width="10.5" stroke-linecap="round"/>
<line x1="1304.0" y1="1321.0" x2="1304.0" y2="1452" stroke="#ff0000" stroke-width="10.5" stroke-linecap="round"/>
<line x1="1393.0" y1="1321.0" x2="1393.0" y2="1452" stroke="#0000ff" stroke-width="10.5" stroke-linecap="round"/>
<line x1="1450.9" y1="1399.0" x2="1450.9" y2="1452" stroke="#008000" stroke-width="10.5" stroke-linecap="round"/>
<line x1="1555.2" y1="1385.0" x2="1555.2" y2="1452" stroke="#008b8b" stroke-width="10.5" stroke-linecap="round"/>
<line x1="1589.0" y1="1346.7" x2="1589.0" y2="1452" stroke="#ff0000" stroke-width="10.5" stroke-linecap="round"/>
<ellipse cx="820.0" cy="281.5" rx="18.5" ry="21" fill="#0f8c8c" stroke="#1a6e9a" stroke-width="2"/>
<ellipse cx="994.6" cy="330.4" rx="18.5" ry="21" fill="#0f8c8c" stroke="#1a6e9a" stroke-width="2"/>
<ellipse cx="1552.0" cy="286.0" rx="18.5" ry="21" fill="#0f8c8c" stroke="#1a6e9a" stroke-width="2"/>
<rect x="657.6" y="576.6" width="37.6" height="37.9" fill="#ff0000"/>
<polygon points="762.6,517.5 786.6,542.5 762.6,567.5 738.6,542.5" fill="#3a8a2a" stroke="#1a6a8a" stroke-width="2.5"/>
<polygon points="921.6,575.9 945.6,600.9 921.6,625.9 897.6,600.9" fill="#3a8a2a" stroke="#1a6a8a" stroke-width="2.5"/>
<rect x="1289.8" y="514.0" width="37.9" height="37.0" fill="#ff0000"/>
<ellipse cx="811.7" cy="736.3" rx="18.5" ry="21" fill="#0f8c8c" stroke="#1a6e9a" stroke-width="2"/>
<ellipse cx="995.0" cy="939.0" rx="18.5" ry="21" fill="#0f8c8c" stroke="#1a6e9a" stroke-width="2"/>
<ellipse cx="1548.0" cy="839.7" rx="18.5" ry="21" fill="#0f8c8c" stroke="#1a6e9a" stroke-width="2"/>
<polygon points="1381.3,175.0 1398.6,213.5 1364.0,213.5" fill="#0000ff"/>
<polygon points="1382.0,428.0 1398.5,471.0 1365.5,471.0" fill="#0000ff"/>
<polygon points="1374.2,752.0 1391.7,807.0 1356.7,807.0" fill="#0000ff"/>
<rect x="1375.4" y="150" width="12.2" height="958" fill="#061d6a"/>
<polygon points="1381.2,121.5 1399.4,158.8 1363,158.8" fill="#061d6a"/>
<text x="799.36" y="187.50" font-size="55.52" font-weight="normal" fill="#000" textLength="77.57" lengthAdjust="spacingAndGlyphs" stroke="#000" stroke-width="0.9">(3)</text>
<text x="874.34" y="187.50" font-size="55.52" font-weight="bold" fill="#000" textLength="477.43" lengthAdjust="spacingAndGlyphs">Full Charge - 2.5 V</text>
<text x="681.43" y="499.80" font-size="55.52" font-weight="normal" fill="#000" textLength="74.34" lengthAdjust="spacingAndGlyphs" stroke="#000" stroke-width="0.9">(2)</text>
<text x="766.29" y="499.80" font-size="55.52" font-weight="bold" fill="#000" textLength="592.49" lengthAdjust="spacingAndGlyphs">Full Discharge - 0.01 V</text>
<text x="952.18" y="783.80" font-size="59.01" font-weight="normal" fill="#000" textLength="69.34" lengthAdjust="spacingAndGlyphs" stroke="#000" stroke-width="0.9">(1)</text>
<text x="1036.32" y="783.80" font-size="59.01" font-weight="bold" fill="#000" textLength="201.97" lengthAdjust="spacingAndGlyphs">Pristine</text>
<path d="M493,1454 V118 H1652 V1454 Z" fill="none" stroke="#000" stroke-width="8.4" stroke-linejoin="miter"/>
<line x1="493" y1="1104.8" x2="1652" y2="1104.8" stroke="#000" stroke-width="7.5"/>
<line x1="493.5" y1="1454" x2="493.5" y2="1477.0" stroke="#000" stroke-width="7.5" stroke-linecap="butt"/>
<line x1="589.9" y1="1454" x2="589.9" y2="1465.5" stroke="#000" stroke-width="7.5" stroke-linecap="round"/>
<line x1="686.2" y1="1454" x2="686.2" y2="1477.0" stroke="#000" stroke-width="7.5" stroke-linecap="butt"/>
<line x1="782.6" y1="1454" x2="782.6" y2="1465.5" stroke="#000" stroke-width="7.5" stroke-linecap="round"/>
<line x1="879.0" y1="1454" x2="879.0" y2="1477.0" stroke="#000" stroke-width="7.5" stroke-linecap="butt"/>
<line x1="975.4" y1="1454" x2="975.4" y2="1465.5" stroke="#000" stroke-width="7.5" stroke-linecap="round"/>
<line x1="1071.8" y1="1454" x2="1071.8" y2="1477.0" stroke="#000" stroke-width="7.5" stroke-linecap="butt"/>
<line x1="1168.1" y1="1454" x2="1168.1" y2="1465.5" stroke="#000" stroke-width="7.5" stroke-linecap="round"/>
<line x1="1264.5" y1="1454" x2="1264.5" y2="1477.0" stroke="#000" stroke-width="7.5" stroke-linecap="butt"/>
<line x1="1360.9" y1="1454" x2="1360.9" y2="1465.5" stroke="#000" stroke-width="7.5" stroke-linecap="round"/>
<line x1="1457.2" y1="1454" x2="1457.2" y2="1477.0" stroke="#000" stroke-width="7.5" stroke-linecap="butt"/>
<line x1="1553.6" y1="1454" x2="1553.6" y2="1465.5" stroke="#000" stroke-width="7.5" stroke-linecap="round"/>
<line x1="1650.0" y1="1454" x2="1650.0" y2="1477.0" stroke="#000" stroke-width="7.5" stroke-linecap="butt"/>
<text x="462.29" y="1532.00" font-size="59.59" font-weight="bold" fill="#000" textLength="62.77" lengthAdjust="spacingAndGlyphs">20</text>
<text x="655.07" y="1532.00" font-size="59.59" font-weight="bold" fill="#000" textLength="61.98" lengthAdjust="spacingAndGlyphs">25</text>
<text x="848.47" y="1532.00" font-size="59.59" font-weight="bold" fill="#000" textLength="62.07" lengthAdjust="spacingAndGlyphs">30</text>
<text x="1041.24" y="1532.00" font-size="59.59" font-weight="bold" fill="#000" textLength="61.30" lengthAdjust="spacingAndGlyphs">35</text>
<text x="1234.41" y="1532.00" font-size="59.59" font-weight="bold" fill="#000" textLength="61.61" lengthAdjust="spacingAndGlyphs">40</text>
<text x="1427.17" y="1532.00" font-size="59.59" font-weight="bold" fill="#000" textLength="60.85" lengthAdjust="spacingAndGlyphs">45</text>
<text x="1619.02" y="1532.00" font-size="59.59" font-weight="bold" fill="#000" textLength="62.54" lengthAdjust="spacingAndGlyphs">50</text>
<text x="833.37" y="1650.00" font-size="82.12" font-weight="bold" fill="#000" textLength="475.40" lengthAdjust="spacingAndGlyphs">2-theta (deg.)</text>
<g transform="translate(408,949) rotate(-90)"><text x="-5.05" y="0.00" font-size="80.67" font-weight="bold" fill="#000" textLength="511.81" lengthAdjust="spacingAndGlyphs">Intensity (a.u.)</text></g>
<text x="37.80" y="1695.00" font-size="115.00" font-weight="bold" fill="#000" textLength="140.89" lengthAdjust="spacingAndGlyphs">(b)</text>
<circle cx="221.5" cy="1746.0" r="42.0" fill="url(#gZnB)"/>
<circle cx="335.0" cy="1746.0" r="42.0" fill="url(#gZnB)"/>
<circle cx="388.0" cy="1746.0" r="42.0" fill="url(#gZnB)"/>
<circle cx="252.0" cy="1746.0" r="31.0" fill="url(#gS)"/>
<circle cx="423.0" cy="1746.0" r="31.0" fill="url(#gS)"/>
<circle cx="280.0" cy="1746.0" r="41.5" fill="url(#gZnF)"/>
<circle cx="362.0" cy="1746.0" r="30.5" fill="url(#gS)"/>
<circle cx="445.0" cy="1746.0" r="42.0" fill="url(#gZnF)"/>
<circle cx="221.5" cy="1918.5" r="42.0" fill="url(#gZnB)"/>
<circle cx="335.0" cy="1918.5" r="42.0" fill="url(#gZnB)"/>
<circle cx="388.0" cy="1918.5" r="42.0" fill="url(#gZnB)"/>
<circle cx="252.0" cy="1918.5" r="31.0" fill="url(#gS)"/>
<circle cx="423.0" cy="1918.5" r="31.0" fill="url(#gS)"/>
<circle cx="280.0" cy="1918.5" r="41.5" fill="url(#gZnF)"/>
<circle cx="362.0" cy="1918.5" r="30.5" fill="url(#gS)"/>
<circle cx="445.0" cy="1918.5" r="42.0" fill="url(#gZnF)"/>
<circle cx="222.0" cy="1832.0" r="31.0" fill="url(#gS)"/>
<circle cx="250.0" cy="1832.0" r="41.0" fill="url(#gZnF)"/>
<circle cx="307.0" cy="1832.0" r="42.0" fill="url(#gZnB)"/>
<circle cx="415.0" cy="1832.0" r="42.0" fill="url(#gZnB)"/>
<circle cx="340.0" cy="1832.0" r="31.0" fill="url(#gS)"/>
<circle cx="280.0" cy="1832.0" r="30.5" fill="url(#gS)"/>
<circle cx="362.0" cy="1832.0" r="41.5" fill="url(#gZnF)"/>
<circle cx="444.0" cy="1832.0" r="32.0" fill="url(#gS)"/>
<rect x="930" y="1752" width="160" height="158" fill="#0a0a4c"/>
<circle cx="968.2" cy="1789.0" r="34.0" fill="url(#gLiB)"/>
<circle cx="968.2" cy="1872.5" r="34.0" fill="url(#gLiB)"/>
<circle cx="1051.2" cy="1789.0" r="34.0" fill="url(#gLiB)"/>
<circle cx="1051.2" cy="1872.5" r="34.0" fill="url(#gLiB)"/>
<circle cx="925.8" cy="1746.8" r="43" fill="#12124a" stroke="#0a0a36" stroke-width="3"/>
<circle cx="925.8" cy="1914.5" r="43" fill="#12124a" stroke="#0a0a36" stroke-width="3"/>
<circle cx="1093.6" cy="1746.8" r="43" fill="#12124a" stroke="#0a0a36" stroke-width="3"/>
<circle cx="1093.6" cy="1914.5" r="43" fill="#12124a" stroke="#0a0a36" stroke-width="3"/>
<circle cx="1009.7" cy="1746.8" r="46.0" fill="url(#gLi)"/>
<circle cx="925.8" cy="1830.5" r="46.0" fill="url(#gLi)"/>
<circle cx="1093.6" cy="1830.5" r="46.0" fill="url(#gLi)"/>
<circle cx="1009.7" cy="1914.5" r="46.0" fill="url(#gLi)"/>
<circle cx="925.8" cy="1746.8" r="30.6" fill="url(#gS)"/>
<circle cx="925.8" cy="1914.5" r="30.6" fill="url(#gS)"/>
<circle cx="1093.6" cy="1746.8" r="30.6" fill="url(#gS)"/>
<circle cx="1093.6" cy="1914.5" r="30.6" fill="url(#gS)"/>
<circle cx="1009.7" cy="1830.5" r="30.6" fill="url(#gS)"/>
<rect x="1266" y="1738" width="185" height="185" fill="#20205c"/>
<circle cx="1404.0" cy="1783.0" r="34.0" fill="url(#gLiB)"/>
<circle cx="1311.0" cy="1876.0" r="34.0" fill="url(#gLiB)"/>
<circle cx="1358.0" cy="1738.0" r="40.0" fill="url(#gZnL)"/>
<circle cx="1451.5" cy="1738.0" r="40.0" fill="url(#gZnL)"/>
<circle cx="1264.5" cy="1830.0" r="40.0" fill="url(#gZnL)"/>
<circle cx="1451.5" cy="1830.0" r="40.0" fill="url(#gZnL)"/>
<circle cx="1264.5" cy="1922.5" r="40.0" fill="url(#gZnL)"/>
<circle cx="1358.0" cy="1922.5" r="40.0" fill="url(#gZnL)"/>
<circle cx="1311.0" cy="1783.0" r="45.0" fill="url(#gLi)"/>
<circle cx="1404.0" cy="1876.0" r="45.0" fill="url(#gLi)"/>
<circle cx="1264.5" cy="1738.0" r="40.0" fill="url(#gZnL)"/>
<circle cx="1451.5" cy="1922.5" r="40.0" fill="url(#gZnL)"/>
<circle cx="1358.0" cy="1830.0" r="40.0" fill="url(#gZnL)"/>
<circle cx="1970.5" cy="1744.5" r="42.0" fill="url(#gZnB)"/>
<circle cx="2084.0" cy="1744.5" r="42.0" fill="url(#gZnB)"/>
<circle cx="2137.0" cy="1744.5" r="42.0" fill="url(#gZnB)"/>
<circle cx="2001.0" cy="1744.5" r="31.0" fill="url(#gS)"/>
<circle cx="2172.0" cy="1744.5" r="31.0" fill="url(#gS)"/>
<circle cx="2029.0" cy="1744.5" r="41.5" fill="url(#gZnF)"/>
<circle cx="2111.0" cy="1744.5" r="30.5" fill="url(#gS)"/>
<circle cx="2194.0" cy="1744.5" r="42.0" fill="url(#gZnF)"/>
<circle cx="1970.5" cy="1917.0" r="42.0" fill="url(#gZnB)"/>
<circle cx="2084.0" cy="1917.0" r="42.0" fill="url(#gZnB)"/>
<circle cx="2137.0" cy="1917.0" r="42.0" fill="url(#gZnB)"/>
<circle cx="2001.0" cy="1917.0" r="31.0" fill="url(#gS)"/>
<circle cx="2172.0" cy="1917.0" r="31.0" fill="url(#gS)"/>
<circle cx="2029.0" cy="1917.0" r="41.5" fill="url(#gZnF)"/>
<circle cx="2111.0" cy="1917.0" r="30.5" fill="url(#gS)"/>
<circle cx="2194.0" cy="1917.0" r="42.0" fill="url(#gZnF)"/>
<circle cx="1971.0" cy="1830.5" r="31.0" fill="url(#gS)"/>
<circle cx="1999.0" cy="1830.5" r="41.0" fill="url(#gZnF)"/>
<circle cx="2056.0" cy="1830.5" r="42.0" fill="url(#gZnB)"/>
<circle cx="2164.0" cy="1830.5" r="42.0" fill="url(#gZnB)"/>
<circle cx="2089.0" cy="1830.5" r="31.0" fill="url(#gS)"/>
<circle cx="2029.0" cy="1830.5" r="30.5" fill="url(#gS)"/>
<circle cx="2111.0" cy="1830.5" r="41.5" fill="url(#gZnF)"/>
<circle cx="2193.0" cy="1830.5" r="32.0" fill="url(#gS)"/>
<path d="M523.2,1843.3 H818 V1834 L836.7,1853.2 L818,1872.8 V1863 H523.2 Z" fill="#0000ff"/>
<path d="M1537.8,1837.6 H1835 V1831.8 L1850.3,1845.4 L1835,1859 V1853.2 H1537.8 Z" fill="#0000ff"/>
<text x="519.14" y="1802.00" font-size="64.68" font-weight="bold" fill="#000" textLength="326.82" lengthAdjust="spacingAndGlyphs">Li insertion</text>
<text x="1519.33" y="1801.40" font-size="61.05" font-weight="bold" fill="#000" textLength="362.05" lengthAdjust="spacingAndGlyphs">Li extraction</text>
<text x="264.41" y="2065.40" font-size="83.58" font-weight="bold" fill="#000" textLength="132.32" lengthAdjust="spacingAndGlyphs">ZnS</text>
<text x="939.40" y="2064.00" font-size="83.58" font-weight="bold" fill="#000" textLength="58.46" lengthAdjust="spacingAndGlyphs">Li</text>
<text x="997.83" y="2082.00" font-size="54.51" font-weight="bold" fill="#000" textLength="29.92" lengthAdjust="spacingAndGlyphs">2</text>
<text x="1028.65" y="2064.00" font-size="83.58" font-weight="bold" fill="#000" textLength="40.41" lengthAdjust="spacingAndGlyphs">S</text>
<text x="1281.32" y="2064.00" font-size="83.58" font-weight="bold" fill="#000" textLength="147.51" lengthAdjust="spacingAndGlyphs">LiZn</text>
<text x="2015.21" y="2065.30" font-size="83.58" font-weight="bold" fill="#000" textLength="132.22" lengthAdjust="spacingAndGlyphs">ZnS</text>
<circle cx="944.0" cy="2174.0" r="42.0" fill="url(#gZnL)"/>
<circle cx="1181.5" cy="2174.0" r="42.0" fill="url(#gS)"/>
<circle cx="1388.0" cy="2175.0" r="40.5" fill="url(#gLi)"/>
<text x="1012.84" y="2203.00" font-size="80.52" font-weight="bold" fill="#000" textLength="88.66" lengthAdjust="spacingAndGlyphs">Zn</text>
<text x="1257.18" y="2203.00" font-size="80.52" font-weight="bold" fill="#000" textLength="42.08" lengthAdjust="spacingAndGlyphs">S</text>
<text x="1456.39" y="2203.00" font-size="80.52" font-weight="bold" fill="#000" textLength="58.58" lengthAdjust="spacingAndGlyphs">Li</text>
</svg>
</body></html>
